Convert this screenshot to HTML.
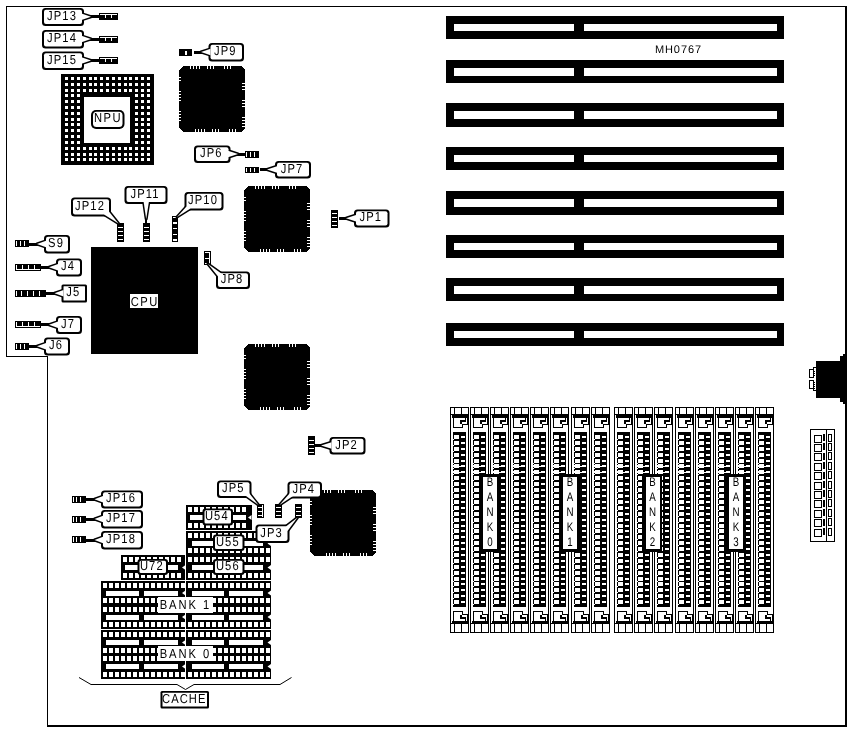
<!DOCTYPE html>
<html><head><meta charset="utf-8"><title>MH0767</title>
<style>
html,body{margin:0;padding:0;background:#fff;}
svg{display:block;font-family:"Liberation Sans",sans-serif;will-change:transform;}
text{fill:#000;}
</style></head>
<body>
<svg width="851" height="732" viewBox="0 0 851 732" shape-rendering="crispEdges" text-rendering="geometricPrecision">
<rect x="6" y="6" width="840" height="1" fill="#000"/>
<rect x="6" y="6" width="1" height="351" fill="#000"/>
<rect x="6" y="356" width="42" height="1" fill="#000"/>
<rect x="47" y="356" width="1" height="370" fill="#000"/>
<rect x="47" y="725" width="800" height="2" fill="#000"/>
<rect x="845" y="6" width="2" height="721" fill="#000"/>
<rect x="446" y="16" width="338" height="22.5" fill="#000"/>
<rect x="454" y="24" width="120" height="7" fill="#fff"/>
<rect x="583.5" y="24" width="193.5" height="7" fill="#fff"/>
<rect x="446" y="60" width="338" height="22.5" fill="#000"/>
<rect x="454" y="68" width="120" height="7.5" fill="#fff"/>
<rect x="583.5" y="68" width="193.5" height="7.5" fill="#fff"/>
<rect x="446" y="103" width="338" height="23.5" fill="#000"/>
<rect x="454" y="111" width="120" height="8" fill="#fff"/>
<rect x="583.5" y="111" width="193.5" height="8" fill="#fff"/>
<rect x="446" y="147" width="338" height="22.5" fill="#000"/>
<rect x="454" y="155" width="120" height="7" fill="#fff"/>
<rect x="583.5" y="155" width="193.5" height="7" fill="#fff"/>
<rect x="446" y="191" width="338" height="23.5" fill="#000"/>
<rect x="454" y="199" width="120" height="8" fill="#fff"/>
<rect x="583.5" y="199" width="193.5" height="8" fill="#fff"/>
<rect x="446" y="235" width="338" height="22.5" fill="#000"/>
<rect x="454" y="243" width="120" height="7" fill="#fff"/>
<rect x="583.5" y="243" width="193.5" height="7" fill="#fff"/>
<rect x="446" y="278" width="338" height="22.5" fill="#000"/>
<rect x="454" y="286" width="120" height="7.5" fill="#fff"/>
<rect x="583.5" y="286" width="193.5" height="7.5" fill="#fff"/>
<rect x="446" y="323" width="338" height="22.5" fill="#000"/>
<rect x="454" y="330.5" width="120" height="7.5" fill="#fff"/>
<rect x="583.5" y="330.5" width="193.5" height="7.5" fill="#fff"/>
<text transform="translate(678.45 53) scale(1 1)" font-size="11" text-anchor="middle" letter-spacing="0.9">MH0767</text>
<path d="M816 361H840V356H843V354H845V404H843V402H840V398H816Z" fill="#000" stroke="none" stroke-width="1"/>
<rect x="809.5" y="369.5" width="4" height="8" fill="#fff" stroke="#000" stroke-width="1"/>
<rect x="809.5" y="380.5" width="4" height="8" fill="#fff" stroke="#000" stroke-width="1"/>
<rect x="813.5" y="367.5" width="3" height="23" fill="#fff" stroke="#000" stroke-width="1"/>
<rect x="813" y="378" width="3" height="2" fill="#fff"/>
<rect x="814" y="371" width="1" height="1" fill="#000"/>
<rect x="814" y="373" width="1" height="1" fill="#000"/>
<rect x="814" y="375" width="1" height="1" fill="#000"/>
<rect x="814" y="382" width="1" height="1" fill="#000"/>
<rect x="814" y="384" width="1" height="1" fill="#000"/>
<rect x="814" y="386" width="1" height="1" fill="#000"/>
<rect x="814" y="388" width="1" height="1" fill="#000"/>
<rect x="810.5" y="429.5" width="24" height="112" fill="#fff" stroke="#000" stroke-width="1"/>
<rect x="814" y="435" width="7" height="7" fill="#fff" stroke="#000" stroke-width="1"/>
<rect x="823" y="434" width="1.5" height="7" fill="#000"/>
<rect x="828" y="434" width="3" height="7" fill="#fff" stroke="#000" stroke-width="1"/>
<rect x="814" y="444.4" width="7" height="7" fill="#fff" stroke="#000" stroke-width="1"/>
<rect x="823" y="443.4" width="1.5" height="7" fill="#000"/>
<rect x="828" y="443.4" width="3" height="7" fill="#fff" stroke="#000" stroke-width="1"/>
<rect x="814" y="453.8" width="7" height="7" fill="#fff" stroke="#000" stroke-width="1"/>
<rect x="823" y="452.8" width="1.5" height="7" fill="#000"/>
<rect x="828" y="452.8" width="3" height="7" fill="#fff" stroke="#000" stroke-width="1"/>
<rect x="814" y="463.2" width="7" height="7" fill="#fff" stroke="#000" stroke-width="1"/>
<rect x="823" y="462.2" width="1.5" height="7" fill="#000"/>
<rect x="828" y="462.2" width="3" height="7" fill="#fff" stroke="#000" stroke-width="1"/>
<rect x="814" y="472.6" width="7" height="7" fill="#fff" stroke="#000" stroke-width="1"/>
<rect x="823" y="471.6" width="1.5" height="7" fill="#000"/>
<rect x="828" y="471.6" width="3" height="7" fill="#fff" stroke="#000" stroke-width="1"/>
<rect x="814" y="482" width="7" height="7" fill="#fff" stroke="#000" stroke-width="1"/>
<rect x="823" y="481" width="1.5" height="7" fill="#000"/>
<rect x="828" y="481" width="3" height="7" fill="#fff" stroke="#000" stroke-width="1"/>
<rect x="814" y="491.4" width="7" height="7" fill="#fff" stroke="#000" stroke-width="1"/>
<rect x="823" y="490.4" width="1.5" height="7" fill="#000"/>
<rect x="828" y="490.4" width="3" height="7" fill="#fff" stroke="#000" stroke-width="1"/>
<rect x="814" y="500.8" width="7" height="7" fill="#fff" stroke="#000" stroke-width="1"/>
<rect x="823" y="499.8" width="1.5" height="7" fill="#000"/>
<rect x="828" y="499.8" width="3" height="7" fill="#fff" stroke="#000" stroke-width="1"/>
<rect x="814" y="510.2" width="7" height="7" fill="#fff" stroke="#000" stroke-width="1"/>
<rect x="823" y="509.2" width="1.5" height="7" fill="#000"/>
<rect x="828" y="509.2" width="3" height="7" fill="#fff" stroke="#000" stroke-width="1"/>
<rect x="814" y="519.6" width="7" height="7" fill="#fff" stroke="#000" stroke-width="1"/>
<rect x="823" y="518.6" width="1.5" height="7" fill="#000"/>
<rect x="828" y="518.6" width="3" height="7" fill="#fff" stroke="#000" stroke-width="1"/>
<rect x="814" y="529" width="7" height="7" fill="#fff" stroke="#000" stroke-width="1"/>
<rect x="823" y="528" width="1.5" height="7" fill="#000"/>
<rect x="828" y="528" width="3" height="7" fill="#fff" stroke="#000" stroke-width="1"/>
<rect x="825.5" y="430" width="1" height="111" fill="#000"/>
<path d="M183 66H241L245 70V128L241 132H183L179 128V70Z" fill="#000" stroke="none" stroke-width="1"/>
<rect x="190" y="66" width="1" height="3" fill="#fff"/>
<rect x="193" y="66" width="1" height="3" fill="#fff"/>
<rect x="196" y="66" width="1" height="3" fill="#fff"/>
<rect x="199" y="66" width="1" height="3" fill="#fff"/>
<rect x="207" y="66" width="1" height="3" fill="#fff"/>
<rect x="210" y="66" width="1" height="3" fill="#fff"/>
<rect x="213" y="66" width="1" height="3" fill="#fff"/>
<rect x="224" y="66" width="1" height="3" fill="#fff"/>
<rect x="227" y="66" width="1" height="3" fill="#fff"/>
<rect x="230" y="66" width="1" height="3" fill="#fff"/>
<rect x="195" y="129" width="1" height="3" fill="#fff"/>
<rect x="198" y="129" width="1" height="3" fill="#fff"/>
<rect x="201" y="129" width="1" height="3" fill="#fff"/>
<rect x="204" y="129" width="1" height="3" fill="#fff"/>
<rect x="212" y="129" width="1" height="3" fill="#fff"/>
<rect x="215" y="129" width="1" height="3" fill="#fff"/>
<rect x="218" y="129" width="1" height="3" fill="#fff"/>
<rect x="229" y="129" width="1" height="3" fill="#fff"/>
<rect x="232" y="129" width="1" height="3" fill="#fff"/>
<rect x="235" y="129" width="1" height="3" fill="#fff"/>
<rect x="179" y="77" width="2" height="1" fill="#fff"/>
<rect x="179" y="80" width="2" height="1" fill="#fff"/>
<rect x="179" y="91" width="2" height="1" fill="#fff"/>
<rect x="179" y="94" width="2" height="1" fill="#fff"/>
<rect x="179" y="97" width="2" height="1" fill="#fff"/>
<rect x="179" y="100" width="2" height="1" fill="#fff"/>
<rect x="179" y="111" width="2" height="1" fill="#fff"/>
<rect x="179" y="114" width="2" height="1" fill="#fff"/>
<rect x="179" y="117" width="2" height="1" fill="#fff"/>
<rect x="179" y="120" width="2" height="1" fill="#fff"/>
<rect x="242" y="83" width="3" height="1" fill="#fff"/>
<rect x="242" y="86" width="3" height="1" fill="#fff"/>
<rect x="242" y="89" width="3" height="1" fill="#fff"/>
<rect x="242" y="100" width="3" height="1" fill="#fff"/>
<rect x="242" y="103" width="3" height="1" fill="#fff"/>
<rect x="242" y="106" width="3" height="1" fill="#fff"/>
<rect x="242" y="117" width="3" height="1" fill="#fff"/>
<rect x="242" y="120" width="3" height="1" fill="#fff"/>
<rect x="242" y="123" width="3" height="1" fill="#fff"/>
<rect x="242" y="126" width="3" height="1" fill="#fff"/>
<path d="M248 186H306L310 190V248L306 252H248L244 248V190Z" fill="#000" stroke="none" stroke-width="1"/>
<rect x="255" y="186" width="1" height="3" fill="#fff"/>
<rect x="258" y="186" width="1" height="3" fill="#fff"/>
<rect x="261" y="186" width="1" height="3" fill="#fff"/>
<rect x="264" y="186" width="1" height="3" fill="#fff"/>
<rect x="272" y="186" width="1" height="3" fill="#fff"/>
<rect x="275" y="186" width="1" height="3" fill="#fff"/>
<rect x="278" y="186" width="1" height="3" fill="#fff"/>
<rect x="289" y="186" width="1" height="3" fill="#fff"/>
<rect x="292" y="186" width="1" height="3" fill="#fff"/>
<rect x="295" y="186" width="1" height="3" fill="#fff"/>
<rect x="260" y="249" width="1" height="3" fill="#fff"/>
<rect x="263" y="249" width="1" height="3" fill="#fff"/>
<rect x="266" y="249" width="1" height="3" fill="#fff"/>
<rect x="269" y="249" width="1" height="3" fill="#fff"/>
<rect x="277" y="249" width="1" height="3" fill="#fff"/>
<rect x="280" y="249" width="1" height="3" fill="#fff"/>
<rect x="283" y="249" width="1" height="3" fill="#fff"/>
<rect x="294" y="249" width="1" height="3" fill="#fff"/>
<rect x="297" y="249" width="1" height="3" fill="#fff"/>
<rect x="300" y="249" width="1" height="3" fill="#fff"/>
<rect x="244" y="197" width="2" height="1" fill="#fff"/>
<rect x="244" y="200" width="2" height="1" fill="#fff"/>
<rect x="244" y="211" width="2" height="1" fill="#fff"/>
<rect x="244" y="214" width="2" height="1" fill="#fff"/>
<rect x="244" y="217" width="2" height="1" fill="#fff"/>
<rect x="244" y="220" width="2" height="1" fill="#fff"/>
<rect x="244" y="231" width="2" height="1" fill="#fff"/>
<rect x="244" y="234" width="2" height="1" fill="#fff"/>
<rect x="244" y="237" width="2" height="1" fill="#fff"/>
<rect x="244" y="240" width="2" height="1" fill="#fff"/>
<rect x="307" y="203" width="3" height="1" fill="#fff"/>
<rect x="307" y="206" width="3" height="1" fill="#fff"/>
<rect x="307" y="209" width="3" height="1" fill="#fff"/>
<rect x="307" y="220" width="3" height="1" fill="#fff"/>
<rect x="307" y="223" width="3" height="1" fill="#fff"/>
<rect x="307" y="226" width="3" height="1" fill="#fff"/>
<rect x="307" y="237" width="3" height="1" fill="#fff"/>
<rect x="307" y="240" width="3" height="1" fill="#fff"/>
<rect x="307" y="243" width="3" height="1" fill="#fff"/>
<rect x="307" y="246" width="3" height="1" fill="#fff"/>
<path d="M248 344H306L310 348V406L306 410H248L244 406V348Z" fill="#000" stroke="none" stroke-width="1"/>
<rect x="255" y="344" width="1" height="3" fill="#fff"/>
<rect x="258" y="344" width="1" height="3" fill="#fff"/>
<rect x="261" y="344" width="1" height="3" fill="#fff"/>
<rect x="264" y="344" width="1" height="3" fill="#fff"/>
<rect x="272" y="344" width="1" height="3" fill="#fff"/>
<rect x="275" y="344" width="1" height="3" fill="#fff"/>
<rect x="278" y="344" width="1" height="3" fill="#fff"/>
<rect x="289" y="344" width="1" height="3" fill="#fff"/>
<rect x="292" y="344" width="1" height="3" fill="#fff"/>
<rect x="295" y="344" width="1" height="3" fill="#fff"/>
<rect x="260" y="407" width="1" height="3" fill="#fff"/>
<rect x="263" y="407" width="1" height="3" fill="#fff"/>
<rect x="266" y="407" width="1" height="3" fill="#fff"/>
<rect x="269" y="407" width="1" height="3" fill="#fff"/>
<rect x="277" y="407" width="1" height="3" fill="#fff"/>
<rect x="280" y="407" width="1" height="3" fill="#fff"/>
<rect x="283" y="407" width="1" height="3" fill="#fff"/>
<rect x="294" y="407" width="1" height="3" fill="#fff"/>
<rect x="297" y="407" width="1" height="3" fill="#fff"/>
<rect x="300" y="407" width="1" height="3" fill="#fff"/>
<rect x="244" y="355" width="2" height="1" fill="#fff"/>
<rect x="244" y="358" width="2" height="1" fill="#fff"/>
<rect x="244" y="369" width="2" height="1" fill="#fff"/>
<rect x="244" y="372" width="2" height="1" fill="#fff"/>
<rect x="244" y="375" width="2" height="1" fill="#fff"/>
<rect x="244" y="378" width="2" height="1" fill="#fff"/>
<rect x="244" y="389" width="2" height="1" fill="#fff"/>
<rect x="244" y="392" width="2" height="1" fill="#fff"/>
<rect x="244" y="395" width="2" height="1" fill="#fff"/>
<rect x="244" y="398" width="2" height="1" fill="#fff"/>
<rect x="307" y="361" width="3" height="1" fill="#fff"/>
<rect x="307" y="364" width="3" height="1" fill="#fff"/>
<rect x="307" y="367" width="3" height="1" fill="#fff"/>
<rect x="307" y="378" width="3" height="1" fill="#fff"/>
<rect x="307" y="381" width="3" height="1" fill="#fff"/>
<rect x="307" y="384" width="3" height="1" fill="#fff"/>
<rect x="307" y="395" width="3" height="1" fill="#fff"/>
<rect x="307" y="398" width="3" height="1" fill="#fff"/>
<rect x="307" y="401" width="3" height="1" fill="#fff"/>
<rect x="307" y="404" width="3" height="1" fill="#fff"/>
<path d="M314 490H372L376 494V552L372 556H314L310 552V494Z" fill="#000" stroke="none" stroke-width="1"/>
<rect x="321" y="490" width="1" height="3" fill="#fff"/>
<rect x="324" y="490" width="1" height="3" fill="#fff"/>
<rect x="327" y="490" width="1" height="3" fill="#fff"/>
<rect x="330" y="490" width="1" height="3" fill="#fff"/>
<rect x="338" y="490" width="1" height="3" fill="#fff"/>
<rect x="341" y="490" width="1" height="3" fill="#fff"/>
<rect x="344" y="490" width="1" height="3" fill="#fff"/>
<rect x="355" y="490" width="1" height="3" fill="#fff"/>
<rect x="358" y="490" width="1" height="3" fill="#fff"/>
<rect x="361" y="490" width="1" height="3" fill="#fff"/>
<rect x="326" y="553" width="1" height="3" fill="#fff"/>
<rect x="329" y="553" width="1" height="3" fill="#fff"/>
<rect x="332" y="553" width="1" height="3" fill="#fff"/>
<rect x="335" y="553" width="1" height="3" fill="#fff"/>
<rect x="343" y="553" width="1" height="3" fill="#fff"/>
<rect x="346" y="553" width="1" height="3" fill="#fff"/>
<rect x="349" y="553" width="1" height="3" fill="#fff"/>
<rect x="360" y="553" width="1" height="3" fill="#fff"/>
<rect x="363" y="553" width="1" height="3" fill="#fff"/>
<rect x="366" y="553" width="1" height="3" fill="#fff"/>
<rect x="310" y="501" width="2" height="1" fill="#fff"/>
<rect x="310" y="504" width="2" height="1" fill="#fff"/>
<rect x="310" y="515" width="2" height="1" fill="#fff"/>
<rect x="310" y="518" width="2" height="1" fill="#fff"/>
<rect x="310" y="521" width="2" height="1" fill="#fff"/>
<rect x="310" y="524" width="2" height="1" fill="#fff"/>
<rect x="310" y="535" width="2" height="1" fill="#fff"/>
<rect x="310" y="538" width="2" height="1" fill="#fff"/>
<rect x="310" y="541" width="2" height="1" fill="#fff"/>
<rect x="310" y="544" width="2" height="1" fill="#fff"/>
<rect x="373" y="507" width="3" height="1" fill="#fff"/>
<rect x="373" y="510" width="3" height="1" fill="#fff"/>
<rect x="373" y="513" width="3" height="1" fill="#fff"/>
<rect x="373" y="524" width="3" height="1" fill="#fff"/>
<rect x="373" y="527" width="3" height="1" fill="#fff"/>
<rect x="373" y="530" width="3" height="1" fill="#fff"/>
<rect x="373" y="541" width="3" height="1" fill="#fff"/>
<rect x="373" y="544" width="3" height="1" fill="#fff"/>
<rect x="373" y="547" width="3" height="1" fill="#fff"/>
<rect x="373" y="550" width="3" height="1" fill="#fff"/>
<rect x="61" y="74" width="93" height="91" fill="#000"/>
<rect x="65" y="77" width="3" height="3" fill="#fff"/>
<rect x="65" y="83" width="3" height="3" fill="#fff"/>
<rect x="65" y="89" width="3" height="3" fill="#fff"/>
<rect x="65" y="94" width="3" height="3" fill="#fff"/>
<rect x="65" y="100" width="3" height="3" fill="#fff"/>
<rect x="65" y="106" width="3" height="3" fill="#fff"/>
<rect x="65" y="112" width="3" height="3" fill="#fff"/>
<rect x="65" y="118" width="3" height="3" fill="#fff"/>
<rect x="65" y="123" width="3" height="3" fill="#fff"/>
<rect x="65" y="129" width="3" height="3" fill="#fff"/>
<rect x="65" y="135" width="3" height="3" fill="#fff"/>
<rect x="65" y="141" width="3" height="3" fill="#fff"/>
<rect x="65" y="147" width="3" height="3" fill="#fff"/>
<rect x="65" y="153" width="3" height="3" fill="#fff"/>
<rect x="65" y="158" width="3" height="3" fill="#fff"/>
<rect x="71" y="77" width="3" height="3" fill="#fff"/>
<rect x="71" y="83" width="3" height="3" fill="#fff"/>
<rect x="71" y="89" width="3" height="3" fill="#fff"/>
<rect x="71" y="94" width="3" height="3" fill="#fff"/>
<rect x="71" y="100" width="3" height="3" fill="#fff"/>
<rect x="71" y="106" width="3" height="3" fill="#fff"/>
<rect x="71" y="112" width="3" height="3" fill="#fff"/>
<rect x="71" y="118" width="3" height="3" fill="#fff"/>
<rect x="71" y="123" width="3" height="3" fill="#fff"/>
<rect x="71" y="129" width="3" height="3" fill="#fff"/>
<rect x="71" y="135" width="3" height="3" fill="#fff"/>
<rect x="71" y="141" width="3" height="3" fill="#fff"/>
<rect x="71" y="147" width="3" height="3" fill="#fff"/>
<rect x="71" y="153" width="3" height="3" fill="#fff"/>
<rect x="71" y="158" width="3" height="3" fill="#fff"/>
<rect x="77" y="77" width="3" height="3" fill="#fff"/>
<rect x="77" y="83" width="3" height="3" fill="#fff"/>
<rect x="77" y="89" width="3" height="3" fill="#fff"/>
<rect x="77" y="94" width="3" height="3" fill="#fff"/>
<rect x="77" y="100" width="3" height="3" fill="#fff"/>
<rect x="77" y="106" width="3" height="3" fill="#fff"/>
<rect x="77" y="112" width="3" height="3" fill="#fff"/>
<rect x="77" y="118" width="3" height="3" fill="#fff"/>
<rect x="77" y="123" width="3" height="3" fill="#fff"/>
<rect x="77" y="129" width="3" height="3" fill="#fff"/>
<rect x="77" y="135" width="3" height="3" fill="#fff"/>
<rect x="77" y="141" width="3" height="3" fill="#fff"/>
<rect x="77" y="147" width="3" height="3" fill="#fff"/>
<rect x="77" y="153" width="3" height="3" fill="#fff"/>
<rect x="77" y="158" width="3" height="3" fill="#fff"/>
<rect x="83" y="77" width="3" height="3" fill="#fff"/>
<rect x="83" y="83" width="3" height="3" fill="#fff"/>
<rect x="83" y="89" width="3" height="3" fill="#fff"/>
<rect x="83" y="147" width="3" height="3" fill="#fff"/>
<rect x="83" y="153" width="3" height="3" fill="#fff"/>
<rect x="83" y="158" width="3" height="3" fill="#fff"/>
<rect x="89" y="77" width="3" height="3" fill="#fff"/>
<rect x="89" y="83" width="3" height="3" fill="#fff"/>
<rect x="89" y="89" width="3" height="3" fill="#fff"/>
<rect x="89" y="147" width="3" height="3" fill="#fff"/>
<rect x="89" y="153" width="3" height="3" fill="#fff"/>
<rect x="89" y="158" width="3" height="3" fill="#fff"/>
<rect x="94" y="77" width="3" height="3" fill="#fff"/>
<rect x="94" y="83" width="3" height="3" fill="#fff"/>
<rect x="94" y="89" width="3" height="3" fill="#fff"/>
<rect x="94" y="147" width="3" height="3" fill="#fff"/>
<rect x="94" y="153" width="3" height="3" fill="#fff"/>
<rect x="94" y="158" width="3" height="3" fill="#fff"/>
<rect x="100" y="77" width="3" height="3" fill="#fff"/>
<rect x="100" y="83" width="3" height="3" fill="#fff"/>
<rect x="100" y="89" width="3" height="3" fill="#fff"/>
<rect x="100" y="147" width="3" height="3" fill="#fff"/>
<rect x="100" y="153" width="3" height="3" fill="#fff"/>
<rect x="100" y="158" width="3" height="3" fill="#fff"/>
<rect x="106" y="77" width="3" height="3" fill="#fff"/>
<rect x="106" y="83" width="3" height="3" fill="#fff"/>
<rect x="106" y="89" width="3" height="3" fill="#fff"/>
<rect x="106" y="147" width="3" height="3" fill="#fff"/>
<rect x="106" y="153" width="3" height="3" fill="#fff"/>
<rect x="106" y="158" width="3" height="3" fill="#fff"/>
<rect x="112" y="77" width="3" height="3" fill="#fff"/>
<rect x="112" y="83" width="3" height="3" fill="#fff"/>
<rect x="112" y="89" width="3" height="3" fill="#fff"/>
<rect x="112" y="147" width="3" height="3" fill="#fff"/>
<rect x="112" y="153" width="3" height="3" fill="#fff"/>
<rect x="112" y="158" width="3" height="3" fill="#fff"/>
<rect x="118" y="77" width="3" height="3" fill="#fff"/>
<rect x="118" y="83" width="3" height="3" fill="#fff"/>
<rect x="118" y="89" width="3" height="3" fill="#fff"/>
<rect x="118" y="147" width="3" height="3" fill="#fff"/>
<rect x="118" y="153" width="3" height="3" fill="#fff"/>
<rect x="118" y="158" width="3" height="3" fill="#fff"/>
<rect x="124" y="77" width="3" height="3" fill="#fff"/>
<rect x="124" y="83" width="3" height="3" fill="#fff"/>
<rect x="124" y="89" width="3" height="3" fill="#fff"/>
<rect x="124" y="147" width="3" height="3" fill="#fff"/>
<rect x="124" y="153" width="3" height="3" fill="#fff"/>
<rect x="124" y="158" width="3" height="3" fill="#fff"/>
<rect x="129" y="77" width="3" height="3" fill="#fff"/>
<rect x="129" y="83" width="3" height="3" fill="#fff"/>
<rect x="129" y="89" width="3" height="3" fill="#fff"/>
<rect x="129" y="147" width="3" height="3" fill="#fff"/>
<rect x="129" y="153" width="3" height="3" fill="#fff"/>
<rect x="129" y="158" width="3" height="3" fill="#fff"/>
<rect x="135" y="77" width="3" height="3" fill="#fff"/>
<rect x="135" y="83" width="3" height="3" fill="#fff"/>
<rect x="135" y="89" width="3" height="3" fill="#fff"/>
<rect x="135" y="94" width="3" height="3" fill="#fff"/>
<rect x="135" y="100" width="3" height="3" fill="#fff"/>
<rect x="135" y="106" width="3" height="3" fill="#fff"/>
<rect x="135" y="112" width="3" height="3" fill="#fff"/>
<rect x="135" y="118" width="3" height="3" fill="#fff"/>
<rect x="135" y="123" width="3" height="3" fill="#fff"/>
<rect x="135" y="129" width="3" height="3" fill="#fff"/>
<rect x="135" y="135" width="3" height="3" fill="#fff"/>
<rect x="135" y="141" width="3" height="3" fill="#fff"/>
<rect x="135" y="147" width="3" height="3" fill="#fff"/>
<rect x="135" y="153" width="3" height="3" fill="#fff"/>
<rect x="135" y="158" width="3" height="3" fill="#fff"/>
<rect x="141" y="77" width="3" height="3" fill="#fff"/>
<rect x="141" y="83" width="3" height="3" fill="#fff"/>
<rect x="141" y="89" width="3" height="3" fill="#fff"/>
<rect x="141" y="94" width="3" height="3" fill="#fff"/>
<rect x="141" y="100" width="3" height="3" fill="#fff"/>
<rect x="141" y="106" width="3" height="3" fill="#fff"/>
<rect x="141" y="112" width="3" height="3" fill="#fff"/>
<rect x="141" y="118" width="3" height="3" fill="#fff"/>
<rect x="141" y="123" width="3" height="3" fill="#fff"/>
<rect x="141" y="129" width="3" height="3" fill="#fff"/>
<rect x="141" y="135" width="3" height="3" fill="#fff"/>
<rect x="141" y="141" width="3" height="3" fill="#fff"/>
<rect x="141" y="147" width="3" height="3" fill="#fff"/>
<rect x="141" y="153" width="3" height="3" fill="#fff"/>
<rect x="141" y="158" width="3" height="3" fill="#fff"/>
<rect x="147" y="77" width="3" height="3" fill="#fff"/>
<rect x="147" y="83" width="3" height="3" fill="#fff"/>
<rect x="147" y="89" width="3" height="3" fill="#fff"/>
<rect x="147" y="94" width="3" height="3" fill="#fff"/>
<rect x="147" y="100" width="3" height="3" fill="#fff"/>
<rect x="147" y="106" width="3" height="3" fill="#fff"/>
<rect x="147" y="112" width="3" height="3" fill="#fff"/>
<rect x="147" y="118" width="3" height="3" fill="#fff"/>
<rect x="147" y="123" width="3" height="3" fill="#fff"/>
<rect x="147" y="129" width="3" height="3" fill="#fff"/>
<rect x="147" y="135" width="3" height="3" fill="#fff"/>
<rect x="147" y="141" width="3" height="3" fill="#fff"/>
<rect x="147" y="147" width="3" height="3" fill="#fff"/>
<rect x="147" y="153" width="3" height="3" fill="#fff"/>
<rect x="147" y="158" width="3" height="3" fill="#fff"/>
<rect x="84" y="97" width="46" height="46" fill="#fff"/>
<rect x="91" y="247" width="107" height="107" fill="#000"/>
<rect x="130" y="294" width="28" height="14" fill="#fff"/>
<text transform="translate(144.774 305.5) scale(0.86 1)" font-size="13" text-anchor="middle" letter-spacing="1.8">CPU</text>
<rect x="99" y="13" width="19" height="7" fill="#000"/>
<rect x="100" y="14" width="17" height="1" fill="#fff"/>
<rect x="105" y="15" width="1" height="3" fill="#fff"/>
<rect x="111" y="15" width="1" height="3" fill="#fff"/>
<rect x="89.5" y="15.25" width="9.5" height="3" fill="#000"/>
<rect x="42" y="8" width="42" height="18" rx="3.5" ry="3.5" fill="#000" shape-rendering="geometricPrecision"/>
<path d="M81.5 13.55L91 16.75L81.5 19.95Z" fill="#000" stroke="#000" stroke-width="3" stroke-linejoin="round" shape-rendering="geometricPrecision"/>
<rect x="44" y="9.75" width="38" height="14.25" rx="2.0" ry="2.0" fill="#fff" shape-rendering="geometricPrecision"/>
<path d="M81.5 13.55L91 16.75L81.5 19.95Z" fill="#fff" shape-rendering="geometricPrecision"/>
<text transform="translate(62.059 19.8) scale(0.86 1)" font-size="13" text-anchor="middle" letter-spacing="1.3">JP13</text>
<rect x="99" y="36" width="19" height="7" fill="#000"/>
<rect x="100" y="37" width="17" height="1" fill="#fff"/>
<rect x="105" y="38" width="1" height="3" fill="#fff"/>
<rect x="111" y="38" width="1" height="3" fill="#fff"/>
<rect x="89.5" y="37.5" width="9.5" height="3" fill="#000"/>
<rect x="42" y="30" width="42" height="18.5" rx="3.5" ry="3.5" fill="#000" shape-rendering="geometricPrecision"/>
<path d="M81.5 35.8L91 39.0L81.5 42.2Z" fill="#000" stroke="#000" stroke-width="3" stroke-linejoin="round" shape-rendering="geometricPrecision"/>
<rect x="44" y="31.75" width="38" height="14.75" rx="2.0" ry="2.0" fill="#fff" shape-rendering="geometricPrecision"/>
<path d="M81.5 35.8L91 39.0L81.5 42.2Z" fill="#fff" shape-rendering="geometricPrecision"/>
<text transform="translate(62.059 42.05) scale(0.86 1)" font-size="13" text-anchor="middle" letter-spacing="1.3">JP14</text>
<rect x="99" y="57" width="19" height="7" fill="#000"/>
<rect x="100" y="58" width="17" height="1" fill="#fff"/>
<rect x="105" y="59" width="1" height="3" fill="#fff"/>
<rect x="111" y="59" width="1" height="3" fill="#fff"/>
<rect x="89.5" y="59" width="9.5" height="3" fill="#000"/>
<rect x="42" y="51.5" width="42" height="18.5" rx="3.5" ry="3.5" fill="#000" shape-rendering="geometricPrecision"/>
<path d="M81.5 57.3L91 60.5L81.5 63.7Z" fill="#000" stroke="#000" stroke-width="3" stroke-linejoin="round" shape-rendering="geometricPrecision"/>
<rect x="44" y="53.25" width="38" height="14.75" rx="2.0" ry="2.0" fill="#fff" shape-rendering="geometricPrecision"/>
<path d="M81.5 57.3L91 60.5L81.5 63.7Z" fill="#fff" shape-rendering="geometricPrecision"/>
<text transform="translate(62.059 63.55) scale(0.86 1)" font-size="13" text-anchor="middle" letter-spacing="1.3">JP15</text>
<rect x="245" y="151" width="14" height="6.5" fill="#000"/>
<rect x="250" y="152" width="1" height="4.5" fill="#fff"/>
<rect x="254" y="152" width="1" height="4.5" fill="#fff"/>
<rect x="246" y="152" width="1" height="4.5" fill="#fff"/>
<rect x="236.5" y="152.5" width="8.5" height="3" fill="#000"/>
<rect x="194" y="145.5" width="36.5" height="17.5" rx="3.5" ry="3.5" fill="#000" shape-rendering="geometricPrecision"/>
<path d="M228.0 150.8L238 154.0L228.0 157.2Z" fill="#000" stroke="#000" stroke-width="3" stroke-linejoin="round" shape-rendering="geometricPrecision"/>
<rect x="196" y="147.25" width="32.5" height="13.75" rx="2.0" ry="2.0" fill="#fff" shape-rendering="geometricPrecision"/>
<path d="M228.0 150.8L238 154.0L228.0 157.2Z" fill="#fff" shape-rendering="geometricPrecision"/>
<text transform="translate(211.309 157.05) scale(0.86 1)" font-size="13" text-anchor="middle" letter-spacing="1.3">JP6</text>
<rect x="179" y="49" width="13" height="7" fill="#000"/>
<rect x="185" y="50.5" width="2" height="4" fill="#fff"/>
<rect x="194" y="50.5" width="8.5" height="3" fill="#000"/>
<rect x="208.5" y="43" width="35.5" height="18.5" rx="3.5" ry="3.5" fill="#000" shape-rendering="geometricPrecision"/>
<path d="M210.5 48.8L201 52.0L210.5 55.2Z" fill="#000" stroke="#000" stroke-width="3" stroke-linejoin="round" shape-rendering="geometricPrecision"/>
<rect x="210.5" y="44.75" width="31.5" height="14.75" rx="2.0" ry="2.0" fill="#fff" shape-rendering="geometricPrecision"/>
<path d="M210.5 48.8L201 52.0L210.5 55.2Z" fill="#fff" shape-rendering="geometricPrecision"/>
<text transform="translate(225.309 55.05) scale(0.86 1)" font-size="13" text-anchor="middle" letter-spacing="1.3">JP9</text>
<rect x="245" y="166.5" width="14" height="6.5" fill="#000"/>
<rect x="250" y="167.5" width="1" height="4.5" fill="#fff"/>
<rect x="254" y="167.5" width="1" height="4.5" fill="#fff"/>
<rect x="246" y="167.5" width="1" height="4.5" fill="#fff"/>
<rect x="260" y="168" width="8.5" height="3" fill="#000"/>
<rect x="275" y="161" width="36" height="17.5" rx="3.5" ry="3.5" fill="#000" shape-rendering="geometricPrecision"/>
<path d="M277 166.3L267 169.5L277 172.7Z" fill="#000" stroke="#000" stroke-width="3" stroke-linejoin="round" shape-rendering="geometricPrecision"/>
<rect x="277" y="162.75" width="32" height="13.75" rx="2.0" ry="2.0" fill="#fff" shape-rendering="geometricPrecision"/>
<path d="M277 166.3L267 169.5L277 172.7Z" fill="#fff" shape-rendering="geometricPrecision"/>
<text transform="translate(292.059 172.55) scale(0.86 1)" font-size="13" text-anchor="middle" letter-spacing="1.3">JP7</text>
<rect x="331" y="209.5" width="7" height="18" fill="#000"/>
<rect x="332" y="213" width="5" height="1" fill="#fff"/>
<rect x="332" y="217" width="5" height="1" fill="#fff"/>
<rect x="332" y="221" width="5" height="1" fill="#fff"/>
<rect x="332" y="225" width="5" height="1" fill="#fff"/>
<rect x="339" y="216.75" width="8.5" height="3" fill="#000"/>
<rect x="354" y="209.5" width="35.5" height="18" rx="3.5" ry="3.5" fill="#000" shape-rendering="geometricPrecision"/>
<path d="M356 215.05L346 218.25L356 221.45Z" fill="#000" stroke="#000" stroke-width="3" stroke-linejoin="round" shape-rendering="geometricPrecision"/>
<rect x="356" y="211.25" width="31.5" height="14.25" rx="2.0" ry="2.0" fill="#fff" shape-rendering="geometricPrecision"/>
<path d="M356 215.05L346 218.25L356 221.45Z" fill="#fff" shape-rendering="geometricPrecision"/>
<text transform="translate(370.809 221.3) scale(0.86 1)" font-size="13" text-anchor="middle" letter-spacing="1.3">JP1</text>
<rect x="308" y="436" width="6.5" height="18.5" fill="#000"/>
<rect x="309" y="440" width="4.5" height="1" fill="#fff"/>
<rect x="309" y="444" width="4.5" height="1" fill="#fff"/>
<rect x="309" y="448" width="4.5" height="1" fill="#fff"/>
<rect x="309" y="452" width="4.5" height="1" fill="#fff"/>
<rect x="315" y="444" width="7.5" height="3" fill="#000"/>
<rect x="329.5" y="437" width="36" height="17.5" rx="3.5" ry="3.5" fill="#000" shape-rendering="geometricPrecision"/>
<path d="M331.5 442.3L321 445.5L331.5 448.7Z" fill="#000" stroke="#000" stroke-width="3" stroke-linejoin="round" shape-rendering="geometricPrecision"/>
<rect x="331.5" y="438.75" width="32" height="13.75" rx="2.0" ry="2.0" fill="#fff" shape-rendering="geometricPrecision"/>
<path d="M331.5 442.3L321 445.5L331.5 448.7Z" fill="#fff" shape-rendering="geometricPrecision"/>
<text transform="translate(346.559 448.55) scale(0.86 1)" font-size="13" text-anchor="middle" letter-spacing="1.3">JP2</text>
<rect x="15" y="240" width="14" height="7" fill="#000"/>
<rect x="20" y="241" width="1" height="5" fill="#fff"/>
<rect x="24" y="241" width="1" height="5" fill="#fff"/>
<rect x="16" y="241" width="1" height="5" fill="#fff"/>
<rect x="29" y="242.5" width="9.5" height="3" fill="#000"/>
<rect x="44" y="235" width="26" height="18.5" rx="3.5" ry="3.5" fill="#000" shape-rendering="geometricPrecision"/>
<path d="M46 240.8L37 244.0L46 247.2Z" fill="#000" stroke="#000" stroke-width="3" stroke-linejoin="round" shape-rendering="geometricPrecision"/>
<rect x="46" y="236.75" width="22" height="14.75" rx="2.0" ry="2.0" fill="#fff" shape-rendering="geometricPrecision"/>
<path d="M46 240.8L37 244.0L46 247.2Z" fill="#fff" shape-rendering="geometricPrecision"/>
<text transform="translate(56.059 247.05) scale(0.86 1)" font-size="13" text-anchor="middle" letter-spacing="1.3">S9</text>
<rect x="15" y="264" width="26" height="7" fill="#000"/>
<rect x="16" y="269" width="24" height="1" fill="#fff"/>
<rect x="22" y="265" width="1" height="4" fill="#fff"/>
<rect x="28" y="265" width="1" height="4" fill="#fff"/>
<rect x="34" y="265" width="1" height="4" fill="#fff"/>
<rect x="16" y="265" width="1" height="4" fill="#fff"/>
<rect x="41" y="265.75" width="9.5" height="3" fill="#000"/>
<rect x="56" y="258.5" width="26" height="18" rx="3.5" ry="3.5" fill="#000" shape-rendering="geometricPrecision"/>
<path d="M58 264.05L49 267.25L58 270.45Z" fill="#000" stroke="#000" stroke-width="3" stroke-linejoin="round" shape-rendering="geometricPrecision"/>
<rect x="58" y="260.25" width="22" height="14.25" rx="2.0" ry="2.0" fill="#fff" shape-rendering="geometricPrecision"/>
<path d="M58 264.05L49 267.25L58 270.45Z" fill="#fff" shape-rendering="geometricPrecision"/>
<text transform="translate(68.059 270.3) scale(0.86 1)" font-size="13" text-anchor="middle" letter-spacing="1.3">J4</text>
<rect x="15" y="290" width="31" height="7" fill="#000"/>
<rect x="21" y="291" width="1" height="5" fill="#fff"/>
<rect x="27" y="291" width="1" height="5" fill="#fff"/>
<rect x="33" y="291" width="1" height="5" fill="#fff"/>
<rect x="39" y="291" width="1" height="5" fill="#fff"/>
<rect x="16" y="291" width="1" height="5" fill="#fff"/>
<rect x="46" y="291.75" width="10" height="3" fill="#000"/>
<rect x="61.5" y="284.5" width="25.5" height="18" rx="1.5" ry="1.5" fill="#000" shape-rendering="geometricPrecision"/>
<path d="M63.5 290.05L54.5 293.25L63.5 296.45Z" fill="#000" stroke="#000" stroke-width="3" stroke-linejoin="round" shape-rendering="geometricPrecision"/>
<rect x="63.5" y="286.25" width="21.5" height="14.25" rx="0.5" ry="0.5" fill="#fff" shape-rendering="geometricPrecision"/>
<path d="M63.5 290.05L54.5 293.25L63.5 296.45Z" fill="#fff" shape-rendering="geometricPrecision"/>
<text transform="translate(73.309 296.3) scale(0.86 1)" font-size="13" text-anchor="middle" letter-spacing="1.3">J5</text>
<rect x="15" y="321" width="26" height="7" fill="#000"/>
<rect x="16" y="326" width="24" height="1" fill="#fff"/>
<rect x="22" y="322" width="1" height="4" fill="#fff"/>
<rect x="28" y="322" width="1" height="4" fill="#fff"/>
<rect x="34" y="322" width="1" height="4" fill="#fff"/>
<rect x="16" y="322" width="1" height="4" fill="#fff"/>
<rect x="41" y="323.25" width="9.5" height="3" fill="#000"/>
<rect x="56" y="316" width="26" height="18" rx="3.5" ry="3.5" fill="#000" shape-rendering="geometricPrecision"/>
<path d="M58 321.55L49 324.75L58 327.95Z" fill="#000" stroke="#000" stroke-width="3" stroke-linejoin="round" shape-rendering="geometricPrecision"/>
<rect x="58" y="317.75" width="22" height="14.25" rx="2.0" ry="2.0" fill="#fff" shape-rendering="geometricPrecision"/>
<path d="M58 321.55L49 324.75L58 327.95Z" fill="#fff" shape-rendering="geometricPrecision"/>
<text transform="translate(68.059 327.8) scale(0.86 1)" font-size="13" text-anchor="middle" letter-spacing="1.3">J7</text>
<rect x="15" y="343" width="14" height="7" fill="#000"/>
<rect x="20" y="344" width="1" height="5" fill="#fff"/>
<rect x="24" y="344" width="1" height="5" fill="#fff"/>
<rect x="16" y="344" width="1" height="5" fill="#fff"/>
<rect x="29" y="344.75" width="9.5" height="3" fill="#000"/>
<rect x="44" y="337.5" width="26" height="18" rx="3.5" ry="3.5" fill="#000" shape-rendering="geometricPrecision"/>
<path d="M46 343.05L37 346.25L46 349.45Z" fill="#000" stroke="#000" stroke-width="3" stroke-linejoin="round" shape-rendering="geometricPrecision"/>
<rect x="46" y="339.25" width="22" height="14.25" rx="2.0" ry="2.0" fill="#fff" shape-rendering="geometricPrecision"/>
<path d="M46 343.05L37 346.25L46 349.45Z" fill="#fff" shape-rendering="geometricPrecision"/>
<text transform="translate(56.059 349.3) scale(0.86 1)" font-size="13" text-anchor="middle" letter-spacing="1.3">J6</text>
<rect x="72" y="496" width="14" height="7" fill="#000"/>
<rect x="76" y="497" width="1" height="5" fill="#fff"/>
<rect x="80" y="497" width="1" height="5" fill="#fff"/>
<rect x="73" y="497" width="1" height="5" fill="#fff"/>
<rect x="86" y="497.75" width="10" height="3" fill="#000"/>
<rect x="101" y="490.5" width="42" height="18" rx="3.5" ry="3.5" fill="#000" shape-rendering="geometricPrecision"/>
<path d="M103 496.05L94.5 499.25L103 502.45Z" fill="#000" stroke="#000" stroke-width="3" stroke-linejoin="round" shape-rendering="geometricPrecision"/>
<rect x="103" y="492.25" width="38" height="14.25" rx="2.0" ry="2.0" fill="#fff" shape-rendering="geometricPrecision"/>
<path d="M103 496.05L94.5 499.25L103 502.45Z" fill="#fff" shape-rendering="geometricPrecision"/>
<text transform="translate(121.059 502.3) scale(0.86 1)" font-size="13" text-anchor="middle" letter-spacing="1.3">JP16</text>
<rect x="72" y="516" width="14" height="7" fill="#000"/>
<rect x="76" y="517" width="1" height="5" fill="#fff"/>
<rect x="80" y="517" width="1" height="5" fill="#fff"/>
<rect x="73" y="517" width="1" height="5" fill="#fff"/>
<rect x="86" y="517.5" width="10" height="3" fill="#000"/>
<rect x="101" y="510" width="42" height="18.5" rx="3.5" ry="3.5" fill="#000" shape-rendering="geometricPrecision"/>
<path d="M103 515.8L94.5 519.0L103 522.2Z" fill="#000" stroke="#000" stroke-width="3" stroke-linejoin="round" shape-rendering="geometricPrecision"/>
<rect x="103" y="511.75" width="38" height="14.75" rx="2.0" ry="2.0" fill="#fff" shape-rendering="geometricPrecision"/>
<path d="M103 515.8L94.5 519.0L103 522.2Z" fill="#fff" shape-rendering="geometricPrecision"/>
<text transform="translate(121.059 522.05) scale(0.86 1)" font-size="13" text-anchor="middle" letter-spacing="1.3">JP17</text>
<rect x="72" y="536" width="14" height="7" fill="#000"/>
<rect x="76" y="537" width="1" height="5" fill="#fff"/>
<rect x="80" y="537" width="1" height="5" fill="#fff"/>
<rect x="73" y="537" width="1" height="5" fill="#fff"/>
<rect x="86" y="538.5" width="10" height="3" fill="#000"/>
<rect x="101" y="531" width="42" height="18.5" rx="3.5" ry="3.5" fill="#000" shape-rendering="geometricPrecision"/>
<path d="M103 536.8L94.5 540.0L103 543.2Z" fill="#000" stroke="#000" stroke-width="3" stroke-linejoin="round" shape-rendering="geometricPrecision"/>
<rect x="103" y="532.75" width="38" height="14.75" rx="2.0" ry="2.0" fill="#fff" shape-rendering="geometricPrecision"/>
<path d="M103 536.8L94.5 540.0L103 543.2Z" fill="#fff" shape-rendering="geometricPrecision"/>
<text transform="translate(121.059 543.05) scale(0.86 1)" font-size="13" text-anchor="middle" letter-spacing="1.3">JP18</text>
<rect x="117" y="223" width="7" height="18.5" fill="#000"/>
<rect x="118" y="227" width="5" height="1" fill="#fff"/>
<rect x="118" y="231" width="5" height="1" fill="#fff"/>
<rect x="118" y="235" width="5" height="1" fill="#fff"/>
<rect x="118" y="239" width="5" height="1" fill="#fff"/>
<rect x="142.5" y="223" width="7.5" height="18.5" fill="#000"/>
<rect x="143.5" y="227" width="5.5" height="1" fill="#fff"/>
<rect x="143.5" y="231" width="5.5" height="1" fill="#fff"/>
<rect x="143.5" y="235" width="5.5" height="1" fill="#fff"/>
<rect x="143.5" y="239" width="5.5" height="1" fill="#fff"/>
<rect x="172" y="216" width="6" height="26" fill="#000"/>
<rect x="173" y="217" width="4" height="1" fill="#fff"/>
<rect x="173" y="222" width="4" height="2" fill="#fff"/>
<rect x="173" y="228" width="4" height="1" fill="#fff"/>
<rect x="173" y="234" width="4" height="1" fill="#fff"/>
<rect x="173" y="239" width="4" height="2" fill="#fff"/>
<rect x="71" y="197.5" width="40" height="19" rx="3.5" ry="3.5" fill="#000" shape-rendering="geometricPrecision"/>
<path d="M108.5 211L118.5 223.5L104 214.5Z" fill="#000" stroke="#000" stroke-width="3" stroke-linejoin="round" shape-rendering="geometricPrecision"/>
<rect x="73" y="199.25" width="36" height="15.25" rx="2.0" ry="2.0" fill="#fff" shape-rendering="geometricPrecision"/>
<path d="M108.5 211L118.5 223.5L104 214.5Z" fill="#fff" shape-rendering="geometricPrecision"/>
<text transform="translate(90.059 209.8) scale(0.86 1)" font-size="13" text-anchor="middle" letter-spacing="1.3">JP12</text>
<rect x="144.8" y="217" width="2.6" height="6" fill="#000"/>
<rect x="124.5" y="186" width="43" height="18" rx="3.5" ry="3.5" fill="#000" shape-rendering="geometricPrecision"/>
<path d="M143.5 201L146.2 219L149 201Z" fill="#000" stroke="#000" stroke-width="3" stroke-linejoin="round" shape-rendering="geometricPrecision"/>
<rect x="126.5" y="187.75" width="39" height="14.25" rx="2.0" ry="2.0" fill="#fff" shape-rendering="geometricPrecision"/>
<path d="M143.5 201L146.2 219L149 201Z" fill="#fff" shape-rendering="geometricPrecision"/>
<text transform="translate(145.059 197.8) scale(0.86 1)" font-size="13" text-anchor="middle" letter-spacing="1.3">JP11</text>
<rect x="184.5" y="192" width="39" height="18.5" rx="3.5" ry="3.5" fill="#000" shape-rendering="geometricPrecision"/>
<path d="M186.5 206.5L177 217L190.5 208.5Z" fill="#000" stroke="#000" stroke-width="3" stroke-linejoin="round" shape-rendering="geometricPrecision"/>
<rect x="186.5" y="193.75" width="35" height="14.75" rx="2.0" ry="2.0" fill="#fff" shape-rendering="geometricPrecision"/>
<path d="M186.5 206.5L177 217L190.5 208.5Z" fill="#fff" shape-rendering="geometricPrecision"/>
<text transform="translate(203.059 204.05) scale(0.86 1)" font-size="13" text-anchor="middle" letter-spacing="1.3">JP10</text>
<rect x="204" y="251" width="7" height="14" fill="#000"/>
<rect x="205" y="252" width="5" height="12" fill="#fff"/>
<rect x="205" y="253" width="3.5" height="4.5" fill="#000"/>
<rect x="205" y="259" width="3.5" height="4" fill="#000"/>
<rect x="216" y="271.5" width="34" height="17.5" rx="3.5" ry="3.5" fill="#000" shape-rendering="geometricPrecision"/>
<path d="M218.5 277L208 264L222 274Z" fill="#000" stroke="#000" stroke-width="3" stroke-linejoin="round" shape-rendering="geometricPrecision"/>
<rect x="218" y="273.25" width="30" height="13.75" rx="2.0" ry="2.0" fill="#fff" shape-rendering="geometricPrecision"/>
<path d="M218.5 277L208 264L222 274Z" fill="#fff" shape-rendering="geometricPrecision"/>
<text transform="translate(232.059 283.05) scale(0.86 1)" font-size="13" text-anchor="middle" letter-spacing="1.3">JP8</text>
<rect x="186" y="505" width="65.5" height="25" fill="#000"/>
<rect x="188" y="507" width="4" height="5" fill="#fff"/>
<rect x="188" y="523" width="4" height="5" fill="#fff"/>
<rect x="194" y="507" width="4" height="5" fill="#fff"/>
<rect x="194" y="523" width="4" height="5" fill="#fff"/>
<rect x="200" y="507" width="4" height="5" fill="#fff"/>
<rect x="200" y="523" width="4" height="5" fill="#fff"/>
<rect x="206" y="507" width="4" height="5" fill="#fff"/>
<rect x="206" y="523" width="4" height="5" fill="#fff"/>
<rect x="212" y="507" width="4" height="5" fill="#fff"/>
<rect x="212" y="523" width="4" height="5" fill="#fff"/>
<rect x="218" y="507" width="4" height="5" fill="#fff"/>
<rect x="218" y="523" width="4" height="5" fill="#fff"/>
<rect x="224" y="507" width="4" height="5" fill="#fff"/>
<rect x="224" y="523" width="4" height="5" fill="#fff"/>
<rect x="230" y="507" width="4" height="5" fill="#fff"/>
<rect x="230" y="523" width="4" height="5" fill="#fff"/>
<rect x="236" y="507" width="4" height="5" fill="#fff"/>
<rect x="236" y="523" width="4" height="5" fill="#fff"/>
<rect x="242" y="507" width="4" height="5" fill="#fff"/>
<rect x="242" y="523" width="4" height="5" fill="#fff"/>
<rect x="190" y="515" width="56" height="5" fill="#fff"/>
<path d="M251.5 515L248.0 517.5L251.5 520Z" fill="#fff" stroke="none" stroke-width="1" shape-rendering="geometricPrecision"/>
<rect x="186" y="531" width="85" height="24" fill="#000"/>
<rect x="188" y="533" width="4" height="5" fill="#fff"/>
<rect x="188" y="548" width="4" height="5" fill="#fff"/>
<rect x="194" y="533" width="4" height="5" fill="#fff"/>
<rect x="194" y="548" width="4" height="5" fill="#fff"/>
<rect x="200" y="533" width="4" height="5" fill="#fff"/>
<rect x="200" y="548" width="4" height="5" fill="#fff"/>
<rect x="206" y="533" width="4" height="5" fill="#fff"/>
<rect x="206" y="548" width="4" height="5" fill="#fff"/>
<rect x="212" y="533" width="4" height="5" fill="#fff"/>
<rect x="212" y="548" width="4" height="5" fill="#fff"/>
<rect x="218" y="533" width="4" height="5" fill="#fff"/>
<rect x="218" y="548" width="4" height="5" fill="#fff"/>
<rect x="224" y="533" width="4" height="5" fill="#fff"/>
<rect x="224" y="548" width="4" height="5" fill="#fff"/>
<rect x="230" y="533" width="4" height="5" fill="#fff"/>
<rect x="230" y="548" width="4" height="5" fill="#fff"/>
<rect x="236" y="533" width="4" height="5" fill="#fff"/>
<rect x="236" y="548" width="4" height="5" fill="#fff"/>
<rect x="242" y="533" width="4" height="5" fill="#fff"/>
<rect x="242" y="548" width="4" height="5" fill="#fff"/>
<rect x="248" y="533" width="4" height="5" fill="#fff"/>
<rect x="248" y="548" width="4" height="5" fill="#fff"/>
<rect x="254" y="533" width="4" height="5" fill="#fff"/>
<rect x="254" y="548" width="4" height="5" fill="#fff"/>
<rect x="260" y="533" width="4" height="5" fill="#fff"/>
<rect x="260" y="548" width="4" height="5" fill="#fff"/>
<rect x="266" y="533" width="4" height="5" fill="#fff"/>
<rect x="266" y="548" width="4" height="5" fill="#fff"/>
<rect x="191.5" y="541" width="71.5" height="5" fill="#fff"/>
<path d="M271 541L267.5 543.5L271 546Z" fill="#fff" stroke="none" stroke-width="1" shape-rendering="geometricPrecision"/>
<rect x="186" y="555" width="85" height="24.5" fill="#000"/>
<rect x="188" y="557" width="4" height="5" fill="#fff"/>
<rect x="188" y="572.5" width="4" height="5" fill="#fff"/>
<rect x="194" y="557" width="4" height="5" fill="#fff"/>
<rect x="194" y="572.5" width="4" height="5" fill="#fff"/>
<rect x="200" y="557" width="4" height="5" fill="#fff"/>
<rect x="200" y="572.5" width="4" height="5" fill="#fff"/>
<rect x="206" y="557" width="4" height="5" fill="#fff"/>
<rect x="206" y="572.5" width="4" height="5" fill="#fff"/>
<rect x="212" y="557" width="4" height="5" fill="#fff"/>
<rect x="212" y="572.5" width="4" height="5" fill="#fff"/>
<rect x="218" y="557" width="4" height="5" fill="#fff"/>
<rect x="218" y="572.5" width="4" height="5" fill="#fff"/>
<rect x="224" y="557" width="4" height="5" fill="#fff"/>
<rect x="224" y="572.5" width="4" height="5" fill="#fff"/>
<rect x="230" y="557" width="4" height="5" fill="#fff"/>
<rect x="230" y="572.5" width="4" height="5" fill="#fff"/>
<rect x="236" y="557" width="4" height="5" fill="#fff"/>
<rect x="236" y="572.5" width="4" height="5" fill="#fff"/>
<rect x="242" y="557" width="4" height="5" fill="#fff"/>
<rect x="242" y="572.5" width="4" height="5" fill="#fff"/>
<rect x="248" y="557" width="4" height="5" fill="#fff"/>
<rect x="248" y="572.5" width="4" height="5" fill="#fff"/>
<rect x="254" y="557" width="4" height="5" fill="#fff"/>
<rect x="254" y="572.5" width="4" height="5" fill="#fff"/>
<rect x="260" y="557" width="4" height="5" fill="#fff"/>
<rect x="260" y="572.5" width="4" height="5" fill="#fff"/>
<rect x="266" y="557" width="4" height="5" fill="#fff"/>
<rect x="266" y="572.5" width="4" height="5" fill="#fff"/>
<rect x="191.5" y="565" width="71.5" height="5" fill="#fff"/>
<path d="M271 565L267.5 567.5L271 570Z" fill="#fff" stroke="none" stroke-width="1" shape-rendering="geometricPrecision"/>
<rect x="120.5" y="555" width="65" height="24.5" fill="#000"/>
<rect x="122.5" y="557" width="4" height="5" fill="#fff"/>
<rect x="122.5" y="572.5" width="4" height="5" fill="#fff"/>
<rect x="128.5" y="557" width="4" height="5" fill="#fff"/>
<rect x="128.5" y="572.5" width="4" height="5" fill="#fff"/>
<rect x="134.5" y="557" width="4" height="5" fill="#fff"/>
<rect x="134.5" y="572.5" width="4" height="5" fill="#fff"/>
<rect x="140.5" y="557" width="4" height="5" fill="#fff"/>
<rect x="140.5" y="572.5" width="4" height="5" fill="#fff"/>
<rect x="146.5" y="557" width="4" height="5" fill="#fff"/>
<rect x="146.5" y="572.5" width="4" height="5" fill="#fff"/>
<rect x="152.5" y="557" width="4" height="5" fill="#fff"/>
<rect x="152.5" y="572.5" width="4" height="5" fill="#fff"/>
<rect x="158.5" y="557" width="4" height="5" fill="#fff"/>
<rect x="158.5" y="572.5" width="4" height="5" fill="#fff"/>
<rect x="164.5" y="557" width="4" height="5" fill="#fff"/>
<rect x="164.5" y="572.5" width="4" height="5" fill="#fff"/>
<rect x="170.5" y="557" width="4" height="5" fill="#fff"/>
<rect x="170.5" y="572.5" width="4" height="5" fill="#fff"/>
<rect x="176.5" y="557" width="4" height="5" fill="#fff"/>
<rect x="176.5" y="572.5" width="4" height="5" fill="#fff"/>
<rect x="125" y="565" width="53" height="5" fill="#fff"/>
<path d="M185.5 565L182.0 567.5L185.5 570Z" fill="#fff" stroke="none" stroke-width="1" shape-rendering="geometricPrecision"/>
<rect x="101" y="580.5" width="170" height="98.5" fill="#000"/>
<rect x="101" y="580.5" width="84.5" height="24.5" fill="#000"/>
<rect x="103" y="582.5" width="4" height="5" fill="#fff"/>
<rect x="103" y="598" width="4" height="5" fill="#fff"/>
<rect x="109" y="582.5" width="4" height="5" fill="#fff"/>
<rect x="109" y="598" width="4" height="5" fill="#fff"/>
<rect x="115" y="582.5" width="4" height="5" fill="#fff"/>
<rect x="115" y="598" width="4" height="5" fill="#fff"/>
<rect x="121" y="582.5" width="4" height="5" fill="#fff"/>
<rect x="121" y="598" width="4" height="5" fill="#fff"/>
<rect x="127" y="582.5" width="4" height="5" fill="#fff"/>
<rect x="127" y="598" width="4" height="5" fill="#fff"/>
<rect x="133" y="582.5" width="4" height="5" fill="#fff"/>
<rect x="133" y="598" width="4" height="5" fill="#fff"/>
<rect x="139" y="582.5" width="4" height="5" fill="#fff"/>
<rect x="139" y="598" width="4" height="5" fill="#fff"/>
<rect x="145" y="582.5" width="4" height="5" fill="#fff"/>
<rect x="145" y="598" width="4" height="5" fill="#fff"/>
<rect x="151" y="582.5" width="4" height="5" fill="#fff"/>
<rect x="151" y="598" width="4" height="5" fill="#fff"/>
<rect x="157" y="582.5" width="4" height="5" fill="#fff"/>
<rect x="157" y="598" width="4" height="5" fill="#fff"/>
<rect x="163" y="582.5" width="4" height="5" fill="#fff"/>
<rect x="163" y="598" width="4" height="5" fill="#fff"/>
<rect x="169" y="582.5" width="4" height="5" fill="#fff"/>
<rect x="169" y="598" width="4" height="5" fill="#fff"/>
<rect x="175" y="582.5" width="4" height="5" fill="#fff"/>
<rect x="175" y="598" width="4" height="5" fill="#fff"/>
<rect x="181" y="582.5" width="4" height="5" fill="#fff"/>
<rect x="181" y="598" width="4" height="5" fill="#fff"/>
<rect x="106" y="590.5" width="33" height="5" fill="#fff"/>
<rect x="144" y="590.5" width="34" height="5" fill="#fff"/>
<path d="M185.5 590.5L182.0 593.0L185.5 595.5Z" fill="#fff" stroke="none" stroke-width="1" shape-rendering="geometricPrecision"/>
<rect x="186" y="580.5" width="85" height="24.5" fill="#000"/>
<rect x="188" y="582.5" width="4" height="5" fill="#fff"/>
<rect x="188" y="598" width="4" height="5" fill="#fff"/>
<rect x="194" y="582.5" width="4" height="5" fill="#fff"/>
<rect x="194" y="598" width="4" height="5" fill="#fff"/>
<rect x="200" y="582.5" width="4" height="5" fill="#fff"/>
<rect x="200" y="598" width="4" height="5" fill="#fff"/>
<rect x="206" y="582.5" width="4" height="5" fill="#fff"/>
<rect x="206" y="598" width="4" height="5" fill="#fff"/>
<rect x="212" y="582.5" width="4" height="5" fill="#fff"/>
<rect x="212" y="598" width="4" height="5" fill="#fff"/>
<rect x="218" y="582.5" width="4" height="5" fill="#fff"/>
<rect x="218" y="598" width="4" height="5" fill="#fff"/>
<rect x="224" y="582.5" width="4" height="5" fill="#fff"/>
<rect x="224" y="598" width="4" height="5" fill="#fff"/>
<rect x="230" y="582.5" width="4" height="5" fill="#fff"/>
<rect x="230" y="598" width="4" height="5" fill="#fff"/>
<rect x="236" y="582.5" width="4" height="5" fill="#fff"/>
<rect x="236" y="598" width="4" height="5" fill="#fff"/>
<rect x="242" y="582.5" width="4" height="5" fill="#fff"/>
<rect x="242" y="598" width="4" height="5" fill="#fff"/>
<rect x="248" y="582.5" width="4" height="5" fill="#fff"/>
<rect x="248" y="598" width="4" height="5" fill="#fff"/>
<rect x="254" y="582.5" width="4" height="5" fill="#fff"/>
<rect x="254" y="598" width="4" height="5" fill="#fff"/>
<rect x="260" y="582.5" width="4" height="5" fill="#fff"/>
<rect x="260" y="598" width="4" height="5" fill="#fff"/>
<rect x="266" y="582.5" width="4" height="5" fill="#fff"/>
<rect x="266" y="598" width="4" height="5" fill="#fff"/>
<rect x="191.5" y="590.5" width="32.5" height="5" fill="#fff"/>
<rect x="229" y="590.5" width="34" height="5" fill="#fff"/>
<path d="M271 590.5L267.5 593.0L271 595.5Z" fill="#fff" stroke="none" stroke-width="1" shape-rendering="geometricPrecision"/>
<rect x="101" y="604.5" width="84.5" height="24.5" fill="#000"/>
<rect x="103" y="606.5" width="4" height="5" fill="#fff"/>
<rect x="103" y="622" width="4" height="5" fill="#fff"/>
<rect x="109" y="606.5" width="4" height="5" fill="#fff"/>
<rect x="109" y="622" width="4" height="5" fill="#fff"/>
<rect x="115" y="606.5" width="4" height="5" fill="#fff"/>
<rect x="115" y="622" width="4" height="5" fill="#fff"/>
<rect x="121" y="606.5" width="4" height="5" fill="#fff"/>
<rect x="121" y="622" width="4" height="5" fill="#fff"/>
<rect x="127" y="606.5" width="4" height="5" fill="#fff"/>
<rect x="127" y="622" width="4" height="5" fill="#fff"/>
<rect x="133" y="606.5" width="4" height="5" fill="#fff"/>
<rect x="133" y="622" width="4" height="5" fill="#fff"/>
<rect x="139" y="606.5" width="4" height="5" fill="#fff"/>
<rect x="139" y="622" width="4" height="5" fill="#fff"/>
<rect x="145" y="606.5" width="4" height="5" fill="#fff"/>
<rect x="145" y="622" width="4" height="5" fill="#fff"/>
<rect x="151" y="606.5" width="4" height="5" fill="#fff"/>
<rect x="151" y="622" width="4" height="5" fill="#fff"/>
<rect x="157" y="606.5" width="4" height="5" fill="#fff"/>
<rect x="157" y="622" width="4" height="5" fill="#fff"/>
<rect x="163" y="606.5" width="4" height="5" fill="#fff"/>
<rect x="163" y="622" width="4" height="5" fill="#fff"/>
<rect x="169" y="606.5" width="4" height="5" fill="#fff"/>
<rect x="169" y="622" width="4" height="5" fill="#fff"/>
<rect x="175" y="606.5" width="4" height="5" fill="#fff"/>
<rect x="175" y="622" width="4" height="5" fill="#fff"/>
<rect x="181" y="606.5" width="4" height="5" fill="#fff"/>
<rect x="181" y="622" width="4" height="5" fill="#fff"/>
<rect x="106" y="614.5" width="33" height="5" fill="#fff"/>
<rect x="144" y="614.5" width="34" height="5" fill="#fff"/>
<path d="M185.5 614.5L182.0 617.0L185.5 619.5Z" fill="#fff" stroke="none" stroke-width="1" shape-rendering="geometricPrecision"/>
<rect x="186" y="604.5" width="85" height="24.5" fill="#000"/>
<rect x="188" y="606.5" width="4" height="5" fill="#fff"/>
<rect x="188" y="622" width="4" height="5" fill="#fff"/>
<rect x="194" y="606.5" width="4" height="5" fill="#fff"/>
<rect x="194" y="622" width="4" height="5" fill="#fff"/>
<rect x="200" y="606.5" width="4" height="5" fill="#fff"/>
<rect x="200" y="622" width="4" height="5" fill="#fff"/>
<rect x="206" y="606.5" width="4" height="5" fill="#fff"/>
<rect x="206" y="622" width="4" height="5" fill="#fff"/>
<rect x="212" y="606.5" width="4" height="5" fill="#fff"/>
<rect x="212" y="622" width="4" height="5" fill="#fff"/>
<rect x="218" y="606.5" width="4" height="5" fill="#fff"/>
<rect x="218" y="622" width="4" height="5" fill="#fff"/>
<rect x="224" y="606.5" width="4" height="5" fill="#fff"/>
<rect x="224" y="622" width="4" height="5" fill="#fff"/>
<rect x="230" y="606.5" width="4" height="5" fill="#fff"/>
<rect x="230" y="622" width="4" height="5" fill="#fff"/>
<rect x="236" y="606.5" width="4" height="5" fill="#fff"/>
<rect x="236" y="622" width="4" height="5" fill="#fff"/>
<rect x="242" y="606.5" width="4" height="5" fill="#fff"/>
<rect x="242" y="622" width="4" height="5" fill="#fff"/>
<rect x="248" y="606.5" width="4" height="5" fill="#fff"/>
<rect x="248" y="622" width="4" height="5" fill="#fff"/>
<rect x="254" y="606.5" width="4" height="5" fill="#fff"/>
<rect x="254" y="622" width="4" height="5" fill="#fff"/>
<rect x="260" y="606.5" width="4" height="5" fill="#fff"/>
<rect x="260" y="622" width="4" height="5" fill="#fff"/>
<rect x="266" y="606.5" width="4" height="5" fill="#fff"/>
<rect x="266" y="622" width="4" height="5" fill="#fff"/>
<rect x="191.5" y="614.5" width="32.5" height="5" fill="#fff"/>
<rect x="229" y="614.5" width="34" height="5" fill="#fff"/>
<path d="M271 614.5L267.5 617.0L271 619.5Z" fill="#fff" stroke="none" stroke-width="1" shape-rendering="geometricPrecision"/>
<rect x="101" y="630" width="84.5" height="24.5" fill="#000"/>
<rect x="103" y="632" width="4" height="5" fill="#fff"/>
<rect x="103" y="647.5" width="4" height="5" fill="#fff"/>
<rect x="109" y="632" width="4" height="5" fill="#fff"/>
<rect x="109" y="647.5" width="4" height="5" fill="#fff"/>
<rect x="115" y="632" width="4" height="5" fill="#fff"/>
<rect x="115" y="647.5" width="4" height="5" fill="#fff"/>
<rect x="121" y="632" width="4" height="5" fill="#fff"/>
<rect x="121" y="647.5" width="4" height="5" fill="#fff"/>
<rect x="127" y="632" width="4" height="5" fill="#fff"/>
<rect x="127" y="647.5" width="4" height="5" fill="#fff"/>
<rect x="133" y="632" width="4" height="5" fill="#fff"/>
<rect x="133" y="647.5" width="4" height="5" fill="#fff"/>
<rect x="139" y="632" width="4" height="5" fill="#fff"/>
<rect x="139" y="647.5" width="4" height="5" fill="#fff"/>
<rect x="145" y="632" width="4" height="5" fill="#fff"/>
<rect x="145" y="647.5" width="4" height="5" fill="#fff"/>
<rect x="151" y="632" width="4" height="5" fill="#fff"/>
<rect x="151" y="647.5" width="4" height="5" fill="#fff"/>
<rect x="157" y="632" width="4" height="5" fill="#fff"/>
<rect x="157" y="647.5" width="4" height="5" fill="#fff"/>
<rect x="163" y="632" width="4" height="5" fill="#fff"/>
<rect x="163" y="647.5" width="4" height="5" fill="#fff"/>
<rect x="169" y="632" width="4" height="5" fill="#fff"/>
<rect x="169" y="647.5" width="4" height="5" fill="#fff"/>
<rect x="175" y="632" width="4" height="5" fill="#fff"/>
<rect x="175" y="647.5" width="4" height="5" fill="#fff"/>
<rect x="181" y="632" width="4" height="5" fill="#fff"/>
<rect x="181" y="647.5" width="4" height="5" fill="#fff"/>
<rect x="106" y="640" width="33" height="5" fill="#fff"/>
<rect x="144" y="640" width="34" height="5" fill="#fff"/>
<path d="M185.5 640L182.0 642.5L185.5 645Z" fill="#fff" stroke="none" stroke-width="1" shape-rendering="geometricPrecision"/>
<rect x="186" y="630" width="85" height="24.5" fill="#000"/>
<rect x="188" y="632" width="4" height="5" fill="#fff"/>
<rect x="188" y="647.5" width="4" height="5" fill="#fff"/>
<rect x="194" y="632" width="4" height="5" fill="#fff"/>
<rect x="194" y="647.5" width="4" height="5" fill="#fff"/>
<rect x="200" y="632" width="4" height="5" fill="#fff"/>
<rect x="200" y="647.5" width="4" height="5" fill="#fff"/>
<rect x="206" y="632" width="4" height="5" fill="#fff"/>
<rect x="206" y="647.5" width="4" height="5" fill="#fff"/>
<rect x="212" y="632" width="4" height="5" fill="#fff"/>
<rect x="212" y="647.5" width="4" height="5" fill="#fff"/>
<rect x="218" y="632" width="4" height="5" fill="#fff"/>
<rect x="218" y="647.5" width="4" height="5" fill="#fff"/>
<rect x="224" y="632" width="4" height="5" fill="#fff"/>
<rect x="224" y="647.5" width="4" height="5" fill="#fff"/>
<rect x="230" y="632" width="4" height="5" fill="#fff"/>
<rect x="230" y="647.5" width="4" height="5" fill="#fff"/>
<rect x="236" y="632" width="4" height="5" fill="#fff"/>
<rect x="236" y="647.5" width="4" height="5" fill="#fff"/>
<rect x="242" y="632" width="4" height="5" fill="#fff"/>
<rect x="242" y="647.5" width="4" height="5" fill="#fff"/>
<rect x="248" y="632" width="4" height="5" fill="#fff"/>
<rect x="248" y="647.5" width="4" height="5" fill="#fff"/>
<rect x="254" y="632" width="4" height="5" fill="#fff"/>
<rect x="254" y="647.5" width="4" height="5" fill="#fff"/>
<rect x="260" y="632" width="4" height="5" fill="#fff"/>
<rect x="260" y="647.5" width="4" height="5" fill="#fff"/>
<rect x="266" y="632" width="4" height="5" fill="#fff"/>
<rect x="266" y="647.5" width="4" height="5" fill="#fff"/>
<rect x="191.5" y="640" width="32.5" height="5" fill="#fff"/>
<rect x="229" y="640" width="34" height="5" fill="#fff"/>
<path d="M271 640L267.5 642.5L271 645Z" fill="#fff" stroke="none" stroke-width="1" shape-rendering="geometricPrecision"/>
<rect x="101" y="654" width="84.5" height="24.5" fill="#000"/>
<rect x="103" y="656" width="4" height="5" fill="#fff"/>
<rect x="103" y="671.5" width="4" height="5" fill="#fff"/>
<rect x="109" y="656" width="4" height="5" fill="#fff"/>
<rect x="109" y="671.5" width="4" height="5" fill="#fff"/>
<rect x="115" y="656" width="4" height="5" fill="#fff"/>
<rect x="115" y="671.5" width="4" height="5" fill="#fff"/>
<rect x="121" y="656" width="4" height="5" fill="#fff"/>
<rect x="121" y="671.5" width="4" height="5" fill="#fff"/>
<rect x="127" y="656" width="4" height="5" fill="#fff"/>
<rect x="127" y="671.5" width="4" height="5" fill="#fff"/>
<rect x="133" y="656" width="4" height="5" fill="#fff"/>
<rect x="133" y="671.5" width="4" height="5" fill="#fff"/>
<rect x="139" y="656" width="4" height="5" fill="#fff"/>
<rect x="139" y="671.5" width="4" height="5" fill="#fff"/>
<rect x="145" y="656" width="4" height="5" fill="#fff"/>
<rect x="145" y="671.5" width="4" height="5" fill="#fff"/>
<rect x="151" y="656" width="4" height="5" fill="#fff"/>
<rect x="151" y="671.5" width="4" height="5" fill="#fff"/>
<rect x="157" y="656" width="4" height="5" fill="#fff"/>
<rect x="157" y="671.5" width="4" height="5" fill="#fff"/>
<rect x="163" y="656" width="4" height="5" fill="#fff"/>
<rect x="163" y="671.5" width="4" height="5" fill="#fff"/>
<rect x="169" y="656" width="4" height="5" fill="#fff"/>
<rect x="169" y="671.5" width="4" height="5" fill="#fff"/>
<rect x="175" y="656" width="4" height="5" fill="#fff"/>
<rect x="175" y="671.5" width="4" height="5" fill="#fff"/>
<rect x="181" y="656" width="4" height="5" fill="#fff"/>
<rect x="181" y="671.5" width="4" height="5" fill="#fff"/>
<rect x="106" y="664" width="33" height="5" fill="#fff"/>
<rect x="144" y="664" width="34" height="5" fill="#fff"/>
<path d="M185.5 664L182.0 666.5L185.5 669Z" fill="#fff" stroke="none" stroke-width="1" shape-rendering="geometricPrecision"/>
<rect x="186" y="654" width="85" height="24.5" fill="#000"/>
<rect x="188" y="656" width="4" height="5" fill="#fff"/>
<rect x="188" y="671.5" width="4" height="5" fill="#fff"/>
<rect x="194" y="656" width="4" height="5" fill="#fff"/>
<rect x="194" y="671.5" width="4" height="5" fill="#fff"/>
<rect x="200" y="656" width="4" height="5" fill="#fff"/>
<rect x="200" y="671.5" width="4" height="5" fill="#fff"/>
<rect x="206" y="656" width="4" height="5" fill="#fff"/>
<rect x="206" y="671.5" width="4" height="5" fill="#fff"/>
<rect x="212" y="656" width="4" height="5" fill="#fff"/>
<rect x="212" y="671.5" width="4" height="5" fill="#fff"/>
<rect x="218" y="656" width="4" height="5" fill="#fff"/>
<rect x="218" y="671.5" width="4" height="5" fill="#fff"/>
<rect x="224" y="656" width="4" height="5" fill="#fff"/>
<rect x="224" y="671.5" width="4" height="5" fill="#fff"/>
<rect x="230" y="656" width="4" height="5" fill="#fff"/>
<rect x="230" y="671.5" width="4" height="5" fill="#fff"/>
<rect x="236" y="656" width="4" height="5" fill="#fff"/>
<rect x="236" y="671.5" width="4" height="5" fill="#fff"/>
<rect x="242" y="656" width="4" height="5" fill="#fff"/>
<rect x="242" y="671.5" width="4" height="5" fill="#fff"/>
<rect x="248" y="656" width="4" height="5" fill="#fff"/>
<rect x="248" y="671.5" width="4" height="5" fill="#fff"/>
<rect x="254" y="656" width="4" height="5" fill="#fff"/>
<rect x="254" y="671.5" width="4" height="5" fill="#fff"/>
<rect x="260" y="656" width="4" height="5" fill="#fff"/>
<rect x="260" y="671.5" width="4" height="5" fill="#fff"/>
<rect x="266" y="656" width="4" height="5" fill="#fff"/>
<rect x="266" y="671.5" width="4" height="5" fill="#fff"/>
<rect x="191.5" y="664" width="32.5" height="5" fill="#fff"/>
<rect x="229" y="664" width="34" height="5" fill="#fff"/>
<path d="M271 664L267.5 666.5L271 669Z" fill="#fff" stroke="none" stroke-width="1" shape-rendering="geometricPrecision"/>
<rect x="185" y="555" width="1" height="124" fill="#fff"/>
<rect x="101" y="629" width="170" height="1" fill="#fff"/>
<rect x="202.5" y="508.5" width="30.5" height="17" rx="3" ry="3" fill="#000" shape-rendering="geometricPrecision"/>
<rect x="204.5" y="510.25" width="26.5" height="13.25" rx="1.5" ry="1.5" fill="#fff" shape-rendering="geometricPrecision"/>
<text transform="translate(216.809 519.8) scale(0.86 1)" font-size="13" text-anchor="middle" letter-spacing="1.3">U54</text>
<rect x="213" y="534.5" width="31.5" height="16.5" rx="3" ry="3" fill="#000" shape-rendering="geometricPrecision"/>
<rect x="215" y="536.25" width="27.5" height="12.75" rx="1.5" ry="1.5" fill="#fff" shape-rendering="geometricPrecision"/>
<text transform="translate(227.809 545.55) scale(0.86 1)" font-size="13" text-anchor="middle" letter-spacing="1.3">U55</text>
<rect x="213" y="559" width="31.5" height="16" rx="3" ry="3" fill="#000" shape-rendering="geometricPrecision"/>
<rect x="215" y="560.75" width="27.5" height="12.25" rx="1.5" ry="1.5" fill="#fff" shape-rendering="geometricPrecision"/>
<text transform="translate(227.809 569.8) scale(0.86 1)" font-size="13" text-anchor="middle" letter-spacing="1.3">U56</text>
<rect x="137.5" y="559" width="30.5" height="16" rx="3" ry="3" fill="#000" shape-rendering="geometricPrecision"/>
<rect x="139.5" y="560.75" width="26.5" height="12.25" rx="1.5" ry="1.5" fill="#fff" shape-rendering="geometricPrecision"/>
<text transform="translate(151.809 569.8) scale(0.86 1)" font-size="13" text-anchor="middle" letter-spacing="1.3">U72</text>
<rect x="158" y="597" width="55" height="15.5" fill="#fff"/>
<text transform="translate(185.489 609.3) scale(0.86 1)" font-size="13" text-anchor="middle" letter-spacing="2.3">BANK 1</text>
<rect x="158" y="646" width="55" height="15" fill="#fff"/>
<text transform="translate(185.489 658.3) scale(0.86 1)" font-size="13" text-anchor="middle" letter-spacing="2.3">BANK 0</text>
<rect x="257" y="504" width="7" height="13.5" fill="#000"/>
<rect x="258" y="507" width="5" height="1" fill="#fff"/>
<rect x="258" y="511" width="5" height="1" fill="#fff"/>
<rect x="258" y="515" width="5" height="1" fill="#fff"/>
<rect x="262" y="505" width="1" height="11.5" fill="#fff"/>
<rect x="275" y="504" width="6.5" height="13.5" fill="#000"/>
<rect x="276" y="507" width="4.5" height="1" fill="#fff"/>
<rect x="276" y="511" width="4.5" height="1" fill="#fff"/>
<rect x="276" y="515" width="4.5" height="1" fill="#fff"/>
<rect x="294.5" y="504" width="7" height="13.5" fill="#000"/>
<rect x="295.5" y="507" width="5" height="1" fill="#fff"/>
<rect x="295.5" y="511" width="5" height="1" fill="#fff"/>
<rect x="295.5" y="515" width="5" height="1" fill="#fff"/>
<rect x="217" y="480.5" width="34.5" height="17.5" rx="3.5" ry="3.5" fill="#000" shape-rendering="geometricPrecision"/>
<path d="M249 493L258.5 505L246 496Z" fill="#000" stroke="#000" stroke-width="3" stroke-linejoin="round" shape-rendering="geometricPrecision"/>
<rect x="219" y="482.25" width="30.5" height="13.75" rx="2.0" ry="2.0" fill="#fff" shape-rendering="geometricPrecision"/>
<path d="M249 493L258.5 505L246 496Z" fill="#fff" shape-rendering="geometricPrecision"/>
<text transform="translate(233.309 492.05) scale(0.86 1)" font-size="13" text-anchor="middle" letter-spacing="1.3">JP5</text>
<rect x="287.5" y="481.5" width="34.5" height="17" rx="3.5" ry="3.5" fill="#000" shape-rendering="geometricPrecision"/>
<path d="M290 493L279.5 505L293 496Z" fill="#000" stroke="#000" stroke-width="3" stroke-linejoin="round" shape-rendering="geometricPrecision"/>
<rect x="289.5" y="483.25" width="30.5" height="13.25" rx="2.0" ry="2.0" fill="#fff" shape-rendering="geometricPrecision"/>
<path d="M290 493L279.5 505L293 496Z" fill="#fff" shape-rendering="geometricPrecision"/>
<text transform="translate(303.809 492.8) scale(0.86 1)" font-size="13" text-anchor="middle" letter-spacing="1.3">JP4</text>
<rect x="255.5" y="524.5" width="34" height="18.5" rx="3.5" ry="3.5" fill="#000" shape-rendering="geometricPrecision"/>
<path d="M284 528L297.5 517.5L287.5 531Z" fill="#000" stroke="#000" stroke-width="3" stroke-linejoin="round" shape-rendering="geometricPrecision"/>
<rect x="257.5" y="526.25" width="30" height="14.75" rx="2.0" ry="2.0" fill="#fff" shape-rendering="geometricPrecision"/>
<path d="M284 528L297.5 517.5L287.5 531Z" fill="#fff" shape-rendering="geometricPrecision"/>
<text transform="translate(271.559 536.55) scale(0.86 1)" font-size="13" text-anchor="middle" letter-spacing="1.3">JP3</text>
<path d="M79 677.5L91 684.5H177L185.5 689.5L194 684.5H280L291.5 677.5" fill="none" stroke="#000" stroke-width="1" shape-rendering="geometricPrecision"/>
<rect x="160.5" y="691" width="48.5" height="17.5" rx="1.5" ry="1.5" fill="#000" shape-rendering="geometricPrecision"/>
<rect x="162.5" y="692.75" width="44.5" height="13.75" rx="0.5" ry="0.5" fill="#fff" shape-rendering="geometricPrecision"/>
<text transform="translate(184.266 702.55) scale(0.86 1)" font-size="13" text-anchor="middle" letter-spacing="1.2">CACHE</text>
<rect x="450" y="407" width="19" height="226" fill="#fff"/>
<rect x="450" y="407" width="1" height="226" fill="#000"/>
<rect x="468" y="407" width="1" height="226" fill="#000"/>
<rect x="450" y="407" width="19" height="1" fill="#000"/>
<rect x="450" y="632" width="19" height="1" fill="#000"/>
<rect x="454" y="407" width="1" height="7" fill="#000"/>
<rect x="461" y="407" width="1" height="7" fill="#000"/>
<rect x="451" y="414" width="17" height="1" fill="#000"/>
<rect x="452" y="415" width="16" height="2.5" fill="#000"/>
<rect x="453" y="417" width="1" height="11" fill="#000"/>
<rect x="453" y="427" width="10" height="1" fill="#000"/>
<rect x="462" y="424" width="1" height="4" fill="#000"/>
<rect x="462" y="424" width="6" height="1" fill="#000"/>
<rect x="467" y="417" width="1" height="8" fill="#000"/>
<rect x="460" y="420" width="1.5" height="4" fill="#000"/>
<rect x="460" y="420" width="6" height="1.5" fill="#000"/>
<rect x="464.5" y="418" width="1.5" height="3.5" fill="#000"/>
<rect x="452.5" y="432" width="13.5" height="174.5" fill="#000"/>
<rect x="454" y="435" width="5" height="3.8" fill="#fff"/>
<rect x="460.5" y="436" width="4" height="1.8" fill="#fff"/>
<rect x="452.5" y="439" width="1" height="1" fill="#fff"/>
<rect x="454" y="441" width="5" height="3.8" fill="#fff"/>
<rect x="460.5" y="442" width="4" height="1.8" fill="#fff"/>
<rect x="452.5" y="445" width="1" height="1" fill="#fff"/>
<rect x="454" y="447" width="5" height="3.8" fill="#fff"/>
<rect x="460.5" y="448" width="4" height="1.8" fill="#fff"/>
<rect x="452.5" y="451" width="1" height="1" fill="#fff"/>
<rect x="454" y="453" width="5" height="3.8" fill="#fff"/>
<rect x="460.5" y="454" width="4" height="1.8" fill="#fff"/>
<rect x="452.5" y="457" width="1" height="1" fill="#fff"/>
<rect x="454" y="459" width="5" height="3.8" fill="#fff"/>
<rect x="460.5" y="460" width="4" height="1.8" fill="#fff"/>
<rect x="452.5" y="463" width="1" height="1" fill="#fff"/>
<rect x="454" y="464" width="5" height="3.8" fill="#fff"/>
<rect x="460.5" y="465" width="4" height="1.8" fill="#fff"/>
<rect x="452.5" y="468" width="1" height="1" fill="#fff"/>
<rect x="453" y="464.5" width="2" height="2.5" fill="#fff"/>
<rect x="459" y="465.5" width="2" height="1" fill="#fff"/>
<rect x="454" y="470" width="5" height="3.8" fill="#fff"/>
<rect x="460.5" y="471" width="4" height="1.8" fill="#fff"/>
<rect x="452.5" y="474" width="1" height="1" fill="#fff"/>
<rect x="453" y="470.5" width="2" height="2.5" fill="#fff"/>
<rect x="459" y="471.5" width="2" height="1" fill="#fff"/>
<rect x="454" y="476" width="5" height="3.8" fill="#fff"/>
<rect x="460.5" y="477" width="4" height="1.8" fill="#fff"/>
<rect x="452.5" y="480" width="1" height="1" fill="#fff"/>
<rect x="454" y="482" width="5" height="3.8" fill="#fff"/>
<rect x="460.5" y="483" width="4" height="1.8" fill="#fff"/>
<rect x="452.5" y="486" width="1" height="1" fill="#fff"/>
<rect x="454" y="488" width="5" height="3.8" fill="#fff"/>
<rect x="460.5" y="489" width="4" height="1.8" fill="#fff"/>
<rect x="452.5" y="492" width="1" height="1" fill="#fff"/>
<rect x="454" y="494" width="5" height="3.8" fill="#fff"/>
<rect x="460.5" y="495" width="4" height="1.8" fill="#fff"/>
<rect x="452.5" y="498" width="1" height="1" fill="#fff"/>
<rect x="454" y="500" width="5" height="3.8" fill="#fff"/>
<rect x="460.5" y="501" width="4" height="1.8" fill="#fff"/>
<rect x="452.5" y="504" width="1" height="1" fill="#fff"/>
<rect x="454" y="506" width="5" height="3.8" fill="#fff"/>
<rect x="460.5" y="507" width="4" height="1.8" fill="#fff"/>
<rect x="452.5" y="510" width="1" height="1" fill="#fff"/>
<rect x="454" y="512" width="5" height="3.8" fill="#fff"/>
<rect x="460.5" y="513" width="4" height="1.8" fill="#fff"/>
<rect x="452.5" y="516" width="1" height="1" fill="#fff"/>
<rect x="454" y="518" width="5" height="3.8" fill="#fff"/>
<rect x="460.5" y="519" width="4" height="1.8" fill="#fff"/>
<rect x="452.5" y="522" width="1" height="1" fill="#fff"/>
<rect x="454" y="524" width="5" height="3.8" fill="#fff"/>
<rect x="460.5" y="525" width="4" height="1.8" fill="#fff"/>
<rect x="452.5" y="528" width="1" height="1" fill="#fff"/>
<rect x="454" y="529" width="5" height="3.8" fill="#fff"/>
<rect x="460.5" y="530" width="4" height="1.8" fill="#fff"/>
<rect x="452.5" y="533" width="1" height="1" fill="#fff"/>
<rect x="454" y="535" width="5" height="3.8" fill="#fff"/>
<rect x="460.5" y="536" width="4" height="1.8" fill="#fff"/>
<rect x="452.5" y="539" width="1" height="1" fill="#fff"/>
<rect x="454" y="541" width="5" height="3.8" fill="#fff"/>
<rect x="460.5" y="542" width="4" height="1.8" fill="#fff"/>
<rect x="452.5" y="545" width="1" height="1" fill="#fff"/>
<rect x="454" y="547" width="5" height="3.8" fill="#fff"/>
<rect x="460.5" y="548" width="4" height="1.8" fill="#fff"/>
<rect x="452.5" y="551" width="1" height="1" fill="#fff"/>
<rect x="454" y="553" width="5" height="3.8" fill="#fff"/>
<rect x="460.5" y="554" width="4" height="1.8" fill="#fff"/>
<rect x="452.5" y="557" width="1" height="1" fill="#fff"/>
<rect x="454" y="559" width="5" height="3.8" fill="#fff"/>
<rect x="460.5" y="560" width="4" height="1.8" fill="#fff"/>
<rect x="452.5" y="563" width="1" height="1" fill="#fff"/>
<rect x="454" y="565" width="5" height="3.8" fill="#fff"/>
<rect x="460.5" y="566" width="4" height="1.8" fill="#fff"/>
<rect x="452.5" y="569" width="1" height="1" fill="#fff"/>
<rect x="454" y="571" width="5" height="3.8" fill="#fff"/>
<rect x="460.5" y="572" width="4" height="1.8" fill="#fff"/>
<rect x="452.5" y="575" width="1" height="1" fill="#fff"/>
<rect x="454" y="577" width="5" height="3.8" fill="#fff"/>
<rect x="460.5" y="578" width="4" height="1.8" fill="#fff"/>
<rect x="452.5" y="581" width="1" height="1" fill="#fff"/>
<rect x="454" y="582" width="5" height="3.8" fill="#fff"/>
<rect x="460.5" y="583" width="4" height="1.8" fill="#fff"/>
<rect x="452.5" y="586" width="1" height="1" fill="#fff"/>
<rect x="454" y="588" width="5" height="3.8" fill="#fff"/>
<rect x="460.5" y="589" width="4" height="1.8" fill="#fff"/>
<rect x="452.5" y="592" width="1" height="1" fill="#fff"/>
<rect x="454" y="594" width="5" height="3.8" fill="#fff"/>
<rect x="460.5" y="595" width="4" height="1.8" fill="#fff"/>
<rect x="452.5" y="598" width="1" height="1" fill="#fff"/>
<rect x="454" y="600" width="5" height="3.8" fill="#fff"/>
<rect x="460.5" y="601" width="4" height="1.8" fill="#fff"/>
<rect x="452.5" y="604" width="1" height="1" fill="#fff"/>
<rect x="453" y="611" width="1" height="10" fill="#000"/>
<rect x="453" y="611" width="10" height="1" fill="#000"/>
<rect x="462" y="611" width="1" height="4" fill="#000"/>
<rect x="462" y="614" width="6" height="1" fill="#000"/>
<rect x="467" y="614" width="1" height="8" fill="#000"/>
<rect x="460" y="614.5" width="1.5" height="4" fill="#000"/>
<rect x="460" y="617" width="6" height="1.5" fill="#000"/>
<rect x="464.5" y="617" width="1.5" height="4" fill="#000"/>
<rect x="452" y="621" width="16" height="2" fill="#000"/>
<rect x="451" y="623" width="17" height="1" fill="#000"/>
<rect x="454" y="624" width="1" height="8" fill="#000"/>
<rect x="461" y="624" width="1" height="8" fill="#000"/>
<rect x="470" y="407" width="19" height="226" fill="#fff"/>
<rect x="470" y="407" width="1" height="226" fill="#000"/>
<rect x="488" y="407" width="1" height="226" fill="#000"/>
<rect x="470" y="407" width="19" height="1" fill="#000"/>
<rect x="470" y="632" width="19" height="1" fill="#000"/>
<rect x="474" y="407" width="1" height="7" fill="#000"/>
<rect x="481" y="407" width="1" height="7" fill="#000"/>
<rect x="471" y="414" width="17" height="1" fill="#000"/>
<rect x="472" y="415" width="16" height="2.5" fill="#000"/>
<rect x="473" y="417" width="1" height="11" fill="#000"/>
<rect x="473" y="427" width="10" height="1" fill="#000"/>
<rect x="482" y="424" width="1" height="4" fill="#000"/>
<rect x="482" y="424" width="6" height="1" fill="#000"/>
<rect x="487" y="417" width="1" height="8" fill="#000"/>
<rect x="480" y="420" width="1.5" height="4" fill="#000"/>
<rect x="480" y="420" width="6" height="1.5" fill="#000"/>
<rect x="484.5" y="418" width="1.5" height="3.5" fill="#000"/>
<rect x="472.5" y="432" width="13.5" height="174.5" fill="#000"/>
<rect x="474" y="435" width="5" height="3.8" fill="#fff"/>
<rect x="480.5" y="436" width="4" height="1.8" fill="#fff"/>
<rect x="472.5" y="439" width="1" height="1" fill="#fff"/>
<rect x="474" y="441" width="5" height="3.8" fill="#fff"/>
<rect x="480.5" y="442" width="4" height="1.8" fill="#fff"/>
<rect x="472.5" y="445" width="1" height="1" fill="#fff"/>
<rect x="474" y="447" width="5" height="3.8" fill="#fff"/>
<rect x="480.5" y="448" width="4" height="1.8" fill="#fff"/>
<rect x="472.5" y="451" width="1" height="1" fill="#fff"/>
<rect x="474" y="453" width="5" height="3.8" fill="#fff"/>
<rect x="480.5" y="454" width="4" height="1.8" fill="#fff"/>
<rect x="472.5" y="457" width="1" height="1" fill="#fff"/>
<rect x="474" y="459" width="5" height="3.8" fill="#fff"/>
<rect x="480.5" y="460" width="4" height="1.8" fill="#fff"/>
<rect x="472.5" y="463" width="1" height="1" fill="#fff"/>
<rect x="474" y="464" width="5" height="3.8" fill="#fff"/>
<rect x="480.5" y="465" width="4" height="1.8" fill="#fff"/>
<rect x="472.5" y="468" width="1" height="1" fill="#fff"/>
<rect x="473" y="464.5" width="2" height="2.5" fill="#fff"/>
<rect x="479" y="465.5" width="2" height="1" fill="#fff"/>
<rect x="474" y="470" width="5" height="3.8" fill="#fff"/>
<rect x="480.5" y="471" width="4" height="1.8" fill="#fff"/>
<rect x="472.5" y="474" width="1" height="1" fill="#fff"/>
<rect x="473" y="470.5" width="2" height="2.5" fill="#fff"/>
<rect x="479" y="471.5" width="2" height="1" fill="#fff"/>
<rect x="474" y="476" width="5" height="3.8" fill="#fff"/>
<rect x="480.5" y="477" width="4" height="1.8" fill="#fff"/>
<rect x="472.5" y="480" width="1" height="1" fill="#fff"/>
<rect x="474" y="482" width="5" height="3.8" fill="#fff"/>
<rect x="480.5" y="483" width="4" height="1.8" fill="#fff"/>
<rect x="472.5" y="486" width="1" height="1" fill="#fff"/>
<rect x="474" y="488" width="5" height="3.8" fill="#fff"/>
<rect x="480.5" y="489" width="4" height="1.8" fill="#fff"/>
<rect x="472.5" y="492" width="1" height="1" fill="#fff"/>
<rect x="474" y="494" width="5" height="3.8" fill="#fff"/>
<rect x="480.5" y="495" width="4" height="1.8" fill="#fff"/>
<rect x="472.5" y="498" width="1" height="1" fill="#fff"/>
<rect x="474" y="500" width="5" height="3.8" fill="#fff"/>
<rect x="480.5" y="501" width="4" height="1.8" fill="#fff"/>
<rect x="472.5" y="504" width="1" height="1" fill="#fff"/>
<rect x="474" y="506" width="5" height="3.8" fill="#fff"/>
<rect x="480.5" y="507" width="4" height="1.8" fill="#fff"/>
<rect x="472.5" y="510" width="1" height="1" fill="#fff"/>
<rect x="474" y="512" width="5" height="3.8" fill="#fff"/>
<rect x="480.5" y="513" width="4" height="1.8" fill="#fff"/>
<rect x="472.5" y="516" width="1" height="1" fill="#fff"/>
<rect x="474" y="518" width="5" height="3.8" fill="#fff"/>
<rect x="480.5" y="519" width="4" height="1.8" fill="#fff"/>
<rect x="472.5" y="522" width="1" height="1" fill="#fff"/>
<rect x="474" y="524" width="5" height="3.8" fill="#fff"/>
<rect x="480.5" y="525" width="4" height="1.8" fill="#fff"/>
<rect x="472.5" y="528" width="1" height="1" fill="#fff"/>
<rect x="474" y="529" width="5" height="3.8" fill="#fff"/>
<rect x="480.5" y="530" width="4" height="1.8" fill="#fff"/>
<rect x="472.5" y="533" width="1" height="1" fill="#fff"/>
<rect x="474" y="535" width="5" height="3.8" fill="#fff"/>
<rect x="480.5" y="536" width="4" height="1.8" fill="#fff"/>
<rect x="472.5" y="539" width="1" height="1" fill="#fff"/>
<rect x="474" y="541" width="5" height="3.8" fill="#fff"/>
<rect x="480.5" y="542" width="4" height="1.8" fill="#fff"/>
<rect x="472.5" y="545" width="1" height="1" fill="#fff"/>
<rect x="474" y="547" width="5" height="3.8" fill="#fff"/>
<rect x="480.5" y="548" width="4" height="1.8" fill="#fff"/>
<rect x="472.5" y="551" width="1" height="1" fill="#fff"/>
<rect x="474" y="553" width="5" height="3.8" fill="#fff"/>
<rect x="480.5" y="554" width="4" height="1.8" fill="#fff"/>
<rect x="472.5" y="557" width="1" height="1" fill="#fff"/>
<rect x="474" y="559" width="5" height="3.8" fill="#fff"/>
<rect x="480.5" y="560" width="4" height="1.8" fill="#fff"/>
<rect x="472.5" y="563" width="1" height="1" fill="#fff"/>
<rect x="474" y="565" width="5" height="3.8" fill="#fff"/>
<rect x="480.5" y="566" width="4" height="1.8" fill="#fff"/>
<rect x="472.5" y="569" width="1" height="1" fill="#fff"/>
<rect x="474" y="571" width="5" height="3.8" fill="#fff"/>
<rect x="480.5" y="572" width="4" height="1.8" fill="#fff"/>
<rect x="472.5" y="575" width="1" height="1" fill="#fff"/>
<rect x="474" y="577" width="5" height="3.8" fill="#fff"/>
<rect x="480.5" y="578" width="4" height="1.8" fill="#fff"/>
<rect x="472.5" y="581" width="1" height="1" fill="#fff"/>
<rect x="474" y="582" width="5" height="3.8" fill="#fff"/>
<rect x="480.5" y="583" width="4" height="1.8" fill="#fff"/>
<rect x="472.5" y="586" width="1" height="1" fill="#fff"/>
<rect x="474" y="588" width="5" height="3.8" fill="#fff"/>
<rect x="480.5" y="589" width="4" height="1.8" fill="#fff"/>
<rect x="472.5" y="592" width="1" height="1" fill="#fff"/>
<rect x="474" y="594" width="5" height="3.8" fill="#fff"/>
<rect x="480.5" y="595" width="4" height="1.8" fill="#fff"/>
<rect x="472.5" y="598" width="1" height="1" fill="#fff"/>
<rect x="474" y="600" width="5" height="3.8" fill="#fff"/>
<rect x="480.5" y="601" width="4" height="1.8" fill="#fff"/>
<rect x="472.5" y="604" width="1" height="1" fill="#fff"/>
<rect x="473" y="611" width="1" height="10" fill="#000"/>
<rect x="473" y="611" width="10" height="1" fill="#000"/>
<rect x="482" y="611" width="1" height="4" fill="#000"/>
<rect x="482" y="614" width="6" height="1" fill="#000"/>
<rect x="487" y="614" width="1" height="8" fill="#000"/>
<rect x="480" y="614.5" width="1.5" height="4" fill="#000"/>
<rect x="480" y="617" width="6" height="1.5" fill="#000"/>
<rect x="484.5" y="617" width="1.5" height="4" fill="#000"/>
<rect x="472" y="621" width="16" height="2" fill="#000"/>
<rect x="471" y="623" width="17" height="1" fill="#000"/>
<rect x="474" y="624" width="1" height="8" fill="#000"/>
<rect x="481" y="624" width="1" height="8" fill="#000"/>
<rect x="490" y="407" width="19" height="226" fill="#fff"/>
<rect x="490" y="407" width="1" height="226" fill="#000"/>
<rect x="508" y="407" width="1" height="226" fill="#000"/>
<rect x="490" y="407" width="19" height="1" fill="#000"/>
<rect x="490" y="632" width="19" height="1" fill="#000"/>
<rect x="494" y="407" width="1" height="7" fill="#000"/>
<rect x="501" y="407" width="1" height="7" fill="#000"/>
<rect x="491" y="414" width="17" height="1" fill="#000"/>
<rect x="492" y="415" width="16" height="2.5" fill="#000"/>
<rect x="493" y="417" width="1" height="11" fill="#000"/>
<rect x="493" y="427" width="10" height="1" fill="#000"/>
<rect x="502" y="424" width="1" height="4" fill="#000"/>
<rect x="502" y="424" width="6" height="1" fill="#000"/>
<rect x="507" y="417" width="1" height="8" fill="#000"/>
<rect x="500" y="420" width="1.5" height="4" fill="#000"/>
<rect x="500" y="420" width="6" height="1.5" fill="#000"/>
<rect x="504.5" y="418" width="1.5" height="3.5" fill="#000"/>
<rect x="492.5" y="432" width="13.5" height="174.5" fill="#000"/>
<rect x="494" y="435" width="5" height="3.8" fill="#fff"/>
<rect x="500.5" y="436" width="4" height="1.8" fill="#fff"/>
<rect x="492.5" y="439" width="1" height="1" fill="#fff"/>
<rect x="494" y="441" width="5" height="3.8" fill="#fff"/>
<rect x="500.5" y="442" width="4" height="1.8" fill="#fff"/>
<rect x="492.5" y="445" width="1" height="1" fill="#fff"/>
<rect x="494" y="447" width="5" height="3.8" fill="#fff"/>
<rect x="500.5" y="448" width="4" height="1.8" fill="#fff"/>
<rect x="492.5" y="451" width="1" height="1" fill="#fff"/>
<rect x="494" y="453" width="5" height="3.8" fill="#fff"/>
<rect x="500.5" y="454" width="4" height="1.8" fill="#fff"/>
<rect x="492.5" y="457" width="1" height="1" fill="#fff"/>
<rect x="494" y="459" width="5" height="3.8" fill="#fff"/>
<rect x="500.5" y="460" width="4" height="1.8" fill="#fff"/>
<rect x="492.5" y="463" width="1" height="1" fill="#fff"/>
<rect x="494" y="464" width="5" height="3.8" fill="#fff"/>
<rect x="500.5" y="465" width="4" height="1.8" fill="#fff"/>
<rect x="492.5" y="468" width="1" height="1" fill="#fff"/>
<rect x="493" y="464.5" width="2" height="2.5" fill="#fff"/>
<rect x="499" y="465.5" width="2" height="1" fill="#fff"/>
<rect x="494" y="470" width="5" height="3.8" fill="#fff"/>
<rect x="500.5" y="471" width="4" height="1.8" fill="#fff"/>
<rect x="492.5" y="474" width="1" height="1" fill="#fff"/>
<rect x="493" y="470.5" width="2" height="2.5" fill="#fff"/>
<rect x="499" y="471.5" width="2" height="1" fill="#fff"/>
<rect x="494" y="476" width="5" height="3.8" fill="#fff"/>
<rect x="500.5" y="477" width="4" height="1.8" fill="#fff"/>
<rect x="492.5" y="480" width="1" height="1" fill="#fff"/>
<rect x="494" y="482" width="5" height="3.8" fill="#fff"/>
<rect x="500.5" y="483" width="4" height="1.8" fill="#fff"/>
<rect x="492.5" y="486" width="1" height="1" fill="#fff"/>
<rect x="494" y="488" width="5" height="3.8" fill="#fff"/>
<rect x="500.5" y="489" width="4" height="1.8" fill="#fff"/>
<rect x="492.5" y="492" width="1" height="1" fill="#fff"/>
<rect x="494" y="494" width="5" height="3.8" fill="#fff"/>
<rect x="500.5" y="495" width="4" height="1.8" fill="#fff"/>
<rect x="492.5" y="498" width="1" height="1" fill="#fff"/>
<rect x="494" y="500" width="5" height="3.8" fill="#fff"/>
<rect x="500.5" y="501" width="4" height="1.8" fill="#fff"/>
<rect x="492.5" y="504" width="1" height="1" fill="#fff"/>
<rect x="494" y="506" width="5" height="3.8" fill="#fff"/>
<rect x="500.5" y="507" width="4" height="1.8" fill="#fff"/>
<rect x="492.5" y="510" width="1" height="1" fill="#fff"/>
<rect x="494" y="512" width="5" height="3.8" fill="#fff"/>
<rect x="500.5" y="513" width="4" height="1.8" fill="#fff"/>
<rect x="492.5" y="516" width="1" height="1" fill="#fff"/>
<rect x="494" y="518" width="5" height="3.8" fill="#fff"/>
<rect x="500.5" y="519" width="4" height="1.8" fill="#fff"/>
<rect x="492.5" y="522" width="1" height="1" fill="#fff"/>
<rect x="494" y="524" width="5" height="3.8" fill="#fff"/>
<rect x="500.5" y="525" width="4" height="1.8" fill="#fff"/>
<rect x="492.5" y="528" width="1" height="1" fill="#fff"/>
<rect x="494" y="529" width="5" height="3.8" fill="#fff"/>
<rect x="500.5" y="530" width="4" height="1.8" fill="#fff"/>
<rect x="492.5" y="533" width="1" height="1" fill="#fff"/>
<rect x="494" y="535" width="5" height="3.8" fill="#fff"/>
<rect x="500.5" y="536" width="4" height="1.8" fill="#fff"/>
<rect x="492.5" y="539" width="1" height="1" fill="#fff"/>
<rect x="494" y="541" width="5" height="3.8" fill="#fff"/>
<rect x="500.5" y="542" width="4" height="1.8" fill="#fff"/>
<rect x="492.5" y="545" width="1" height="1" fill="#fff"/>
<rect x="494" y="547" width="5" height="3.8" fill="#fff"/>
<rect x="500.5" y="548" width="4" height="1.8" fill="#fff"/>
<rect x="492.5" y="551" width="1" height="1" fill="#fff"/>
<rect x="494" y="553" width="5" height="3.8" fill="#fff"/>
<rect x="500.5" y="554" width="4" height="1.8" fill="#fff"/>
<rect x="492.5" y="557" width="1" height="1" fill="#fff"/>
<rect x="494" y="559" width="5" height="3.8" fill="#fff"/>
<rect x="500.5" y="560" width="4" height="1.8" fill="#fff"/>
<rect x="492.5" y="563" width="1" height="1" fill="#fff"/>
<rect x="494" y="565" width="5" height="3.8" fill="#fff"/>
<rect x="500.5" y="566" width="4" height="1.8" fill="#fff"/>
<rect x="492.5" y="569" width="1" height="1" fill="#fff"/>
<rect x="494" y="571" width="5" height="3.8" fill="#fff"/>
<rect x="500.5" y="572" width="4" height="1.8" fill="#fff"/>
<rect x="492.5" y="575" width="1" height="1" fill="#fff"/>
<rect x="494" y="577" width="5" height="3.8" fill="#fff"/>
<rect x="500.5" y="578" width="4" height="1.8" fill="#fff"/>
<rect x="492.5" y="581" width="1" height="1" fill="#fff"/>
<rect x="494" y="582" width="5" height="3.8" fill="#fff"/>
<rect x="500.5" y="583" width="4" height="1.8" fill="#fff"/>
<rect x="492.5" y="586" width="1" height="1" fill="#fff"/>
<rect x="494" y="588" width="5" height="3.8" fill="#fff"/>
<rect x="500.5" y="589" width="4" height="1.8" fill="#fff"/>
<rect x="492.5" y="592" width="1" height="1" fill="#fff"/>
<rect x="494" y="594" width="5" height="3.8" fill="#fff"/>
<rect x="500.5" y="595" width="4" height="1.8" fill="#fff"/>
<rect x="492.5" y="598" width="1" height="1" fill="#fff"/>
<rect x="494" y="600" width="5" height="3.8" fill="#fff"/>
<rect x="500.5" y="601" width="4" height="1.8" fill="#fff"/>
<rect x="492.5" y="604" width="1" height="1" fill="#fff"/>
<rect x="493" y="611" width="1" height="10" fill="#000"/>
<rect x="493" y="611" width="10" height="1" fill="#000"/>
<rect x="502" y="611" width="1" height="4" fill="#000"/>
<rect x="502" y="614" width="6" height="1" fill="#000"/>
<rect x="507" y="614" width="1" height="8" fill="#000"/>
<rect x="500" y="614.5" width="1.5" height="4" fill="#000"/>
<rect x="500" y="617" width="6" height="1.5" fill="#000"/>
<rect x="504.5" y="617" width="1.5" height="4" fill="#000"/>
<rect x="492" y="621" width="16" height="2" fill="#000"/>
<rect x="491" y="623" width="17" height="1" fill="#000"/>
<rect x="494" y="624" width="1" height="8" fill="#000"/>
<rect x="501" y="624" width="1" height="8" fill="#000"/>
<rect x="510" y="407" width="19" height="226" fill="#fff"/>
<rect x="510" y="407" width="1" height="226" fill="#000"/>
<rect x="528" y="407" width="1" height="226" fill="#000"/>
<rect x="510" y="407" width="19" height="1" fill="#000"/>
<rect x="510" y="632" width="19" height="1" fill="#000"/>
<rect x="514" y="407" width="1" height="7" fill="#000"/>
<rect x="521" y="407" width="1" height="7" fill="#000"/>
<rect x="511" y="414" width="17" height="1" fill="#000"/>
<rect x="512" y="415" width="16" height="2.5" fill="#000"/>
<rect x="513" y="417" width="1" height="11" fill="#000"/>
<rect x="513" y="427" width="10" height="1" fill="#000"/>
<rect x="522" y="424" width="1" height="4" fill="#000"/>
<rect x="522" y="424" width="6" height="1" fill="#000"/>
<rect x="527" y="417" width="1" height="8" fill="#000"/>
<rect x="520" y="420" width="1.5" height="4" fill="#000"/>
<rect x="520" y="420" width="6" height="1.5" fill="#000"/>
<rect x="524.5" y="418" width="1.5" height="3.5" fill="#000"/>
<rect x="512.5" y="432" width="13.5" height="174.5" fill="#000"/>
<rect x="514" y="435" width="5" height="3.8" fill="#fff"/>
<rect x="520.5" y="436" width="4" height="1.8" fill="#fff"/>
<rect x="512.5" y="439" width="1" height="1" fill="#fff"/>
<rect x="514" y="441" width="5" height="3.8" fill="#fff"/>
<rect x="520.5" y="442" width="4" height="1.8" fill="#fff"/>
<rect x="512.5" y="445" width="1" height="1" fill="#fff"/>
<rect x="514" y="447" width="5" height="3.8" fill="#fff"/>
<rect x="520.5" y="448" width="4" height="1.8" fill="#fff"/>
<rect x="512.5" y="451" width="1" height="1" fill="#fff"/>
<rect x="514" y="453" width="5" height="3.8" fill="#fff"/>
<rect x="520.5" y="454" width="4" height="1.8" fill="#fff"/>
<rect x="512.5" y="457" width="1" height="1" fill="#fff"/>
<rect x="514" y="459" width="5" height="3.8" fill="#fff"/>
<rect x="520.5" y="460" width="4" height="1.8" fill="#fff"/>
<rect x="512.5" y="463" width="1" height="1" fill="#fff"/>
<rect x="514" y="464" width="5" height="3.8" fill="#fff"/>
<rect x="520.5" y="465" width="4" height="1.8" fill="#fff"/>
<rect x="512.5" y="468" width="1" height="1" fill="#fff"/>
<rect x="513" y="464.5" width="2" height="2.5" fill="#fff"/>
<rect x="519" y="465.5" width="2" height="1" fill="#fff"/>
<rect x="514" y="470" width="5" height="3.8" fill="#fff"/>
<rect x="520.5" y="471" width="4" height="1.8" fill="#fff"/>
<rect x="512.5" y="474" width="1" height="1" fill="#fff"/>
<rect x="513" y="470.5" width="2" height="2.5" fill="#fff"/>
<rect x="519" y="471.5" width="2" height="1" fill="#fff"/>
<rect x="514" y="476" width="5" height="3.8" fill="#fff"/>
<rect x="520.5" y="477" width="4" height="1.8" fill="#fff"/>
<rect x="512.5" y="480" width="1" height="1" fill="#fff"/>
<rect x="514" y="482" width="5" height="3.8" fill="#fff"/>
<rect x="520.5" y="483" width="4" height="1.8" fill="#fff"/>
<rect x="512.5" y="486" width="1" height="1" fill="#fff"/>
<rect x="514" y="488" width="5" height="3.8" fill="#fff"/>
<rect x="520.5" y="489" width="4" height="1.8" fill="#fff"/>
<rect x="512.5" y="492" width="1" height="1" fill="#fff"/>
<rect x="514" y="494" width="5" height="3.8" fill="#fff"/>
<rect x="520.5" y="495" width="4" height="1.8" fill="#fff"/>
<rect x="512.5" y="498" width="1" height="1" fill="#fff"/>
<rect x="514" y="500" width="5" height="3.8" fill="#fff"/>
<rect x="520.5" y="501" width="4" height="1.8" fill="#fff"/>
<rect x="512.5" y="504" width="1" height="1" fill="#fff"/>
<rect x="514" y="506" width="5" height="3.8" fill="#fff"/>
<rect x="520.5" y="507" width="4" height="1.8" fill="#fff"/>
<rect x="512.5" y="510" width="1" height="1" fill="#fff"/>
<rect x="514" y="512" width="5" height="3.8" fill="#fff"/>
<rect x="520.5" y="513" width="4" height="1.8" fill="#fff"/>
<rect x="512.5" y="516" width="1" height="1" fill="#fff"/>
<rect x="514" y="518" width="5" height="3.8" fill="#fff"/>
<rect x="520.5" y="519" width="4" height="1.8" fill="#fff"/>
<rect x="512.5" y="522" width="1" height="1" fill="#fff"/>
<rect x="514" y="524" width="5" height="3.8" fill="#fff"/>
<rect x="520.5" y="525" width="4" height="1.8" fill="#fff"/>
<rect x="512.5" y="528" width="1" height="1" fill="#fff"/>
<rect x="514" y="529" width="5" height="3.8" fill="#fff"/>
<rect x="520.5" y="530" width="4" height="1.8" fill="#fff"/>
<rect x="512.5" y="533" width="1" height="1" fill="#fff"/>
<rect x="514" y="535" width="5" height="3.8" fill="#fff"/>
<rect x="520.5" y="536" width="4" height="1.8" fill="#fff"/>
<rect x="512.5" y="539" width="1" height="1" fill="#fff"/>
<rect x="514" y="541" width="5" height="3.8" fill="#fff"/>
<rect x="520.5" y="542" width="4" height="1.8" fill="#fff"/>
<rect x="512.5" y="545" width="1" height="1" fill="#fff"/>
<rect x="514" y="547" width="5" height="3.8" fill="#fff"/>
<rect x="520.5" y="548" width="4" height="1.8" fill="#fff"/>
<rect x="512.5" y="551" width="1" height="1" fill="#fff"/>
<rect x="514" y="553" width="5" height="3.8" fill="#fff"/>
<rect x="520.5" y="554" width="4" height="1.8" fill="#fff"/>
<rect x="512.5" y="557" width="1" height="1" fill="#fff"/>
<rect x="514" y="559" width="5" height="3.8" fill="#fff"/>
<rect x="520.5" y="560" width="4" height="1.8" fill="#fff"/>
<rect x="512.5" y="563" width="1" height="1" fill="#fff"/>
<rect x="514" y="565" width="5" height="3.8" fill="#fff"/>
<rect x="520.5" y="566" width="4" height="1.8" fill="#fff"/>
<rect x="512.5" y="569" width="1" height="1" fill="#fff"/>
<rect x="514" y="571" width="5" height="3.8" fill="#fff"/>
<rect x="520.5" y="572" width="4" height="1.8" fill="#fff"/>
<rect x="512.5" y="575" width="1" height="1" fill="#fff"/>
<rect x="514" y="577" width="5" height="3.8" fill="#fff"/>
<rect x="520.5" y="578" width="4" height="1.8" fill="#fff"/>
<rect x="512.5" y="581" width="1" height="1" fill="#fff"/>
<rect x="514" y="582" width="5" height="3.8" fill="#fff"/>
<rect x="520.5" y="583" width="4" height="1.8" fill="#fff"/>
<rect x="512.5" y="586" width="1" height="1" fill="#fff"/>
<rect x="514" y="588" width="5" height="3.8" fill="#fff"/>
<rect x="520.5" y="589" width="4" height="1.8" fill="#fff"/>
<rect x="512.5" y="592" width="1" height="1" fill="#fff"/>
<rect x="514" y="594" width="5" height="3.8" fill="#fff"/>
<rect x="520.5" y="595" width="4" height="1.8" fill="#fff"/>
<rect x="512.5" y="598" width="1" height="1" fill="#fff"/>
<rect x="514" y="600" width="5" height="3.8" fill="#fff"/>
<rect x="520.5" y="601" width="4" height="1.8" fill="#fff"/>
<rect x="512.5" y="604" width="1" height="1" fill="#fff"/>
<rect x="513" y="611" width="1" height="10" fill="#000"/>
<rect x="513" y="611" width="10" height="1" fill="#000"/>
<rect x="522" y="611" width="1" height="4" fill="#000"/>
<rect x="522" y="614" width="6" height="1" fill="#000"/>
<rect x="527" y="614" width="1" height="8" fill="#000"/>
<rect x="520" y="614.5" width="1.5" height="4" fill="#000"/>
<rect x="520" y="617" width="6" height="1.5" fill="#000"/>
<rect x="524.5" y="617" width="1.5" height="4" fill="#000"/>
<rect x="512" y="621" width="16" height="2" fill="#000"/>
<rect x="511" y="623" width="17" height="1" fill="#000"/>
<rect x="514" y="624" width="1" height="8" fill="#000"/>
<rect x="521" y="624" width="1" height="8" fill="#000"/>
<rect x="530" y="407" width="19" height="226" fill="#fff"/>
<rect x="530" y="407" width="1" height="226" fill="#000"/>
<rect x="548" y="407" width="1" height="226" fill="#000"/>
<rect x="530" y="407" width="19" height="1" fill="#000"/>
<rect x="530" y="632" width="19" height="1" fill="#000"/>
<rect x="534" y="407" width="1" height="7" fill="#000"/>
<rect x="541" y="407" width="1" height="7" fill="#000"/>
<rect x="531" y="414" width="17" height="1" fill="#000"/>
<rect x="532" y="415" width="16" height="2.5" fill="#000"/>
<rect x="533" y="417" width="1" height="11" fill="#000"/>
<rect x="533" y="427" width="10" height="1" fill="#000"/>
<rect x="542" y="424" width="1" height="4" fill="#000"/>
<rect x="542" y="424" width="6" height="1" fill="#000"/>
<rect x="547" y="417" width="1" height="8" fill="#000"/>
<rect x="540" y="420" width="1.5" height="4" fill="#000"/>
<rect x="540" y="420" width="6" height="1.5" fill="#000"/>
<rect x="544.5" y="418" width="1.5" height="3.5" fill="#000"/>
<rect x="532.5" y="432" width="13.5" height="174.5" fill="#000"/>
<rect x="534" y="435" width="5" height="3.8" fill="#fff"/>
<rect x="540.5" y="436" width="4" height="1.8" fill="#fff"/>
<rect x="532.5" y="439" width="1" height="1" fill="#fff"/>
<rect x="534" y="441" width="5" height="3.8" fill="#fff"/>
<rect x="540.5" y="442" width="4" height="1.8" fill="#fff"/>
<rect x="532.5" y="445" width="1" height="1" fill="#fff"/>
<rect x="534" y="447" width="5" height="3.8" fill="#fff"/>
<rect x="540.5" y="448" width="4" height="1.8" fill="#fff"/>
<rect x="532.5" y="451" width="1" height="1" fill="#fff"/>
<rect x="534" y="453" width="5" height="3.8" fill="#fff"/>
<rect x="540.5" y="454" width="4" height="1.8" fill="#fff"/>
<rect x="532.5" y="457" width="1" height="1" fill="#fff"/>
<rect x="534" y="459" width="5" height="3.8" fill="#fff"/>
<rect x="540.5" y="460" width="4" height="1.8" fill="#fff"/>
<rect x="532.5" y="463" width="1" height="1" fill="#fff"/>
<rect x="534" y="464" width="5" height="3.8" fill="#fff"/>
<rect x="540.5" y="465" width="4" height="1.8" fill="#fff"/>
<rect x="532.5" y="468" width="1" height="1" fill="#fff"/>
<rect x="533" y="464.5" width="2" height="2.5" fill="#fff"/>
<rect x="539" y="465.5" width="2" height="1" fill="#fff"/>
<rect x="534" y="470" width="5" height="3.8" fill="#fff"/>
<rect x="540.5" y="471" width="4" height="1.8" fill="#fff"/>
<rect x="532.5" y="474" width="1" height="1" fill="#fff"/>
<rect x="533" y="470.5" width="2" height="2.5" fill="#fff"/>
<rect x="539" y="471.5" width="2" height="1" fill="#fff"/>
<rect x="534" y="476" width="5" height="3.8" fill="#fff"/>
<rect x="540.5" y="477" width="4" height="1.8" fill="#fff"/>
<rect x="532.5" y="480" width="1" height="1" fill="#fff"/>
<rect x="534" y="482" width="5" height="3.8" fill="#fff"/>
<rect x="540.5" y="483" width="4" height="1.8" fill="#fff"/>
<rect x="532.5" y="486" width="1" height="1" fill="#fff"/>
<rect x="534" y="488" width="5" height="3.8" fill="#fff"/>
<rect x="540.5" y="489" width="4" height="1.8" fill="#fff"/>
<rect x="532.5" y="492" width="1" height="1" fill="#fff"/>
<rect x="534" y="494" width="5" height="3.8" fill="#fff"/>
<rect x="540.5" y="495" width="4" height="1.8" fill="#fff"/>
<rect x="532.5" y="498" width="1" height="1" fill="#fff"/>
<rect x="534" y="500" width="5" height="3.8" fill="#fff"/>
<rect x="540.5" y="501" width="4" height="1.8" fill="#fff"/>
<rect x="532.5" y="504" width="1" height="1" fill="#fff"/>
<rect x="534" y="506" width="5" height="3.8" fill="#fff"/>
<rect x="540.5" y="507" width="4" height="1.8" fill="#fff"/>
<rect x="532.5" y="510" width="1" height="1" fill="#fff"/>
<rect x="534" y="512" width="5" height="3.8" fill="#fff"/>
<rect x="540.5" y="513" width="4" height="1.8" fill="#fff"/>
<rect x="532.5" y="516" width="1" height="1" fill="#fff"/>
<rect x="534" y="518" width="5" height="3.8" fill="#fff"/>
<rect x="540.5" y="519" width="4" height="1.8" fill="#fff"/>
<rect x="532.5" y="522" width="1" height="1" fill="#fff"/>
<rect x="534" y="524" width="5" height="3.8" fill="#fff"/>
<rect x="540.5" y="525" width="4" height="1.8" fill="#fff"/>
<rect x="532.5" y="528" width="1" height="1" fill="#fff"/>
<rect x="534" y="529" width="5" height="3.8" fill="#fff"/>
<rect x="540.5" y="530" width="4" height="1.8" fill="#fff"/>
<rect x="532.5" y="533" width="1" height="1" fill="#fff"/>
<rect x="534" y="535" width="5" height="3.8" fill="#fff"/>
<rect x="540.5" y="536" width="4" height="1.8" fill="#fff"/>
<rect x="532.5" y="539" width="1" height="1" fill="#fff"/>
<rect x="534" y="541" width="5" height="3.8" fill="#fff"/>
<rect x="540.5" y="542" width="4" height="1.8" fill="#fff"/>
<rect x="532.5" y="545" width="1" height="1" fill="#fff"/>
<rect x="534" y="547" width="5" height="3.8" fill="#fff"/>
<rect x="540.5" y="548" width="4" height="1.8" fill="#fff"/>
<rect x="532.5" y="551" width="1" height="1" fill="#fff"/>
<rect x="534" y="553" width="5" height="3.8" fill="#fff"/>
<rect x="540.5" y="554" width="4" height="1.8" fill="#fff"/>
<rect x="532.5" y="557" width="1" height="1" fill="#fff"/>
<rect x="534" y="559" width="5" height="3.8" fill="#fff"/>
<rect x="540.5" y="560" width="4" height="1.8" fill="#fff"/>
<rect x="532.5" y="563" width="1" height="1" fill="#fff"/>
<rect x="534" y="565" width="5" height="3.8" fill="#fff"/>
<rect x="540.5" y="566" width="4" height="1.8" fill="#fff"/>
<rect x="532.5" y="569" width="1" height="1" fill="#fff"/>
<rect x="534" y="571" width="5" height="3.8" fill="#fff"/>
<rect x="540.5" y="572" width="4" height="1.8" fill="#fff"/>
<rect x="532.5" y="575" width="1" height="1" fill="#fff"/>
<rect x="534" y="577" width="5" height="3.8" fill="#fff"/>
<rect x="540.5" y="578" width="4" height="1.8" fill="#fff"/>
<rect x="532.5" y="581" width="1" height="1" fill="#fff"/>
<rect x="534" y="582" width="5" height="3.8" fill="#fff"/>
<rect x="540.5" y="583" width="4" height="1.8" fill="#fff"/>
<rect x="532.5" y="586" width="1" height="1" fill="#fff"/>
<rect x="534" y="588" width="5" height="3.8" fill="#fff"/>
<rect x="540.5" y="589" width="4" height="1.8" fill="#fff"/>
<rect x="532.5" y="592" width="1" height="1" fill="#fff"/>
<rect x="534" y="594" width="5" height="3.8" fill="#fff"/>
<rect x="540.5" y="595" width="4" height="1.8" fill="#fff"/>
<rect x="532.5" y="598" width="1" height="1" fill="#fff"/>
<rect x="534" y="600" width="5" height="3.8" fill="#fff"/>
<rect x="540.5" y="601" width="4" height="1.8" fill="#fff"/>
<rect x="532.5" y="604" width="1" height="1" fill="#fff"/>
<rect x="533" y="611" width="1" height="10" fill="#000"/>
<rect x="533" y="611" width="10" height="1" fill="#000"/>
<rect x="542" y="611" width="1" height="4" fill="#000"/>
<rect x="542" y="614" width="6" height="1" fill="#000"/>
<rect x="547" y="614" width="1" height="8" fill="#000"/>
<rect x="540" y="614.5" width="1.5" height="4" fill="#000"/>
<rect x="540" y="617" width="6" height="1.5" fill="#000"/>
<rect x="544.5" y="617" width="1.5" height="4" fill="#000"/>
<rect x="532" y="621" width="16" height="2" fill="#000"/>
<rect x="531" y="623" width="17" height="1" fill="#000"/>
<rect x="534" y="624" width="1" height="8" fill="#000"/>
<rect x="541" y="624" width="1" height="8" fill="#000"/>
<rect x="550" y="407" width="19" height="226" fill="#fff"/>
<rect x="550" y="407" width="1" height="226" fill="#000"/>
<rect x="568" y="407" width="1" height="226" fill="#000"/>
<rect x="550" y="407" width="19" height="1" fill="#000"/>
<rect x="550" y="632" width="19" height="1" fill="#000"/>
<rect x="554" y="407" width="1" height="7" fill="#000"/>
<rect x="561" y="407" width="1" height="7" fill="#000"/>
<rect x="551" y="414" width="17" height="1" fill="#000"/>
<rect x="552" y="415" width="16" height="2.5" fill="#000"/>
<rect x="553" y="417" width="1" height="11" fill="#000"/>
<rect x="553" y="427" width="10" height="1" fill="#000"/>
<rect x="562" y="424" width="1" height="4" fill="#000"/>
<rect x="562" y="424" width="6" height="1" fill="#000"/>
<rect x="567" y="417" width="1" height="8" fill="#000"/>
<rect x="560" y="420" width="1.5" height="4" fill="#000"/>
<rect x="560" y="420" width="6" height="1.5" fill="#000"/>
<rect x="564.5" y="418" width="1.5" height="3.5" fill="#000"/>
<rect x="552.5" y="432" width="13.5" height="174.5" fill="#000"/>
<rect x="554" y="435" width="5" height="3.8" fill="#fff"/>
<rect x="560.5" y="436" width="4" height="1.8" fill="#fff"/>
<rect x="552.5" y="439" width="1" height="1" fill="#fff"/>
<rect x="554" y="441" width="5" height="3.8" fill="#fff"/>
<rect x="560.5" y="442" width="4" height="1.8" fill="#fff"/>
<rect x="552.5" y="445" width="1" height="1" fill="#fff"/>
<rect x="554" y="447" width="5" height="3.8" fill="#fff"/>
<rect x="560.5" y="448" width="4" height="1.8" fill="#fff"/>
<rect x="552.5" y="451" width="1" height="1" fill="#fff"/>
<rect x="554" y="453" width="5" height="3.8" fill="#fff"/>
<rect x="560.5" y="454" width="4" height="1.8" fill="#fff"/>
<rect x="552.5" y="457" width="1" height="1" fill="#fff"/>
<rect x="554" y="459" width="5" height="3.8" fill="#fff"/>
<rect x="560.5" y="460" width="4" height="1.8" fill="#fff"/>
<rect x="552.5" y="463" width="1" height="1" fill="#fff"/>
<rect x="554" y="464" width="5" height="3.8" fill="#fff"/>
<rect x="560.5" y="465" width="4" height="1.8" fill="#fff"/>
<rect x="552.5" y="468" width="1" height="1" fill="#fff"/>
<rect x="553" y="464.5" width="2" height="2.5" fill="#fff"/>
<rect x="559" y="465.5" width="2" height="1" fill="#fff"/>
<rect x="554" y="470" width="5" height="3.8" fill="#fff"/>
<rect x="560.5" y="471" width="4" height="1.8" fill="#fff"/>
<rect x="552.5" y="474" width="1" height="1" fill="#fff"/>
<rect x="553" y="470.5" width="2" height="2.5" fill="#fff"/>
<rect x="559" y="471.5" width="2" height="1" fill="#fff"/>
<rect x="554" y="476" width="5" height="3.8" fill="#fff"/>
<rect x="560.5" y="477" width="4" height="1.8" fill="#fff"/>
<rect x="552.5" y="480" width="1" height="1" fill="#fff"/>
<rect x="554" y="482" width="5" height="3.8" fill="#fff"/>
<rect x="560.5" y="483" width="4" height="1.8" fill="#fff"/>
<rect x="552.5" y="486" width="1" height="1" fill="#fff"/>
<rect x="554" y="488" width="5" height="3.8" fill="#fff"/>
<rect x="560.5" y="489" width="4" height="1.8" fill="#fff"/>
<rect x="552.5" y="492" width="1" height="1" fill="#fff"/>
<rect x="554" y="494" width="5" height="3.8" fill="#fff"/>
<rect x="560.5" y="495" width="4" height="1.8" fill="#fff"/>
<rect x="552.5" y="498" width="1" height="1" fill="#fff"/>
<rect x="554" y="500" width="5" height="3.8" fill="#fff"/>
<rect x="560.5" y="501" width="4" height="1.8" fill="#fff"/>
<rect x="552.5" y="504" width="1" height="1" fill="#fff"/>
<rect x="554" y="506" width="5" height="3.8" fill="#fff"/>
<rect x="560.5" y="507" width="4" height="1.8" fill="#fff"/>
<rect x="552.5" y="510" width="1" height="1" fill="#fff"/>
<rect x="554" y="512" width="5" height="3.8" fill="#fff"/>
<rect x="560.5" y="513" width="4" height="1.8" fill="#fff"/>
<rect x="552.5" y="516" width="1" height="1" fill="#fff"/>
<rect x="554" y="518" width="5" height="3.8" fill="#fff"/>
<rect x="560.5" y="519" width="4" height="1.8" fill="#fff"/>
<rect x="552.5" y="522" width="1" height="1" fill="#fff"/>
<rect x="554" y="524" width="5" height="3.8" fill="#fff"/>
<rect x="560.5" y="525" width="4" height="1.8" fill="#fff"/>
<rect x="552.5" y="528" width="1" height="1" fill="#fff"/>
<rect x="554" y="529" width="5" height="3.8" fill="#fff"/>
<rect x="560.5" y="530" width="4" height="1.8" fill="#fff"/>
<rect x="552.5" y="533" width="1" height="1" fill="#fff"/>
<rect x="554" y="535" width="5" height="3.8" fill="#fff"/>
<rect x="560.5" y="536" width="4" height="1.8" fill="#fff"/>
<rect x="552.5" y="539" width="1" height="1" fill="#fff"/>
<rect x="554" y="541" width="5" height="3.8" fill="#fff"/>
<rect x="560.5" y="542" width="4" height="1.8" fill="#fff"/>
<rect x="552.5" y="545" width="1" height="1" fill="#fff"/>
<rect x="554" y="547" width="5" height="3.8" fill="#fff"/>
<rect x="560.5" y="548" width="4" height="1.8" fill="#fff"/>
<rect x="552.5" y="551" width="1" height="1" fill="#fff"/>
<rect x="554" y="553" width="5" height="3.8" fill="#fff"/>
<rect x="560.5" y="554" width="4" height="1.8" fill="#fff"/>
<rect x="552.5" y="557" width="1" height="1" fill="#fff"/>
<rect x="554" y="559" width="5" height="3.8" fill="#fff"/>
<rect x="560.5" y="560" width="4" height="1.8" fill="#fff"/>
<rect x="552.5" y="563" width="1" height="1" fill="#fff"/>
<rect x="554" y="565" width="5" height="3.8" fill="#fff"/>
<rect x="560.5" y="566" width="4" height="1.8" fill="#fff"/>
<rect x="552.5" y="569" width="1" height="1" fill="#fff"/>
<rect x="554" y="571" width="5" height="3.8" fill="#fff"/>
<rect x="560.5" y="572" width="4" height="1.8" fill="#fff"/>
<rect x="552.5" y="575" width="1" height="1" fill="#fff"/>
<rect x="554" y="577" width="5" height="3.8" fill="#fff"/>
<rect x="560.5" y="578" width="4" height="1.8" fill="#fff"/>
<rect x="552.5" y="581" width="1" height="1" fill="#fff"/>
<rect x="554" y="582" width="5" height="3.8" fill="#fff"/>
<rect x="560.5" y="583" width="4" height="1.8" fill="#fff"/>
<rect x="552.5" y="586" width="1" height="1" fill="#fff"/>
<rect x="554" y="588" width="5" height="3.8" fill="#fff"/>
<rect x="560.5" y="589" width="4" height="1.8" fill="#fff"/>
<rect x="552.5" y="592" width="1" height="1" fill="#fff"/>
<rect x="554" y="594" width="5" height="3.8" fill="#fff"/>
<rect x="560.5" y="595" width="4" height="1.8" fill="#fff"/>
<rect x="552.5" y="598" width="1" height="1" fill="#fff"/>
<rect x="554" y="600" width="5" height="3.8" fill="#fff"/>
<rect x="560.5" y="601" width="4" height="1.8" fill="#fff"/>
<rect x="552.5" y="604" width="1" height="1" fill="#fff"/>
<rect x="553" y="611" width="1" height="10" fill="#000"/>
<rect x="553" y="611" width="10" height="1" fill="#000"/>
<rect x="562" y="611" width="1" height="4" fill="#000"/>
<rect x="562" y="614" width="6" height="1" fill="#000"/>
<rect x="567" y="614" width="1" height="8" fill="#000"/>
<rect x="560" y="614.5" width="1.5" height="4" fill="#000"/>
<rect x="560" y="617" width="6" height="1.5" fill="#000"/>
<rect x="564.5" y="617" width="1.5" height="4" fill="#000"/>
<rect x="552" y="621" width="16" height="2" fill="#000"/>
<rect x="551" y="623" width="17" height="1" fill="#000"/>
<rect x="554" y="624" width="1" height="8" fill="#000"/>
<rect x="561" y="624" width="1" height="8" fill="#000"/>
<rect x="571" y="407" width="19" height="226" fill="#fff"/>
<rect x="571" y="407" width="1" height="226" fill="#000"/>
<rect x="589" y="407" width="1" height="226" fill="#000"/>
<rect x="571" y="407" width="19" height="1" fill="#000"/>
<rect x="571" y="632" width="19" height="1" fill="#000"/>
<rect x="575" y="407" width="1" height="7" fill="#000"/>
<rect x="582" y="407" width="1" height="7" fill="#000"/>
<rect x="572" y="414" width="17" height="1" fill="#000"/>
<rect x="573" y="415" width="16" height="2.5" fill="#000"/>
<rect x="574" y="417" width="1" height="11" fill="#000"/>
<rect x="574" y="427" width="10" height="1" fill="#000"/>
<rect x="583" y="424" width="1" height="4" fill="#000"/>
<rect x="583" y="424" width="6" height="1" fill="#000"/>
<rect x="588" y="417" width="1" height="8" fill="#000"/>
<rect x="581" y="420" width="1.5" height="4" fill="#000"/>
<rect x="581" y="420" width="6" height="1.5" fill="#000"/>
<rect x="585.5" y="418" width="1.5" height="3.5" fill="#000"/>
<rect x="573.5" y="432" width="13.5" height="174.5" fill="#000"/>
<rect x="575" y="435" width="5" height="3.8" fill="#fff"/>
<rect x="581.5" y="436" width="4" height="1.8" fill="#fff"/>
<rect x="573.5" y="439" width="1" height="1" fill="#fff"/>
<rect x="575" y="441" width="5" height="3.8" fill="#fff"/>
<rect x="581.5" y="442" width="4" height="1.8" fill="#fff"/>
<rect x="573.5" y="445" width="1" height="1" fill="#fff"/>
<rect x="575" y="447" width="5" height="3.8" fill="#fff"/>
<rect x="581.5" y="448" width="4" height="1.8" fill="#fff"/>
<rect x="573.5" y="451" width="1" height="1" fill="#fff"/>
<rect x="575" y="453" width="5" height="3.8" fill="#fff"/>
<rect x="581.5" y="454" width="4" height="1.8" fill="#fff"/>
<rect x="573.5" y="457" width="1" height="1" fill="#fff"/>
<rect x="575" y="459" width="5" height="3.8" fill="#fff"/>
<rect x="581.5" y="460" width="4" height="1.8" fill="#fff"/>
<rect x="573.5" y="463" width="1" height="1" fill="#fff"/>
<rect x="575" y="464" width="5" height="3.8" fill="#fff"/>
<rect x="581.5" y="465" width="4" height="1.8" fill="#fff"/>
<rect x="573.5" y="468" width="1" height="1" fill="#fff"/>
<rect x="574" y="464.5" width="2" height="2.5" fill="#fff"/>
<rect x="580" y="465.5" width="2" height="1" fill="#fff"/>
<rect x="575" y="470" width="5" height="3.8" fill="#fff"/>
<rect x="581.5" y="471" width="4" height="1.8" fill="#fff"/>
<rect x="573.5" y="474" width="1" height="1" fill="#fff"/>
<rect x="574" y="470.5" width="2" height="2.5" fill="#fff"/>
<rect x="580" y="471.5" width="2" height="1" fill="#fff"/>
<rect x="575" y="476" width="5" height="3.8" fill="#fff"/>
<rect x="581.5" y="477" width="4" height="1.8" fill="#fff"/>
<rect x="573.5" y="480" width="1" height="1" fill="#fff"/>
<rect x="575" y="482" width="5" height="3.8" fill="#fff"/>
<rect x="581.5" y="483" width="4" height="1.8" fill="#fff"/>
<rect x="573.5" y="486" width="1" height="1" fill="#fff"/>
<rect x="575" y="488" width="5" height="3.8" fill="#fff"/>
<rect x="581.5" y="489" width="4" height="1.8" fill="#fff"/>
<rect x="573.5" y="492" width="1" height="1" fill="#fff"/>
<rect x="575" y="494" width="5" height="3.8" fill="#fff"/>
<rect x="581.5" y="495" width="4" height="1.8" fill="#fff"/>
<rect x="573.5" y="498" width="1" height="1" fill="#fff"/>
<rect x="575" y="500" width="5" height="3.8" fill="#fff"/>
<rect x="581.5" y="501" width="4" height="1.8" fill="#fff"/>
<rect x="573.5" y="504" width="1" height="1" fill="#fff"/>
<rect x="575" y="506" width="5" height="3.8" fill="#fff"/>
<rect x="581.5" y="507" width="4" height="1.8" fill="#fff"/>
<rect x="573.5" y="510" width="1" height="1" fill="#fff"/>
<rect x="575" y="512" width="5" height="3.8" fill="#fff"/>
<rect x="581.5" y="513" width="4" height="1.8" fill="#fff"/>
<rect x="573.5" y="516" width="1" height="1" fill="#fff"/>
<rect x="575" y="518" width="5" height="3.8" fill="#fff"/>
<rect x="581.5" y="519" width="4" height="1.8" fill="#fff"/>
<rect x="573.5" y="522" width="1" height="1" fill="#fff"/>
<rect x="575" y="524" width="5" height="3.8" fill="#fff"/>
<rect x="581.5" y="525" width="4" height="1.8" fill="#fff"/>
<rect x="573.5" y="528" width="1" height="1" fill="#fff"/>
<rect x="575" y="529" width="5" height="3.8" fill="#fff"/>
<rect x="581.5" y="530" width="4" height="1.8" fill="#fff"/>
<rect x="573.5" y="533" width="1" height="1" fill="#fff"/>
<rect x="575" y="535" width="5" height="3.8" fill="#fff"/>
<rect x="581.5" y="536" width="4" height="1.8" fill="#fff"/>
<rect x="573.5" y="539" width="1" height="1" fill="#fff"/>
<rect x="575" y="541" width="5" height="3.8" fill="#fff"/>
<rect x="581.5" y="542" width="4" height="1.8" fill="#fff"/>
<rect x="573.5" y="545" width="1" height="1" fill="#fff"/>
<rect x="575" y="547" width="5" height="3.8" fill="#fff"/>
<rect x="581.5" y="548" width="4" height="1.8" fill="#fff"/>
<rect x="573.5" y="551" width="1" height="1" fill="#fff"/>
<rect x="575" y="553" width="5" height="3.8" fill="#fff"/>
<rect x="581.5" y="554" width="4" height="1.8" fill="#fff"/>
<rect x="573.5" y="557" width="1" height="1" fill="#fff"/>
<rect x="575" y="559" width="5" height="3.8" fill="#fff"/>
<rect x="581.5" y="560" width="4" height="1.8" fill="#fff"/>
<rect x="573.5" y="563" width="1" height="1" fill="#fff"/>
<rect x="575" y="565" width="5" height="3.8" fill="#fff"/>
<rect x="581.5" y="566" width="4" height="1.8" fill="#fff"/>
<rect x="573.5" y="569" width="1" height="1" fill="#fff"/>
<rect x="575" y="571" width="5" height="3.8" fill="#fff"/>
<rect x="581.5" y="572" width="4" height="1.8" fill="#fff"/>
<rect x="573.5" y="575" width="1" height="1" fill="#fff"/>
<rect x="575" y="577" width="5" height="3.8" fill="#fff"/>
<rect x="581.5" y="578" width="4" height="1.8" fill="#fff"/>
<rect x="573.5" y="581" width="1" height="1" fill="#fff"/>
<rect x="575" y="582" width="5" height="3.8" fill="#fff"/>
<rect x="581.5" y="583" width="4" height="1.8" fill="#fff"/>
<rect x="573.5" y="586" width="1" height="1" fill="#fff"/>
<rect x="575" y="588" width="5" height="3.8" fill="#fff"/>
<rect x="581.5" y="589" width="4" height="1.8" fill="#fff"/>
<rect x="573.5" y="592" width="1" height="1" fill="#fff"/>
<rect x="575" y="594" width="5" height="3.8" fill="#fff"/>
<rect x="581.5" y="595" width="4" height="1.8" fill="#fff"/>
<rect x="573.5" y="598" width="1" height="1" fill="#fff"/>
<rect x="575" y="600" width="5" height="3.8" fill="#fff"/>
<rect x="581.5" y="601" width="4" height="1.8" fill="#fff"/>
<rect x="573.5" y="604" width="1" height="1" fill="#fff"/>
<rect x="574" y="611" width="1" height="10" fill="#000"/>
<rect x="574" y="611" width="10" height="1" fill="#000"/>
<rect x="583" y="611" width="1" height="4" fill="#000"/>
<rect x="583" y="614" width="6" height="1" fill="#000"/>
<rect x="588" y="614" width="1" height="8" fill="#000"/>
<rect x="581" y="614.5" width="1.5" height="4" fill="#000"/>
<rect x="581" y="617" width="6" height="1.5" fill="#000"/>
<rect x="585.5" y="617" width="1.5" height="4" fill="#000"/>
<rect x="573" y="621" width="16" height="2" fill="#000"/>
<rect x="572" y="623" width="17" height="1" fill="#000"/>
<rect x="575" y="624" width="1" height="8" fill="#000"/>
<rect x="582" y="624" width="1" height="8" fill="#000"/>
<rect x="591" y="407" width="19" height="226" fill="#fff"/>
<rect x="591" y="407" width="1" height="226" fill="#000"/>
<rect x="609" y="407" width="1" height="226" fill="#000"/>
<rect x="591" y="407" width="19" height="1" fill="#000"/>
<rect x="591" y="632" width="19" height="1" fill="#000"/>
<rect x="595" y="407" width="1" height="7" fill="#000"/>
<rect x="602" y="407" width="1" height="7" fill="#000"/>
<rect x="592" y="414" width="17" height="1" fill="#000"/>
<rect x="593" y="415" width="16" height="2.5" fill="#000"/>
<rect x="594" y="417" width="1" height="11" fill="#000"/>
<rect x="594" y="427" width="10" height="1" fill="#000"/>
<rect x="603" y="424" width="1" height="4" fill="#000"/>
<rect x="603" y="424" width="6" height="1" fill="#000"/>
<rect x="608" y="417" width="1" height="8" fill="#000"/>
<rect x="601" y="420" width="1.5" height="4" fill="#000"/>
<rect x="601" y="420" width="6" height="1.5" fill="#000"/>
<rect x="605.5" y="418" width="1.5" height="3.5" fill="#000"/>
<rect x="593.5" y="432" width="13.5" height="174.5" fill="#000"/>
<rect x="595" y="435" width="5" height="3.8" fill="#fff"/>
<rect x="601.5" y="436" width="4" height="1.8" fill="#fff"/>
<rect x="593.5" y="439" width="1" height="1" fill="#fff"/>
<rect x="595" y="441" width="5" height="3.8" fill="#fff"/>
<rect x="601.5" y="442" width="4" height="1.8" fill="#fff"/>
<rect x="593.5" y="445" width="1" height="1" fill="#fff"/>
<rect x="595" y="447" width="5" height="3.8" fill="#fff"/>
<rect x="601.5" y="448" width="4" height="1.8" fill="#fff"/>
<rect x="593.5" y="451" width="1" height="1" fill="#fff"/>
<rect x="595" y="453" width="5" height="3.8" fill="#fff"/>
<rect x="601.5" y="454" width="4" height="1.8" fill="#fff"/>
<rect x="593.5" y="457" width="1" height="1" fill="#fff"/>
<rect x="595" y="459" width="5" height="3.8" fill="#fff"/>
<rect x="601.5" y="460" width="4" height="1.8" fill="#fff"/>
<rect x="593.5" y="463" width="1" height="1" fill="#fff"/>
<rect x="595" y="464" width="5" height="3.8" fill="#fff"/>
<rect x="601.5" y="465" width="4" height="1.8" fill="#fff"/>
<rect x="593.5" y="468" width="1" height="1" fill="#fff"/>
<rect x="594" y="464.5" width="2" height="2.5" fill="#fff"/>
<rect x="600" y="465.5" width="2" height="1" fill="#fff"/>
<rect x="595" y="470" width="5" height="3.8" fill="#fff"/>
<rect x="601.5" y="471" width="4" height="1.8" fill="#fff"/>
<rect x="593.5" y="474" width="1" height="1" fill="#fff"/>
<rect x="594" y="470.5" width="2" height="2.5" fill="#fff"/>
<rect x="600" y="471.5" width="2" height="1" fill="#fff"/>
<rect x="595" y="476" width="5" height="3.8" fill="#fff"/>
<rect x="601.5" y="477" width="4" height="1.8" fill="#fff"/>
<rect x="593.5" y="480" width="1" height="1" fill="#fff"/>
<rect x="595" y="482" width="5" height="3.8" fill="#fff"/>
<rect x="601.5" y="483" width="4" height="1.8" fill="#fff"/>
<rect x="593.5" y="486" width="1" height="1" fill="#fff"/>
<rect x="595" y="488" width="5" height="3.8" fill="#fff"/>
<rect x="601.5" y="489" width="4" height="1.8" fill="#fff"/>
<rect x="593.5" y="492" width="1" height="1" fill="#fff"/>
<rect x="595" y="494" width="5" height="3.8" fill="#fff"/>
<rect x="601.5" y="495" width="4" height="1.8" fill="#fff"/>
<rect x="593.5" y="498" width="1" height="1" fill="#fff"/>
<rect x="595" y="500" width="5" height="3.8" fill="#fff"/>
<rect x="601.5" y="501" width="4" height="1.8" fill="#fff"/>
<rect x="593.5" y="504" width="1" height="1" fill="#fff"/>
<rect x="595" y="506" width="5" height="3.8" fill="#fff"/>
<rect x="601.5" y="507" width="4" height="1.8" fill="#fff"/>
<rect x="593.5" y="510" width="1" height="1" fill="#fff"/>
<rect x="595" y="512" width="5" height="3.8" fill="#fff"/>
<rect x="601.5" y="513" width="4" height="1.8" fill="#fff"/>
<rect x="593.5" y="516" width="1" height="1" fill="#fff"/>
<rect x="595" y="518" width="5" height="3.8" fill="#fff"/>
<rect x="601.5" y="519" width="4" height="1.8" fill="#fff"/>
<rect x="593.5" y="522" width="1" height="1" fill="#fff"/>
<rect x="595" y="524" width="5" height="3.8" fill="#fff"/>
<rect x="601.5" y="525" width="4" height="1.8" fill="#fff"/>
<rect x="593.5" y="528" width="1" height="1" fill="#fff"/>
<rect x="595" y="529" width="5" height="3.8" fill="#fff"/>
<rect x="601.5" y="530" width="4" height="1.8" fill="#fff"/>
<rect x="593.5" y="533" width="1" height="1" fill="#fff"/>
<rect x="595" y="535" width="5" height="3.8" fill="#fff"/>
<rect x="601.5" y="536" width="4" height="1.8" fill="#fff"/>
<rect x="593.5" y="539" width="1" height="1" fill="#fff"/>
<rect x="595" y="541" width="5" height="3.8" fill="#fff"/>
<rect x="601.5" y="542" width="4" height="1.8" fill="#fff"/>
<rect x="593.5" y="545" width="1" height="1" fill="#fff"/>
<rect x="595" y="547" width="5" height="3.8" fill="#fff"/>
<rect x="601.5" y="548" width="4" height="1.8" fill="#fff"/>
<rect x="593.5" y="551" width="1" height="1" fill="#fff"/>
<rect x="595" y="553" width="5" height="3.8" fill="#fff"/>
<rect x="601.5" y="554" width="4" height="1.8" fill="#fff"/>
<rect x="593.5" y="557" width="1" height="1" fill="#fff"/>
<rect x="595" y="559" width="5" height="3.8" fill="#fff"/>
<rect x="601.5" y="560" width="4" height="1.8" fill="#fff"/>
<rect x="593.5" y="563" width="1" height="1" fill="#fff"/>
<rect x="595" y="565" width="5" height="3.8" fill="#fff"/>
<rect x="601.5" y="566" width="4" height="1.8" fill="#fff"/>
<rect x="593.5" y="569" width="1" height="1" fill="#fff"/>
<rect x="595" y="571" width="5" height="3.8" fill="#fff"/>
<rect x="601.5" y="572" width="4" height="1.8" fill="#fff"/>
<rect x="593.5" y="575" width="1" height="1" fill="#fff"/>
<rect x="595" y="577" width="5" height="3.8" fill="#fff"/>
<rect x="601.5" y="578" width="4" height="1.8" fill="#fff"/>
<rect x="593.5" y="581" width="1" height="1" fill="#fff"/>
<rect x="595" y="582" width="5" height="3.8" fill="#fff"/>
<rect x="601.5" y="583" width="4" height="1.8" fill="#fff"/>
<rect x="593.5" y="586" width="1" height="1" fill="#fff"/>
<rect x="595" y="588" width="5" height="3.8" fill="#fff"/>
<rect x="601.5" y="589" width="4" height="1.8" fill="#fff"/>
<rect x="593.5" y="592" width="1" height="1" fill="#fff"/>
<rect x="595" y="594" width="5" height="3.8" fill="#fff"/>
<rect x="601.5" y="595" width="4" height="1.8" fill="#fff"/>
<rect x="593.5" y="598" width="1" height="1" fill="#fff"/>
<rect x="595" y="600" width="5" height="3.8" fill="#fff"/>
<rect x="601.5" y="601" width="4" height="1.8" fill="#fff"/>
<rect x="593.5" y="604" width="1" height="1" fill="#fff"/>
<rect x="594" y="611" width="1" height="10" fill="#000"/>
<rect x="594" y="611" width="10" height="1" fill="#000"/>
<rect x="603" y="611" width="1" height="4" fill="#000"/>
<rect x="603" y="614" width="6" height="1" fill="#000"/>
<rect x="608" y="614" width="1" height="8" fill="#000"/>
<rect x="601" y="614.5" width="1.5" height="4" fill="#000"/>
<rect x="601" y="617" width="6" height="1.5" fill="#000"/>
<rect x="605.5" y="617" width="1.5" height="4" fill="#000"/>
<rect x="593" y="621" width="16" height="2" fill="#000"/>
<rect x="592" y="623" width="17" height="1" fill="#000"/>
<rect x="595" y="624" width="1" height="8" fill="#000"/>
<rect x="602" y="624" width="1" height="8" fill="#000"/>
<rect x="614" y="407" width="19" height="226" fill="#fff"/>
<rect x="614" y="407" width="1" height="226" fill="#000"/>
<rect x="632" y="407" width="1" height="226" fill="#000"/>
<rect x="614" y="407" width="19" height="1" fill="#000"/>
<rect x="614" y="632" width="19" height="1" fill="#000"/>
<rect x="618" y="407" width="1" height="7" fill="#000"/>
<rect x="625" y="407" width="1" height="7" fill="#000"/>
<rect x="615" y="414" width="17" height="1" fill="#000"/>
<rect x="616" y="415" width="16" height="2.5" fill="#000"/>
<rect x="617" y="417" width="1" height="11" fill="#000"/>
<rect x="617" y="427" width="10" height="1" fill="#000"/>
<rect x="626" y="424" width="1" height="4" fill="#000"/>
<rect x="626" y="424" width="6" height="1" fill="#000"/>
<rect x="631" y="417" width="1" height="8" fill="#000"/>
<rect x="624" y="420" width="1.5" height="4" fill="#000"/>
<rect x="624" y="420" width="6" height="1.5" fill="#000"/>
<rect x="628.5" y="418" width="1.5" height="3.5" fill="#000"/>
<rect x="616.5" y="432" width="13.5" height="174.5" fill="#000"/>
<rect x="618" y="435" width="5" height="3.8" fill="#fff"/>
<rect x="624.5" y="436" width="4" height="1.8" fill="#fff"/>
<rect x="616.5" y="439" width="1" height="1" fill="#fff"/>
<rect x="618" y="441" width="5" height="3.8" fill="#fff"/>
<rect x="624.5" y="442" width="4" height="1.8" fill="#fff"/>
<rect x="616.5" y="445" width="1" height="1" fill="#fff"/>
<rect x="618" y="447" width="5" height="3.8" fill="#fff"/>
<rect x="624.5" y="448" width="4" height="1.8" fill="#fff"/>
<rect x="616.5" y="451" width="1" height="1" fill="#fff"/>
<rect x="618" y="453" width="5" height="3.8" fill="#fff"/>
<rect x="624.5" y="454" width="4" height="1.8" fill="#fff"/>
<rect x="616.5" y="457" width="1" height="1" fill="#fff"/>
<rect x="618" y="459" width="5" height="3.8" fill="#fff"/>
<rect x="624.5" y="460" width="4" height="1.8" fill="#fff"/>
<rect x="616.5" y="463" width="1" height="1" fill="#fff"/>
<rect x="618" y="464" width="5" height="3.8" fill="#fff"/>
<rect x="624.5" y="465" width="4" height="1.8" fill="#fff"/>
<rect x="616.5" y="468" width="1" height="1" fill="#fff"/>
<rect x="617" y="464.5" width="2" height="2.5" fill="#fff"/>
<rect x="623" y="465.5" width="2" height="1" fill="#fff"/>
<rect x="618" y="470" width="5" height="3.8" fill="#fff"/>
<rect x="624.5" y="471" width="4" height="1.8" fill="#fff"/>
<rect x="616.5" y="474" width="1" height="1" fill="#fff"/>
<rect x="617" y="470.5" width="2" height="2.5" fill="#fff"/>
<rect x="623" y="471.5" width="2" height="1" fill="#fff"/>
<rect x="618" y="476" width="5" height="3.8" fill="#fff"/>
<rect x="624.5" y="477" width="4" height="1.8" fill="#fff"/>
<rect x="616.5" y="480" width="1" height="1" fill="#fff"/>
<rect x="618" y="482" width="5" height="3.8" fill="#fff"/>
<rect x="624.5" y="483" width="4" height="1.8" fill="#fff"/>
<rect x="616.5" y="486" width="1" height="1" fill="#fff"/>
<rect x="618" y="488" width="5" height="3.8" fill="#fff"/>
<rect x="624.5" y="489" width="4" height="1.8" fill="#fff"/>
<rect x="616.5" y="492" width="1" height="1" fill="#fff"/>
<rect x="618" y="494" width="5" height="3.8" fill="#fff"/>
<rect x="624.5" y="495" width="4" height="1.8" fill="#fff"/>
<rect x="616.5" y="498" width="1" height="1" fill="#fff"/>
<rect x="618" y="500" width="5" height="3.8" fill="#fff"/>
<rect x="624.5" y="501" width="4" height="1.8" fill="#fff"/>
<rect x="616.5" y="504" width="1" height="1" fill="#fff"/>
<rect x="618" y="506" width="5" height="3.8" fill="#fff"/>
<rect x="624.5" y="507" width="4" height="1.8" fill="#fff"/>
<rect x="616.5" y="510" width="1" height="1" fill="#fff"/>
<rect x="618" y="512" width="5" height="3.8" fill="#fff"/>
<rect x="624.5" y="513" width="4" height="1.8" fill="#fff"/>
<rect x="616.5" y="516" width="1" height="1" fill="#fff"/>
<rect x="618" y="518" width="5" height="3.8" fill="#fff"/>
<rect x="624.5" y="519" width="4" height="1.8" fill="#fff"/>
<rect x="616.5" y="522" width="1" height="1" fill="#fff"/>
<rect x="618" y="524" width="5" height="3.8" fill="#fff"/>
<rect x="624.5" y="525" width="4" height="1.8" fill="#fff"/>
<rect x="616.5" y="528" width="1" height="1" fill="#fff"/>
<rect x="618" y="529" width="5" height="3.8" fill="#fff"/>
<rect x="624.5" y="530" width="4" height="1.8" fill="#fff"/>
<rect x="616.5" y="533" width="1" height="1" fill="#fff"/>
<rect x="618" y="535" width="5" height="3.8" fill="#fff"/>
<rect x="624.5" y="536" width="4" height="1.8" fill="#fff"/>
<rect x="616.5" y="539" width="1" height="1" fill="#fff"/>
<rect x="618" y="541" width="5" height="3.8" fill="#fff"/>
<rect x="624.5" y="542" width="4" height="1.8" fill="#fff"/>
<rect x="616.5" y="545" width="1" height="1" fill="#fff"/>
<rect x="618" y="547" width="5" height="3.8" fill="#fff"/>
<rect x="624.5" y="548" width="4" height="1.8" fill="#fff"/>
<rect x="616.5" y="551" width="1" height="1" fill="#fff"/>
<rect x="618" y="553" width="5" height="3.8" fill="#fff"/>
<rect x="624.5" y="554" width="4" height="1.8" fill="#fff"/>
<rect x="616.5" y="557" width="1" height="1" fill="#fff"/>
<rect x="618" y="559" width="5" height="3.8" fill="#fff"/>
<rect x="624.5" y="560" width="4" height="1.8" fill="#fff"/>
<rect x="616.5" y="563" width="1" height="1" fill="#fff"/>
<rect x="618" y="565" width="5" height="3.8" fill="#fff"/>
<rect x="624.5" y="566" width="4" height="1.8" fill="#fff"/>
<rect x="616.5" y="569" width="1" height="1" fill="#fff"/>
<rect x="618" y="571" width="5" height="3.8" fill="#fff"/>
<rect x="624.5" y="572" width="4" height="1.8" fill="#fff"/>
<rect x="616.5" y="575" width="1" height="1" fill="#fff"/>
<rect x="618" y="577" width="5" height="3.8" fill="#fff"/>
<rect x="624.5" y="578" width="4" height="1.8" fill="#fff"/>
<rect x="616.5" y="581" width="1" height="1" fill="#fff"/>
<rect x="618" y="582" width="5" height="3.8" fill="#fff"/>
<rect x="624.5" y="583" width="4" height="1.8" fill="#fff"/>
<rect x="616.5" y="586" width="1" height="1" fill="#fff"/>
<rect x="618" y="588" width="5" height="3.8" fill="#fff"/>
<rect x="624.5" y="589" width="4" height="1.8" fill="#fff"/>
<rect x="616.5" y="592" width="1" height="1" fill="#fff"/>
<rect x="618" y="594" width="5" height="3.8" fill="#fff"/>
<rect x="624.5" y="595" width="4" height="1.8" fill="#fff"/>
<rect x="616.5" y="598" width="1" height="1" fill="#fff"/>
<rect x="618" y="600" width="5" height="3.8" fill="#fff"/>
<rect x="624.5" y="601" width="4" height="1.8" fill="#fff"/>
<rect x="616.5" y="604" width="1" height="1" fill="#fff"/>
<rect x="617" y="611" width="1" height="10" fill="#000"/>
<rect x="617" y="611" width="10" height="1" fill="#000"/>
<rect x="626" y="611" width="1" height="4" fill="#000"/>
<rect x="626" y="614" width="6" height="1" fill="#000"/>
<rect x="631" y="614" width="1" height="8" fill="#000"/>
<rect x="624" y="614.5" width="1.5" height="4" fill="#000"/>
<rect x="624" y="617" width="6" height="1.5" fill="#000"/>
<rect x="628.5" y="617" width="1.5" height="4" fill="#000"/>
<rect x="616" y="621" width="16" height="2" fill="#000"/>
<rect x="615" y="623" width="17" height="1" fill="#000"/>
<rect x="618" y="624" width="1" height="8" fill="#000"/>
<rect x="625" y="624" width="1" height="8" fill="#000"/>
<rect x="634" y="407" width="19" height="226" fill="#fff"/>
<rect x="634" y="407" width="1" height="226" fill="#000"/>
<rect x="652" y="407" width="1" height="226" fill="#000"/>
<rect x="634" y="407" width="19" height="1" fill="#000"/>
<rect x="634" y="632" width="19" height="1" fill="#000"/>
<rect x="638" y="407" width="1" height="7" fill="#000"/>
<rect x="645" y="407" width="1" height="7" fill="#000"/>
<rect x="635" y="414" width="17" height="1" fill="#000"/>
<rect x="636" y="415" width="16" height="2.5" fill="#000"/>
<rect x="637" y="417" width="1" height="11" fill="#000"/>
<rect x="637" y="427" width="10" height="1" fill="#000"/>
<rect x="646" y="424" width="1" height="4" fill="#000"/>
<rect x="646" y="424" width="6" height="1" fill="#000"/>
<rect x="651" y="417" width="1" height="8" fill="#000"/>
<rect x="644" y="420" width="1.5" height="4" fill="#000"/>
<rect x="644" y="420" width="6" height="1.5" fill="#000"/>
<rect x="648.5" y="418" width="1.5" height="3.5" fill="#000"/>
<rect x="636.5" y="432" width="13.5" height="174.5" fill="#000"/>
<rect x="638" y="435" width="5" height="3.8" fill="#fff"/>
<rect x="644.5" y="436" width="4" height="1.8" fill="#fff"/>
<rect x="636.5" y="439" width="1" height="1" fill="#fff"/>
<rect x="638" y="441" width="5" height="3.8" fill="#fff"/>
<rect x="644.5" y="442" width="4" height="1.8" fill="#fff"/>
<rect x="636.5" y="445" width="1" height="1" fill="#fff"/>
<rect x="638" y="447" width="5" height="3.8" fill="#fff"/>
<rect x="644.5" y="448" width="4" height="1.8" fill="#fff"/>
<rect x="636.5" y="451" width="1" height="1" fill="#fff"/>
<rect x="638" y="453" width="5" height="3.8" fill="#fff"/>
<rect x="644.5" y="454" width="4" height="1.8" fill="#fff"/>
<rect x="636.5" y="457" width="1" height="1" fill="#fff"/>
<rect x="638" y="459" width="5" height="3.8" fill="#fff"/>
<rect x="644.5" y="460" width="4" height="1.8" fill="#fff"/>
<rect x="636.5" y="463" width="1" height="1" fill="#fff"/>
<rect x="638" y="464" width="5" height="3.8" fill="#fff"/>
<rect x="644.5" y="465" width="4" height="1.8" fill="#fff"/>
<rect x="636.5" y="468" width="1" height="1" fill="#fff"/>
<rect x="637" y="464.5" width="2" height="2.5" fill="#fff"/>
<rect x="643" y="465.5" width="2" height="1" fill="#fff"/>
<rect x="638" y="470" width="5" height="3.8" fill="#fff"/>
<rect x="644.5" y="471" width="4" height="1.8" fill="#fff"/>
<rect x="636.5" y="474" width="1" height="1" fill="#fff"/>
<rect x="637" y="470.5" width="2" height="2.5" fill="#fff"/>
<rect x="643" y="471.5" width="2" height="1" fill="#fff"/>
<rect x="638" y="476" width="5" height="3.8" fill="#fff"/>
<rect x="644.5" y="477" width="4" height="1.8" fill="#fff"/>
<rect x="636.5" y="480" width="1" height="1" fill="#fff"/>
<rect x="638" y="482" width="5" height="3.8" fill="#fff"/>
<rect x="644.5" y="483" width="4" height="1.8" fill="#fff"/>
<rect x="636.5" y="486" width="1" height="1" fill="#fff"/>
<rect x="638" y="488" width="5" height="3.8" fill="#fff"/>
<rect x="644.5" y="489" width="4" height="1.8" fill="#fff"/>
<rect x="636.5" y="492" width="1" height="1" fill="#fff"/>
<rect x="638" y="494" width="5" height="3.8" fill="#fff"/>
<rect x="644.5" y="495" width="4" height="1.8" fill="#fff"/>
<rect x="636.5" y="498" width="1" height="1" fill="#fff"/>
<rect x="638" y="500" width="5" height="3.8" fill="#fff"/>
<rect x="644.5" y="501" width="4" height="1.8" fill="#fff"/>
<rect x="636.5" y="504" width="1" height="1" fill="#fff"/>
<rect x="638" y="506" width="5" height="3.8" fill="#fff"/>
<rect x="644.5" y="507" width="4" height="1.8" fill="#fff"/>
<rect x="636.5" y="510" width="1" height="1" fill="#fff"/>
<rect x="638" y="512" width="5" height="3.8" fill="#fff"/>
<rect x="644.5" y="513" width="4" height="1.8" fill="#fff"/>
<rect x="636.5" y="516" width="1" height="1" fill="#fff"/>
<rect x="638" y="518" width="5" height="3.8" fill="#fff"/>
<rect x="644.5" y="519" width="4" height="1.8" fill="#fff"/>
<rect x="636.5" y="522" width="1" height="1" fill="#fff"/>
<rect x="638" y="524" width="5" height="3.8" fill="#fff"/>
<rect x="644.5" y="525" width="4" height="1.8" fill="#fff"/>
<rect x="636.5" y="528" width="1" height="1" fill="#fff"/>
<rect x="638" y="529" width="5" height="3.8" fill="#fff"/>
<rect x="644.5" y="530" width="4" height="1.8" fill="#fff"/>
<rect x="636.5" y="533" width="1" height="1" fill="#fff"/>
<rect x="638" y="535" width="5" height="3.8" fill="#fff"/>
<rect x="644.5" y="536" width="4" height="1.8" fill="#fff"/>
<rect x="636.5" y="539" width="1" height="1" fill="#fff"/>
<rect x="638" y="541" width="5" height="3.8" fill="#fff"/>
<rect x="644.5" y="542" width="4" height="1.8" fill="#fff"/>
<rect x="636.5" y="545" width="1" height="1" fill="#fff"/>
<rect x="638" y="547" width="5" height="3.8" fill="#fff"/>
<rect x="644.5" y="548" width="4" height="1.8" fill="#fff"/>
<rect x="636.5" y="551" width="1" height="1" fill="#fff"/>
<rect x="638" y="553" width="5" height="3.8" fill="#fff"/>
<rect x="644.5" y="554" width="4" height="1.8" fill="#fff"/>
<rect x="636.5" y="557" width="1" height="1" fill="#fff"/>
<rect x="638" y="559" width="5" height="3.8" fill="#fff"/>
<rect x="644.5" y="560" width="4" height="1.8" fill="#fff"/>
<rect x="636.5" y="563" width="1" height="1" fill="#fff"/>
<rect x="638" y="565" width="5" height="3.8" fill="#fff"/>
<rect x="644.5" y="566" width="4" height="1.8" fill="#fff"/>
<rect x="636.5" y="569" width="1" height="1" fill="#fff"/>
<rect x="638" y="571" width="5" height="3.8" fill="#fff"/>
<rect x="644.5" y="572" width="4" height="1.8" fill="#fff"/>
<rect x="636.5" y="575" width="1" height="1" fill="#fff"/>
<rect x="638" y="577" width="5" height="3.8" fill="#fff"/>
<rect x="644.5" y="578" width="4" height="1.8" fill="#fff"/>
<rect x="636.5" y="581" width="1" height="1" fill="#fff"/>
<rect x="638" y="582" width="5" height="3.8" fill="#fff"/>
<rect x="644.5" y="583" width="4" height="1.8" fill="#fff"/>
<rect x="636.5" y="586" width="1" height="1" fill="#fff"/>
<rect x="638" y="588" width="5" height="3.8" fill="#fff"/>
<rect x="644.5" y="589" width="4" height="1.8" fill="#fff"/>
<rect x="636.5" y="592" width="1" height="1" fill="#fff"/>
<rect x="638" y="594" width="5" height="3.8" fill="#fff"/>
<rect x="644.5" y="595" width="4" height="1.8" fill="#fff"/>
<rect x="636.5" y="598" width="1" height="1" fill="#fff"/>
<rect x="638" y="600" width="5" height="3.8" fill="#fff"/>
<rect x="644.5" y="601" width="4" height="1.8" fill="#fff"/>
<rect x="636.5" y="604" width="1" height="1" fill="#fff"/>
<rect x="637" y="611" width="1" height="10" fill="#000"/>
<rect x="637" y="611" width="10" height="1" fill="#000"/>
<rect x="646" y="611" width="1" height="4" fill="#000"/>
<rect x="646" y="614" width="6" height="1" fill="#000"/>
<rect x="651" y="614" width="1" height="8" fill="#000"/>
<rect x="644" y="614.5" width="1.5" height="4" fill="#000"/>
<rect x="644" y="617" width="6" height="1.5" fill="#000"/>
<rect x="648.5" y="617" width="1.5" height="4" fill="#000"/>
<rect x="636" y="621" width="16" height="2" fill="#000"/>
<rect x="635" y="623" width="17" height="1" fill="#000"/>
<rect x="638" y="624" width="1" height="8" fill="#000"/>
<rect x="645" y="624" width="1" height="8" fill="#000"/>
<rect x="654" y="407" width="19" height="226" fill="#fff"/>
<rect x="654" y="407" width="1" height="226" fill="#000"/>
<rect x="672" y="407" width="1" height="226" fill="#000"/>
<rect x="654" y="407" width="19" height="1" fill="#000"/>
<rect x="654" y="632" width="19" height="1" fill="#000"/>
<rect x="658" y="407" width="1" height="7" fill="#000"/>
<rect x="665" y="407" width="1" height="7" fill="#000"/>
<rect x="655" y="414" width="17" height="1" fill="#000"/>
<rect x="656" y="415" width="16" height="2.5" fill="#000"/>
<rect x="657" y="417" width="1" height="11" fill="#000"/>
<rect x="657" y="427" width="10" height="1" fill="#000"/>
<rect x="666" y="424" width="1" height="4" fill="#000"/>
<rect x="666" y="424" width="6" height="1" fill="#000"/>
<rect x="671" y="417" width="1" height="8" fill="#000"/>
<rect x="664" y="420" width="1.5" height="4" fill="#000"/>
<rect x="664" y="420" width="6" height="1.5" fill="#000"/>
<rect x="668.5" y="418" width="1.5" height="3.5" fill="#000"/>
<rect x="656.5" y="432" width="13.5" height="174.5" fill="#000"/>
<rect x="658" y="435" width="5" height="3.8" fill="#fff"/>
<rect x="664.5" y="436" width="4" height="1.8" fill="#fff"/>
<rect x="656.5" y="439" width="1" height="1" fill="#fff"/>
<rect x="658" y="441" width="5" height="3.8" fill="#fff"/>
<rect x="664.5" y="442" width="4" height="1.8" fill="#fff"/>
<rect x="656.5" y="445" width="1" height="1" fill="#fff"/>
<rect x="658" y="447" width="5" height="3.8" fill="#fff"/>
<rect x="664.5" y="448" width="4" height="1.8" fill="#fff"/>
<rect x="656.5" y="451" width="1" height="1" fill="#fff"/>
<rect x="658" y="453" width="5" height="3.8" fill="#fff"/>
<rect x="664.5" y="454" width="4" height="1.8" fill="#fff"/>
<rect x="656.5" y="457" width="1" height="1" fill="#fff"/>
<rect x="658" y="459" width="5" height="3.8" fill="#fff"/>
<rect x="664.5" y="460" width="4" height="1.8" fill="#fff"/>
<rect x="656.5" y="463" width="1" height="1" fill="#fff"/>
<rect x="658" y="464" width="5" height="3.8" fill="#fff"/>
<rect x="664.5" y="465" width="4" height="1.8" fill="#fff"/>
<rect x="656.5" y="468" width="1" height="1" fill="#fff"/>
<rect x="657" y="464.5" width="2" height="2.5" fill="#fff"/>
<rect x="663" y="465.5" width="2" height="1" fill="#fff"/>
<rect x="658" y="470" width="5" height="3.8" fill="#fff"/>
<rect x="664.5" y="471" width="4" height="1.8" fill="#fff"/>
<rect x="656.5" y="474" width="1" height="1" fill="#fff"/>
<rect x="657" y="470.5" width="2" height="2.5" fill="#fff"/>
<rect x="663" y="471.5" width="2" height="1" fill="#fff"/>
<rect x="658" y="476" width="5" height="3.8" fill="#fff"/>
<rect x="664.5" y="477" width="4" height="1.8" fill="#fff"/>
<rect x="656.5" y="480" width="1" height="1" fill="#fff"/>
<rect x="658" y="482" width="5" height="3.8" fill="#fff"/>
<rect x="664.5" y="483" width="4" height="1.8" fill="#fff"/>
<rect x="656.5" y="486" width="1" height="1" fill="#fff"/>
<rect x="658" y="488" width="5" height="3.8" fill="#fff"/>
<rect x="664.5" y="489" width="4" height="1.8" fill="#fff"/>
<rect x="656.5" y="492" width="1" height="1" fill="#fff"/>
<rect x="658" y="494" width="5" height="3.8" fill="#fff"/>
<rect x="664.5" y="495" width="4" height="1.8" fill="#fff"/>
<rect x="656.5" y="498" width="1" height="1" fill="#fff"/>
<rect x="658" y="500" width="5" height="3.8" fill="#fff"/>
<rect x="664.5" y="501" width="4" height="1.8" fill="#fff"/>
<rect x="656.5" y="504" width="1" height="1" fill="#fff"/>
<rect x="658" y="506" width="5" height="3.8" fill="#fff"/>
<rect x="664.5" y="507" width="4" height="1.8" fill="#fff"/>
<rect x="656.5" y="510" width="1" height="1" fill="#fff"/>
<rect x="658" y="512" width="5" height="3.8" fill="#fff"/>
<rect x="664.5" y="513" width="4" height="1.8" fill="#fff"/>
<rect x="656.5" y="516" width="1" height="1" fill="#fff"/>
<rect x="658" y="518" width="5" height="3.8" fill="#fff"/>
<rect x="664.5" y="519" width="4" height="1.8" fill="#fff"/>
<rect x="656.5" y="522" width="1" height="1" fill="#fff"/>
<rect x="658" y="524" width="5" height="3.8" fill="#fff"/>
<rect x="664.5" y="525" width="4" height="1.8" fill="#fff"/>
<rect x="656.5" y="528" width="1" height="1" fill="#fff"/>
<rect x="658" y="529" width="5" height="3.8" fill="#fff"/>
<rect x="664.5" y="530" width="4" height="1.8" fill="#fff"/>
<rect x="656.5" y="533" width="1" height="1" fill="#fff"/>
<rect x="658" y="535" width="5" height="3.8" fill="#fff"/>
<rect x="664.5" y="536" width="4" height="1.8" fill="#fff"/>
<rect x="656.5" y="539" width="1" height="1" fill="#fff"/>
<rect x="658" y="541" width="5" height="3.8" fill="#fff"/>
<rect x="664.5" y="542" width="4" height="1.8" fill="#fff"/>
<rect x="656.5" y="545" width="1" height="1" fill="#fff"/>
<rect x="658" y="547" width="5" height="3.8" fill="#fff"/>
<rect x="664.5" y="548" width="4" height="1.8" fill="#fff"/>
<rect x="656.5" y="551" width="1" height="1" fill="#fff"/>
<rect x="658" y="553" width="5" height="3.8" fill="#fff"/>
<rect x="664.5" y="554" width="4" height="1.8" fill="#fff"/>
<rect x="656.5" y="557" width="1" height="1" fill="#fff"/>
<rect x="658" y="559" width="5" height="3.8" fill="#fff"/>
<rect x="664.5" y="560" width="4" height="1.8" fill="#fff"/>
<rect x="656.5" y="563" width="1" height="1" fill="#fff"/>
<rect x="658" y="565" width="5" height="3.8" fill="#fff"/>
<rect x="664.5" y="566" width="4" height="1.8" fill="#fff"/>
<rect x="656.5" y="569" width="1" height="1" fill="#fff"/>
<rect x="658" y="571" width="5" height="3.8" fill="#fff"/>
<rect x="664.5" y="572" width="4" height="1.8" fill="#fff"/>
<rect x="656.5" y="575" width="1" height="1" fill="#fff"/>
<rect x="658" y="577" width="5" height="3.8" fill="#fff"/>
<rect x="664.5" y="578" width="4" height="1.8" fill="#fff"/>
<rect x="656.5" y="581" width="1" height="1" fill="#fff"/>
<rect x="658" y="582" width="5" height="3.8" fill="#fff"/>
<rect x="664.5" y="583" width="4" height="1.8" fill="#fff"/>
<rect x="656.5" y="586" width="1" height="1" fill="#fff"/>
<rect x="658" y="588" width="5" height="3.8" fill="#fff"/>
<rect x="664.5" y="589" width="4" height="1.8" fill="#fff"/>
<rect x="656.5" y="592" width="1" height="1" fill="#fff"/>
<rect x="658" y="594" width="5" height="3.8" fill="#fff"/>
<rect x="664.5" y="595" width="4" height="1.8" fill="#fff"/>
<rect x="656.5" y="598" width="1" height="1" fill="#fff"/>
<rect x="658" y="600" width="5" height="3.8" fill="#fff"/>
<rect x="664.5" y="601" width="4" height="1.8" fill="#fff"/>
<rect x="656.5" y="604" width="1" height="1" fill="#fff"/>
<rect x="657" y="611" width="1" height="10" fill="#000"/>
<rect x="657" y="611" width="10" height="1" fill="#000"/>
<rect x="666" y="611" width="1" height="4" fill="#000"/>
<rect x="666" y="614" width="6" height="1" fill="#000"/>
<rect x="671" y="614" width="1" height="8" fill="#000"/>
<rect x="664" y="614.5" width="1.5" height="4" fill="#000"/>
<rect x="664" y="617" width="6" height="1.5" fill="#000"/>
<rect x="668.5" y="617" width="1.5" height="4" fill="#000"/>
<rect x="656" y="621" width="16" height="2" fill="#000"/>
<rect x="655" y="623" width="17" height="1" fill="#000"/>
<rect x="658" y="624" width="1" height="8" fill="#000"/>
<rect x="665" y="624" width="1" height="8" fill="#000"/>
<rect x="675" y="407" width="19" height="226" fill="#fff"/>
<rect x="675" y="407" width="1" height="226" fill="#000"/>
<rect x="693" y="407" width="1" height="226" fill="#000"/>
<rect x="675" y="407" width="19" height="1" fill="#000"/>
<rect x="675" y="632" width="19" height="1" fill="#000"/>
<rect x="679" y="407" width="1" height="7" fill="#000"/>
<rect x="686" y="407" width="1" height="7" fill="#000"/>
<rect x="676" y="414" width="17" height="1" fill="#000"/>
<rect x="677" y="415" width="16" height="2.5" fill="#000"/>
<rect x="678" y="417" width="1" height="11" fill="#000"/>
<rect x="678" y="427" width="10" height="1" fill="#000"/>
<rect x="687" y="424" width="1" height="4" fill="#000"/>
<rect x="687" y="424" width="6" height="1" fill="#000"/>
<rect x="692" y="417" width="1" height="8" fill="#000"/>
<rect x="685" y="420" width="1.5" height="4" fill="#000"/>
<rect x="685" y="420" width="6" height="1.5" fill="#000"/>
<rect x="689.5" y="418" width="1.5" height="3.5" fill="#000"/>
<rect x="677.5" y="432" width="13.5" height="174.5" fill="#000"/>
<rect x="679" y="435" width="5" height="3.8" fill="#fff"/>
<rect x="685.5" y="436" width="4" height="1.8" fill="#fff"/>
<rect x="677.5" y="439" width="1" height="1" fill="#fff"/>
<rect x="679" y="441" width="5" height="3.8" fill="#fff"/>
<rect x="685.5" y="442" width="4" height="1.8" fill="#fff"/>
<rect x="677.5" y="445" width="1" height="1" fill="#fff"/>
<rect x="679" y="447" width="5" height="3.8" fill="#fff"/>
<rect x="685.5" y="448" width="4" height="1.8" fill="#fff"/>
<rect x="677.5" y="451" width="1" height="1" fill="#fff"/>
<rect x="679" y="453" width="5" height="3.8" fill="#fff"/>
<rect x="685.5" y="454" width="4" height="1.8" fill="#fff"/>
<rect x="677.5" y="457" width="1" height="1" fill="#fff"/>
<rect x="679" y="459" width="5" height="3.8" fill="#fff"/>
<rect x="685.5" y="460" width="4" height="1.8" fill="#fff"/>
<rect x="677.5" y="463" width="1" height="1" fill="#fff"/>
<rect x="679" y="464" width="5" height="3.8" fill="#fff"/>
<rect x="685.5" y="465" width="4" height="1.8" fill="#fff"/>
<rect x="677.5" y="468" width="1" height="1" fill="#fff"/>
<rect x="678" y="464.5" width="2" height="2.5" fill="#fff"/>
<rect x="684" y="465.5" width="2" height="1" fill="#fff"/>
<rect x="679" y="470" width="5" height="3.8" fill="#fff"/>
<rect x="685.5" y="471" width="4" height="1.8" fill="#fff"/>
<rect x="677.5" y="474" width="1" height="1" fill="#fff"/>
<rect x="678" y="470.5" width="2" height="2.5" fill="#fff"/>
<rect x="684" y="471.5" width="2" height="1" fill="#fff"/>
<rect x="679" y="476" width="5" height="3.8" fill="#fff"/>
<rect x="685.5" y="477" width="4" height="1.8" fill="#fff"/>
<rect x="677.5" y="480" width="1" height="1" fill="#fff"/>
<rect x="679" y="482" width="5" height="3.8" fill="#fff"/>
<rect x="685.5" y="483" width="4" height="1.8" fill="#fff"/>
<rect x="677.5" y="486" width="1" height="1" fill="#fff"/>
<rect x="679" y="488" width="5" height="3.8" fill="#fff"/>
<rect x="685.5" y="489" width="4" height="1.8" fill="#fff"/>
<rect x="677.5" y="492" width="1" height="1" fill="#fff"/>
<rect x="679" y="494" width="5" height="3.8" fill="#fff"/>
<rect x="685.5" y="495" width="4" height="1.8" fill="#fff"/>
<rect x="677.5" y="498" width="1" height="1" fill="#fff"/>
<rect x="679" y="500" width="5" height="3.8" fill="#fff"/>
<rect x="685.5" y="501" width="4" height="1.8" fill="#fff"/>
<rect x="677.5" y="504" width="1" height="1" fill="#fff"/>
<rect x="679" y="506" width="5" height="3.8" fill="#fff"/>
<rect x="685.5" y="507" width="4" height="1.8" fill="#fff"/>
<rect x="677.5" y="510" width="1" height="1" fill="#fff"/>
<rect x="679" y="512" width="5" height="3.8" fill="#fff"/>
<rect x="685.5" y="513" width="4" height="1.8" fill="#fff"/>
<rect x="677.5" y="516" width="1" height="1" fill="#fff"/>
<rect x="679" y="518" width="5" height="3.8" fill="#fff"/>
<rect x="685.5" y="519" width="4" height="1.8" fill="#fff"/>
<rect x="677.5" y="522" width="1" height="1" fill="#fff"/>
<rect x="679" y="524" width="5" height="3.8" fill="#fff"/>
<rect x="685.5" y="525" width="4" height="1.8" fill="#fff"/>
<rect x="677.5" y="528" width="1" height="1" fill="#fff"/>
<rect x="679" y="529" width="5" height="3.8" fill="#fff"/>
<rect x="685.5" y="530" width="4" height="1.8" fill="#fff"/>
<rect x="677.5" y="533" width="1" height="1" fill="#fff"/>
<rect x="679" y="535" width="5" height="3.8" fill="#fff"/>
<rect x="685.5" y="536" width="4" height="1.8" fill="#fff"/>
<rect x="677.5" y="539" width="1" height="1" fill="#fff"/>
<rect x="679" y="541" width="5" height="3.8" fill="#fff"/>
<rect x="685.5" y="542" width="4" height="1.8" fill="#fff"/>
<rect x="677.5" y="545" width="1" height="1" fill="#fff"/>
<rect x="679" y="547" width="5" height="3.8" fill="#fff"/>
<rect x="685.5" y="548" width="4" height="1.8" fill="#fff"/>
<rect x="677.5" y="551" width="1" height="1" fill="#fff"/>
<rect x="679" y="553" width="5" height="3.8" fill="#fff"/>
<rect x="685.5" y="554" width="4" height="1.8" fill="#fff"/>
<rect x="677.5" y="557" width="1" height="1" fill="#fff"/>
<rect x="679" y="559" width="5" height="3.8" fill="#fff"/>
<rect x="685.5" y="560" width="4" height="1.8" fill="#fff"/>
<rect x="677.5" y="563" width="1" height="1" fill="#fff"/>
<rect x="679" y="565" width="5" height="3.8" fill="#fff"/>
<rect x="685.5" y="566" width="4" height="1.8" fill="#fff"/>
<rect x="677.5" y="569" width="1" height="1" fill="#fff"/>
<rect x="679" y="571" width="5" height="3.8" fill="#fff"/>
<rect x="685.5" y="572" width="4" height="1.8" fill="#fff"/>
<rect x="677.5" y="575" width="1" height="1" fill="#fff"/>
<rect x="679" y="577" width="5" height="3.8" fill="#fff"/>
<rect x="685.5" y="578" width="4" height="1.8" fill="#fff"/>
<rect x="677.5" y="581" width="1" height="1" fill="#fff"/>
<rect x="679" y="582" width="5" height="3.8" fill="#fff"/>
<rect x="685.5" y="583" width="4" height="1.8" fill="#fff"/>
<rect x="677.5" y="586" width="1" height="1" fill="#fff"/>
<rect x="679" y="588" width="5" height="3.8" fill="#fff"/>
<rect x="685.5" y="589" width="4" height="1.8" fill="#fff"/>
<rect x="677.5" y="592" width="1" height="1" fill="#fff"/>
<rect x="679" y="594" width="5" height="3.8" fill="#fff"/>
<rect x="685.5" y="595" width="4" height="1.8" fill="#fff"/>
<rect x="677.5" y="598" width="1" height="1" fill="#fff"/>
<rect x="679" y="600" width="5" height="3.8" fill="#fff"/>
<rect x="685.5" y="601" width="4" height="1.8" fill="#fff"/>
<rect x="677.5" y="604" width="1" height="1" fill="#fff"/>
<rect x="678" y="611" width="1" height="10" fill="#000"/>
<rect x="678" y="611" width="10" height="1" fill="#000"/>
<rect x="687" y="611" width="1" height="4" fill="#000"/>
<rect x="687" y="614" width="6" height="1" fill="#000"/>
<rect x="692" y="614" width="1" height="8" fill="#000"/>
<rect x="685" y="614.5" width="1.5" height="4" fill="#000"/>
<rect x="685" y="617" width="6" height="1.5" fill="#000"/>
<rect x="689.5" y="617" width="1.5" height="4" fill="#000"/>
<rect x="677" y="621" width="16" height="2" fill="#000"/>
<rect x="676" y="623" width="17" height="1" fill="#000"/>
<rect x="679" y="624" width="1" height="8" fill="#000"/>
<rect x="686" y="624" width="1" height="8" fill="#000"/>
<rect x="695" y="407" width="19" height="226" fill="#fff"/>
<rect x="695" y="407" width="1" height="226" fill="#000"/>
<rect x="713" y="407" width="1" height="226" fill="#000"/>
<rect x="695" y="407" width="19" height="1" fill="#000"/>
<rect x="695" y="632" width="19" height="1" fill="#000"/>
<rect x="699" y="407" width="1" height="7" fill="#000"/>
<rect x="706" y="407" width="1" height="7" fill="#000"/>
<rect x="696" y="414" width="17" height="1" fill="#000"/>
<rect x="697" y="415" width="16" height="2.5" fill="#000"/>
<rect x="698" y="417" width="1" height="11" fill="#000"/>
<rect x="698" y="427" width="10" height="1" fill="#000"/>
<rect x="707" y="424" width="1" height="4" fill="#000"/>
<rect x="707" y="424" width="6" height="1" fill="#000"/>
<rect x="712" y="417" width="1" height="8" fill="#000"/>
<rect x="705" y="420" width="1.5" height="4" fill="#000"/>
<rect x="705" y="420" width="6" height="1.5" fill="#000"/>
<rect x="709.5" y="418" width="1.5" height="3.5" fill="#000"/>
<rect x="697.5" y="432" width="13.5" height="174.5" fill="#000"/>
<rect x="699" y="435" width="5" height="3.8" fill="#fff"/>
<rect x="705.5" y="436" width="4" height="1.8" fill="#fff"/>
<rect x="697.5" y="439" width="1" height="1" fill="#fff"/>
<rect x="699" y="441" width="5" height="3.8" fill="#fff"/>
<rect x="705.5" y="442" width="4" height="1.8" fill="#fff"/>
<rect x="697.5" y="445" width="1" height="1" fill="#fff"/>
<rect x="699" y="447" width="5" height="3.8" fill="#fff"/>
<rect x="705.5" y="448" width="4" height="1.8" fill="#fff"/>
<rect x="697.5" y="451" width="1" height="1" fill="#fff"/>
<rect x="699" y="453" width="5" height="3.8" fill="#fff"/>
<rect x="705.5" y="454" width="4" height="1.8" fill="#fff"/>
<rect x="697.5" y="457" width="1" height="1" fill="#fff"/>
<rect x="699" y="459" width="5" height="3.8" fill="#fff"/>
<rect x="705.5" y="460" width="4" height="1.8" fill="#fff"/>
<rect x="697.5" y="463" width="1" height="1" fill="#fff"/>
<rect x="699" y="464" width="5" height="3.8" fill="#fff"/>
<rect x="705.5" y="465" width="4" height="1.8" fill="#fff"/>
<rect x="697.5" y="468" width="1" height="1" fill="#fff"/>
<rect x="698" y="464.5" width="2" height="2.5" fill="#fff"/>
<rect x="704" y="465.5" width="2" height="1" fill="#fff"/>
<rect x="699" y="470" width="5" height="3.8" fill="#fff"/>
<rect x="705.5" y="471" width="4" height="1.8" fill="#fff"/>
<rect x="697.5" y="474" width="1" height="1" fill="#fff"/>
<rect x="698" y="470.5" width="2" height="2.5" fill="#fff"/>
<rect x="704" y="471.5" width="2" height="1" fill="#fff"/>
<rect x="699" y="476" width="5" height="3.8" fill="#fff"/>
<rect x="705.5" y="477" width="4" height="1.8" fill="#fff"/>
<rect x="697.5" y="480" width="1" height="1" fill="#fff"/>
<rect x="699" y="482" width="5" height="3.8" fill="#fff"/>
<rect x="705.5" y="483" width="4" height="1.8" fill="#fff"/>
<rect x="697.5" y="486" width="1" height="1" fill="#fff"/>
<rect x="699" y="488" width="5" height="3.8" fill="#fff"/>
<rect x="705.5" y="489" width="4" height="1.8" fill="#fff"/>
<rect x="697.5" y="492" width="1" height="1" fill="#fff"/>
<rect x="699" y="494" width="5" height="3.8" fill="#fff"/>
<rect x="705.5" y="495" width="4" height="1.8" fill="#fff"/>
<rect x="697.5" y="498" width="1" height="1" fill="#fff"/>
<rect x="699" y="500" width="5" height="3.8" fill="#fff"/>
<rect x="705.5" y="501" width="4" height="1.8" fill="#fff"/>
<rect x="697.5" y="504" width="1" height="1" fill="#fff"/>
<rect x="699" y="506" width="5" height="3.8" fill="#fff"/>
<rect x="705.5" y="507" width="4" height="1.8" fill="#fff"/>
<rect x="697.5" y="510" width="1" height="1" fill="#fff"/>
<rect x="699" y="512" width="5" height="3.8" fill="#fff"/>
<rect x="705.5" y="513" width="4" height="1.8" fill="#fff"/>
<rect x="697.5" y="516" width="1" height="1" fill="#fff"/>
<rect x="699" y="518" width="5" height="3.8" fill="#fff"/>
<rect x="705.5" y="519" width="4" height="1.8" fill="#fff"/>
<rect x="697.5" y="522" width="1" height="1" fill="#fff"/>
<rect x="699" y="524" width="5" height="3.8" fill="#fff"/>
<rect x="705.5" y="525" width="4" height="1.8" fill="#fff"/>
<rect x="697.5" y="528" width="1" height="1" fill="#fff"/>
<rect x="699" y="529" width="5" height="3.8" fill="#fff"/>
<rect x="705.5" y="530" width="4" height="1.8" fill="#fff"/>
<rect x="697.5" y="533" width="1" height="1" fill="#fff"/>
<rect x="699" y="535" width="5" height="3.8" fill="#fff"/>
<rect x="705.5" y="536" width="4" height="1.8" fill="#fff"/>
<rect x="697.5" y="539" width="1" height="1" fill="#fff"/>
<rect x="699" y="541" width="5" height="3.8" fill="#fff"/>
<rect x="705.5" y="542" width="4" height="1.8" fill="#fff"/>
<rect x="697.5" y="545" width="1" height="1" fill="#fff"/>
<rect x="699" y="547" width="5" height="3.8" fill="#fff"/>
<rect x="705.5" y="548" width="4" height="1.8" fill="#fff"/>
<rect x="697.5" y="551" width="1" height="1" fill="#fff"/>
<rect x="699" y="553" width="5" height="3.8" fill="#fff"/>
<rect x="705.5" y="554" width="4" height="1.8" fill="#fff"/>
<rect x="697.5" y="557" width="1" height="1" fill="#fff"/>
<rect x="699" y="559" width="5" height="3.8" fill="#fff"/>
<rect x="705.5" y="560" width="4" height="1.8" fill="#fff"/>
<rect x="697.5" y="563" width="1" height="1" fill="#fff"/>
<rect x="699" y="565" width="5" height="3.8" fill="#fff"/>
<rect x="705.5" y="566" width="4" height="1.8" fill="#fff"/>
<rect x="697.5" y="569" width="1" height="1" fill="#fff"/>
<rect x="699" y="571" width="5" height="3.8" fill="#fff"/>
<rect x="705.5" y="572" width="4" height="1.8" fill="#fff"/>
<rect x="697.5" y="575" width="1" height="1" fill="#fff"/>
<rect x="699" y="577" width="5" height="3.8" fill="#fff"/>
<rect x="705.5" y="578" width="4" height="1.8" fill="#fff"/>
<rect x="697.5" y="581" width="1" height="1" fill="#fff"/>
<rect x="699" y="582" width="5" height="3.8" fill="#fff"/>
<rect x="705.5" y="583" width="4" height="1.8" fill="#fff"/>
<rect x="697.5" y="586" width="1" height="1" fill="#fff"/>
<rect x="699" y="588" width="5" height="3.8" fill="#fff"/>
<rect x="705.5" y="589" width="4" height="1.8" fill="#fff"/>
<rect x="697.5" y="592" width="1" height="1" fill="#fff"/>
<rect x="699" y="594" width="5" height="3.8" fill="#fff"/>
<rect x="705.5" y="595" width="4" height="1.8" fill="#fff"/>
<rect x="697.5" y="598" width="1" height="1" fill="#fff"/>
<rect x="699" y="600" width="5" height="3.8" fill="#fff"/>
<rect x="705.5" y="601" width="4" height="1.8" fill="#fff"/>
<rect x="697.5" y="604" width="1" height="1" fill="#fff"/>
<rect x="698" y="611" width="1" height="10" fill="#000"/>
<rect x="698" y="611" width="10" height="1" fill="#000"/>
<rect x="707" y="611" width="1" height="4" fill="#000"/>
<rect x="707" y="614" width="6" height="1" fill="#000"/>
<rect x="712" y="614" width="1" height="8" fill="#000"/>
<rect x="705" y="614.5" width="1.5" height="4" fill="#000"/>
<rect x="705" y="617" width="6" height="1.5" fill="#000"/>
<rect x="709.5" y="617" width="1.5" height="4" fill="#000"/>
<rect x="697" y="621" width="16" height="2" fill="#000"/>
<rect x="696" y="623" width="17" height="1" fill="#000"/>
<rect x="699" y="624" width="1" height="8" fill="#000"/>
<rect x="706" y="624" width="1" height="8" fill="#000"/>
<rect x="715" y="407" width="19" height="226" fill="#fff"/>
<rect x="715" y="407" width="1" height="226" fill="#000"/>
<rect x="733" y="407" width="1" height="226" fill="#000"/>
<rect x="715" y="407" width="19" height="1" fill="#000"/>
<rect x="715" y="632" width="19" height="1" fill="#000"/>
<rect x="719" y="407" width="1" height="7" fill="#000"/>
<rect x="726" y="407" width="1" height="7" fill="#000"/>
<rect x="716" y="414" width="17" height="1" fill="#000"/>
<rect x="717" y="415" width="16" height="2.5" fill="#000"/>
<rect x="718" y="417" width="1" height="11" fill="#000"/>
<rect x="718" y="427" width="10" height="1" fill="#000"/>
<rect x="727" y="424" width="1" height="4" fill="#000"/>
<rect x="727" y="424" width="6" height="1" fill="#000"/>
<rect x="732" y="417" width="1" height="8" fill="#000"/>
<rect x="725" y="420" width="1.5" height="4" fill="#000"/>
<rect x="725" y="420" width="6" height="1.5" fill="#000"/>
<rect x="729.5" y="418" width="1.5" height="3.5" fill="#000"/>
<rect x="717.5" y="432" width="13.5" height="174.5" fill="#000"/>
<rect x="719" y="435" width="5" height="3.8" fill="#fff"/>
<rect x="725.5" y="436" width="4" height="1.8" fill="#fff"/>
<rect x="717.5" y="439" width="1" height="1" fill="#fff"/>
<rect x="719" y="441" width="5" height="3.8" fill="#fff"/>
<rect x="725.5" y="442" width="4" height="1.8" fill="#fff"/>
<rect x="717.5" y="445" width="1" height="1" fill="#fff"/>
<rect x="719" y="447" width="5" height="3.8" fill="#fff"/>
<rect x="725.5" y="448" width="4" height="1.8" fill="#fff"/>
<rect x="717.5" y="451" width="1" height="1" fill="#fff"/>
<rect x="719" y="453" width="5" height="3.8" fill="#fff"/>
<rect x="725.5" y="454" width="4" height="1.8" fill="#fff"/>
<rect x="717.5" y="457" width="1" height="1" fill="#fff"/>
<rect x="719" y="459" width="5" height="3.8" fill="#fff"/>
<rect x="725.5" y="460" width="4" height="1.8" fill="#fff"/>
<rect x="717.5" y="463" width="1" height="1" fill="#fff"/>
<rect x="719" y="464" width="5" height="3.8" fill="#fff"/>
<rect x="725.5" y="465" width="4" height="1.8" fill="#fff"/>
<rect x="717.5" y="468" width="1" height="1" fill="#fff"/>
<rect x="718" y="464.5" width="2" height="2.5" fill="#fff"/>
<rect x="724" y="465.5" width="2" height="1" fill="#fff"/>
<rect x="719" y="470" width="5" height="3.8" fill="#fff"/>
<rect x="725.5" y="471" width="4" height="1.8" fill="#fff"/>
<rect x="717.5" y="474" width="1" height="1" fill="#fff"/>
<rect x="718" y="470.5" width="2" height="2.5" fill="#fff"/>
<rect x="724" y="471.5" width="2" height="1" fill="#fff"/>
<rect x="719" y="476" width="5" height="3.8" fill="#fff"/>
<rect x="725.5" y="477" width="4" height="1.8" fill="#fff"/>
<rect x="717.5" y="480" width="1" height="1" fill="#fff"/>
<rect x="719" y="482" width="5" height="3.8" fill="#fff"/>
<rect x="725.5" y="483" width="4" height="1.8" fill="#fff"/>
<rect x="717.5" y="486" width="1" height="1" fill="#fff"/>
<rect x="719" y="488" width="5" height="3.8" fill="#fff"/>
<rect x="725.5" y="489" width="4" height="1.8" fill="#fff"/>
<rect x="717.5" y="492" width="1" height="1" fill="#fff"/>
<rect x="719" y="494" width="5" height="3.8" fill="#fff"/>
<rect x="725.5" y="495" width="4" height="1.8" fill="#fff"/>
<rect x="717.5" y="498" width="1" height="1" fill="#fff"/>
<rect x="719" y="500" width="5" height="3.8" fill="#fff"/>
<rect x="725.5" y="501" width="4" height="1.8" fill="#fff"/>
<rect x="717.5" y="504" width="1" height="1" fill="#fff"/>
<rect x="719" y="506" width="5" height="3.8" fill="#fff"/>
<rect x="725.5" y="507" width="4" height="1.8" fill="#fff"/>
<rect x="717.5" y="510" width="1" height="1" fill="#fff"/>
<rect x="719" y="512" width="5" height="3.8" fill="#fff"/>
<rect x="725.5" y="513" width="4" height="1.8" fill="#fff"/>
<rect x="717.5" y="516" width="1" height="1" fill="#fff"/>
<rect x="719" y="518" width="5" height="3.8" fill="#fff"/>
<rect x="725.5" y="519" width="4" height="1.8" fill="#fff"/>
<rect x="717.5" y="522" width="1" height="1" fill="#fff"/>
<rect x="719" y="524" width="5" height="3.8" fill="#fff"/>
<rect x="725.5" y="525" width="4" height="1.8" fill="#fff"/>
<rect x="717.5" y="528" width="1" height="1" fill="#fff"/>
<rect x="719" y="529" width="5" height="3.8" fill="#fff"/>
<rect x="725.5" y="530" width="4" height="1.8" fill="#fff"/>
<rect x="717.5" y="533" width="1" height="1" fill="#fff"/>
<rect x="719" y="535" width="5" height="3.8" fill="#fff"/>
<rect x="725.5" y="536" width="4" height="1.8" fill="#fff"/>
<rect x="717.5" y="539" width="1" height="1" fill="#fff"/>
<rect x="719" y="541" width="5" height="3.8" fill="#fff"/>
<rect x="725.5" y="542" width="4" height="1.8" fill="#fff"/>
<rect x="717.5" y="545" width="1" height="1" fill="#fff"/>
<rect x="719" y="547" width="5" height="3.8" fill="#fff"/>
<rect x="725.5" y="548" width="4" height="1.8" fill="#fff"/>
<rect x="717.5" y="551" width="1" height="1" fill="#fff"/>
<rect x="719" y="553" width="5" height="3.8" fill="#fff"/>
<rect x="725.5" y="554" width="4" height="1.8" fill="#fff"/>
<rect x="717.5" y="557" width="1" height="1" fill="#fff"/>
<rect x="719" y="559" width="5" height="3.8" fill="#fff"/>
<rect x="725.5" y="560" width="4" height="1.8" fill="#fff"/>
<rect x="717.5" y="563" width="1" height="1" fill="#fff"/>
<rect x="719" y="565" width="5" height="3.8" fill="#fff"/>
<rect x="725.5" y="566" width="4" height="1.8" fill="#fff"/>
<rect x="717.5" y="569" width="1" height="1" fill="#fff"/>
<rect x="719" y="571" width="5" height="3.8" fill="#fff"/>
<rect x="725.5" y="572" width="4" height="1.8" fill="#fff"/>
<rect x="717.5" y="575" width="1" height="1" fill="#fff"/>
<rect x="719" y="577" width="5" height="3.8" fill="#fff"/>
<rect x="725.5" y="578" width="4" height="1.8" fill="#fff"/>
<rect x="717.5" y="581" width="1" height="1" fill="#fff"/>
<rect x="719" y="582" width="5" height="3.8" fill="#fff"/>
<rect x="725.5" y="583" width="4" height="1.8" fill="#fff"/>
<rect x="717.5" y="586" width="1" height="1" fill="#fff"/>
<rect x="719" y="588" width="5" height="3.8" fill="#fff"/>
<rect x="725.5" y="589" width="4" height="1.8" fill="#fff"/>
<rect x="717.5" y="592" width="1" height="1" fill="#fff"/>
<rect x="719" y="594" width="5" height="3.8" fill="#fff"/>
<rect x="725.5" y="595" width="4" height="1.8" fill="#fff"/>
<rect x="717.5" y="598" width="1" height="1" fill="#fff"/>
<rect x="719" y="600" width="5" height="3.8" fill="#fff"/>
<rect x="725.5" y="601" width="4" height="1.8" fill="#fff"/>
<rect x="717.5" y="604" width="1" height="1" fill="#fff"/>
<rect x="718" y="611" width="1" height="10" fill="#000"/>
<rect x="718" y="611" width="10" height="1" fill="#000"/>
<rect x="727" y="611" width="1" height="4" fill="#000"/>
<rect x="727" y="614" width="6" height="1" fill="#000"/>
<rect x="732" y="614" width="1" height="8" fill="#000"/>
<rect x="725" y="614.5" width="1.5" height="4" fill="#000"/>
<rect x="725" y="617" width="6" height="1.5" fill="#000"/>
<rect x="729.5" y="617" width="1.5" height="4" fill="#000"/>
<rect x="717" y="621" width="16" height="2" fill="#000"/>
<rect x="716" y="623" width="17" height="1" fill="#000"/>
<rect x="719" y="624" width="1" height="8" fill="#000"/>
<rect x="726" y="624" width="1" height="8" fill="#000"/>
<rect x="735" y="407" width="19" height="226" fill="#fff"/>
<rect x="735" y="407" width="1" height="226" fill="#000"/>
<rect x="753" y="407" width="1" height="226" fill="#000"/>
<rect x="735" y="407" width="19" height="1" fill="#000"/>
<rect x="735" y="632" width="19" height="1" fill="#000"/>
<rect x="739" y="407" width="1" height="7" fill="#000"/>
<rect x="746" y="407" width="1" height="7" fill="#000"/>
<rect x="736" y="414" width="17" height="1" fill="#000"/>
<rect x="737" y="415" width="16" height="2.5" fill="#000"/>
<rect x="738" y="417" width="1" height="11" fill="#000"/>
<rect x="738" y="427" width="10" height="1" fill="#000"/>
<rect x="747" y="424" width="1" height="4" fill="#000"/>
<rect x="747" y="424" width="6" height="1" fill="#000"/>
<rect x="752" y="417" width="1" height="8" fill="#000"/>
<rect x="745" y="420" width="1.5" height="4" fill="#000"/>
<rect x="745" y="420" width="6" height="1.5" fill="#000"/>
<rect x="749.5" y="418" width="1.5" height="3.5" fill="#000"/>
<rect x="737.5" y="432" width="13.5" height="174.5" fill="#000"/>
<rect x="739" y="435" width="5" height="3.8" fill="#fff"/>
<rect x="745.5" y="436" width="4" height="1.8" fill="#fff"/>
<rect x="737.5" y="439" width="1" height="1" fill="#fff"/>
<rect x="739" y="441" width="5" height="3.8" fill="#fff"/>
<rect x="745.5" y="442" width="4" height="1.8" fill="#fff"/>
<rect x="737.5" y="445" width="1" height="1" fill="#fff"/>
<rect x="739" y="447" width="5" height="3.8" fill="#fff"/>
<rect x="745.5" y="448" width="4" height="1.8" fill="#fff"/>
<rect x="737.5" y="451" width="1" height="1" fill="#fff"/>
<rect x="739" y="453" width="5" height="3.8" fill="#fff"/>
<rect x="745.5" y="454" width="4" height="1.8" fill="#fff"/>
<rect x="737.5" y="457" width="1" height="1" fill="#fff"/>
<rect x="739" y="459" width="5" height="3.8" fill="#fff"/>
<rect x="745.5" y="460" width="4" height="1.8" fill="#fff"/>
<rect x="737.5" y="463" width="1" height="1" fill="#fff"/>
<rect x="739" y="464" width="5" height="3.8" fill="#fff"/>
<rect x="745.5" y="465" width="4" height="1.8" fill="#fff"/>
<rect x="737.5" y="468" width="1" height="1" fill="#fff"/>
<rect x="738" y="464.5" width="2" height="2.5" fill="#fff"/>
<rect x="744" y="465.5" width="2" height="1" fill="#fff"/>
<rect x="739" y="470" width="5" height="3.8" fill="#fff"/>
<rect x="745.5" y="471" width="4" height="1.8" fill="#fff"/>
<rect x="737.5" y="474" width="1" height="1" fill="#fff"/>
<rect x="738" y="470.5" width="2" height="2.5" fill="#fff"/>
<rect x="744" y="471.5" width="2" height="1" fill="#fff"/>
<rect x="739" y="476" width="5" height="3.8" fill="#fff"/>
<rect x="745.5" y="477" width="4" height="1.8" fill="#fff"/>
<rect x="737.5" y="480" width="1" height="1" fill="#fff"/>
<rect x="739" y="482" width="5" height="3.8" fill="#fff"/>
<rect x="745.5" y="483" width="4" height="1.8" fill="#fff"/>
<rect x="737.5" y="486" width="1" height="1" fill="#fff"/>
<rect x="739" y="488" width="5" height="3.8" fill="#fff"/>
<rect x="745.5" y="489" width="4" height="1.8" fill="#fff"/>
<rect x="737.5" y="492" width="1" height="1" fill="#fff"/>
<rect x="739" y="494" width="5" height="3.8" fill="#fff"/>
<rect x="745.5" y="495" width="4" height="1.8" fill="#fff"/>
<rect x="737.5" y="498" width="1" height="1" fill="#fff"/>
<rect x="739" y="500" width="5" height="3.8" fill="#fff"/>
<rect x="745.5" y="501" width="4" height="1.8" fill="#fff"/>
<rect x="737.5" y="504" width="1" height="1" fill="#fff"/>
<rect x="739" y="506" width="5" height="3.8" fill="#fff"/>
<rect x="745.5" y="507" width="4" height="1.8" fill="#fff"/>
<rect x="737.5" y="510" width="1" height="1" fill="#fff"/>
<rect x="739" y="512" width="5" height="3.8" fill="#fff"/>
<rect x="745.5" y="513" width="4" height="1.8" fill="#fff"/>
<rect x="737.5" y="516" width="1" height="1" fill="#fff"/>
<rect x="739" y="518" width="5" height="3.8" fill="#fff"/>
<rect x="745.5" y="519" width="4" height="1.8" fill="#fff"/>
<rect x="737.5" y="522" width="1" height="1" fill="#fff"/>
<rect x="739" y="524" width="5" height="3.8" fill="#fff"/>
<rect x="745.5" y="525" width="4" height="1.8" fill="#fff"/>
<rect x="737.5" y="528" width="1" height="1" fill="#fff"/>
<rect x="739" y="529" width="5" height="3.8" fill="#fff"/>
<rect x="745.5" y="530" width="4" height="1.8" fill="#fff"/>
<rect x="737.5" y="533" width="1" height="1" fill="#fff"/>
<rect x="739" y="535" width="5" height="3.8" fill="#fff"/>
<rect x="745.5" y="536" width="4" height="1.8" fill="#fff"/>
<rect x="737.5" y="539" width="1" height="1" fill="#fff"/>
<rect x="739" y="541" width="5" height="3.8" fill="#fff"/>
<rect x="745.5" y="542" width="4" height="1.8" fill="#fff"/>
<rect x="737.5" y="545" width="1" height="1" fill="#fff"/>
<rect x="739" y="547" width="5" height="3.8" fill="#fff"/>
<rect x="745.5" y="548" width="4" height="1.8" fill="#fff"/>
<rect x="737.5" y="551" width="1" height="1" fill="#fff"/>
<rect x="739" y="553" width="5" height="3.8" fill="#fff"/>
<rect x="745.5" y="554" width="4" height="1.8" fill="#fff"/>
<rect x="737.5" y="557" width="1" height="1" fill="#fff"/>
<rect x="739" y="559" width="5" height="3.8" fill="#fff"/>
<rect x="745.5" y="560" width="4" height="1.8" fill="#fff"/>
<rect x="737.5" y="563" width="1" height="1" fill="#fff"/>
<rect x="739" y="565" width="5" height="3.8" fill="#fff"/>
<rect x="745.5" y="566" width="4" height="1.8" fill="#fff"/>
<rect x="737.5" y="569" width="1" height="1" fill="#fff"/>
<rect x="739" y="571" width="5" height="3.8" fill="#fff"/>
<rect x="745.5" y="572" width="4" height="1.8" fill="#fff"/>
<rect x="737.5" y="575" width="1" height="1" fill="#fff"/>
<rect x="739" y="577" width="5" height="3.8" fill="#fff"/>
<rect x="745.5" y="578" width="4" height="1.8" fill="#fff"/>
<rect x="737.5" y="581" width="1" height="1" fill="#fff"/>
<rect x="739" y="582" width="5" height="3.8" fill="#fff"/>
<rect x="745.5" y="583" width="4" height="1.8" fill="#fff"/>
<rect x="737.5" y="586" width="1" height="1" fill="#fff"/>
<rect x="739" y="588" width="5" height="3.8" fill="#fff"/>
<rect x="745.5" y="589" width="4" height="1.8" fill="#fff"/>
<rect x="737.5" y="592" width="1" height="1" fill="#fff"/>
<rect x="739" y="594" width="5" height="3.8" fill="#fff"/>
<rect x="745.5" y="595" width="4" height="1.8" fill="#fff"/>
<rect x="737.5" y="598" width="1" height="1" fill="#fff"/>
<rect x="739" y="600" width="5" height="3.8" fill="#fff"/>
<rect x="745.5" y="601" width="4" height="1.8" fill="#fff"/>
<rect x="737.5" y="604" width="1" height="1" fill="#fff"/>
<rect x="738" y="611" width="1" height="10" fill="#000"/>
<rect x="738" y="611" width="10" height="1" fill="#000"/>
<rect x="747" y="611" width="1" height="4" fill="#000"/>
<rect x="747" y="614" width="6" height="1" fill="#000"/>
<rect x="752" y="614" width="1" height="8" fill="#000"/>
<rect x="745" y="614.5" width="1.5" height="4" fill="#000"/>
<rect x="745" y="617" width="6" height="1.5" fill="#000"/>
<rect x="749.5" y="617" width="1.5" height="4" fill="#000"/>
<rect x="737" y="621" width="16" height="2" fill="#000"/>
<rect x="736" y="623" width="17" height="1" fill="#000"/>
<rect x="739" y="624" width="1" height="8" fill="#000"/>
<rect x="746" y="624" width="1" height="8" fill="#000"/>
<rect x="755" y="407" width="19" height="226" fill="#fff"/>
<rect x="755" y="407" width="1" height="226" fill="#000"/>
<rect x="773" y="407" width="1" height="226" fill="#000"/>
<rect x="755" y="407" width="19" height="1" fill="#000"/>
<rect x="755" y="632" width="19" height="1" fill="#000"/>
<rect x="759" y="407" width="1" height="7" fill="#000"/>
<rect x="766" y="407" width="1" height="7" fill="#000"/>
<rect x="756" y="414" width="17" height="1" fill="#000"/>
<rect x="757" y="415" width="16" height="2.5" fill="#000"/>
<rect x="758" y="417" width="1" height="11" fill="#000"/>
<rect x="758" y="427" width="10" height="1" fill="#000"/>
<rect x="767" y="424" width="1" height="4" fill="#000"/>
<rect x="767" y="424" width="6" height="1" fill="#000"/>
<rect x="772" y="417" width="1" height="8" fill="#000"/>
<rect x="765" y="420" width="1.5" height="4" fill="#000"/>
<rect x="765" y="420" width="6" height="1.5" fill="#000"/>
<rect x="769.5" y="418" width="1.5" height="3.5" fill="#000"/>
<rect x="757.5" y="432" width="13.5" height="174.5" fill="#000"/>
<rect x="759" y="435" width="5" height="3.8" fill="#fff"/>
<rect x="765.5" y="436" width="4" height="1.8" fill="#fff"/>
<rect x="757.5" y="439" width="1" height="1" fill="#fff"/>
<rect x="759" y="441" width="5" height="3.8" fill="#fff"/>
<rect x="765.5" y="442" width="4" height="1.8" fill="#fff"/>
<rect x="757.5" y="445" width="1" height="1" fill="#fff"/>
<rect x="759" y="447" width="5" height="3.8" fill="#fff"/>
<rect x="765.5" y="448" width="4" height="1.8" fill="#fff"/>
<rect x="757.5" y="451" width="1" height="1" fill="#fff"/>
<rect x="759" y="453" width="5" height="3.8" fill="#fff"/>
<rect x="765.5" y="454" width="4" height="1.8" fill="#fff"/>
<rect x="757.5" y="457" width="1" height="1" fill="#fff"/>
<rect x="759" y="459" width="5" height="3.8" fill="#fff"/>
<rect x="765.5" y="460" width="4" height="1.8" fill="#fff"/>
<rect x="757.5" y="463" width="1" height="1" fill="#fff"/>
<rect x="759" y="464" width="5" height="3.8" fill="#fff"/>
<rect x="765.5" y="465" width="4" height="1.8" fill="#fff"/>
<rect x="757.5" y="468" width="1" height="1" fill="#fff"/>
<rect x="758" y="464.5" width="2" height="2.5" fill="#fff"/>
<rect x="764" y="465.5" width="2" height="1" fill="#fff"/>
<rect x="759" y="470" width="5" height="3.8" fill="#fff"/>
<rect x="765.5" y="471" width="4" height="1.8" fill="#fff"/>
<rect x="757.5" y="474" width="1" height="1" fill="#fff"/>
<rect x="758" y="470.5" width="2" height="2.5" fill="#fff"/>
<rect x="764" y="471.5" width="2" height="1" fill="#fff"/>
<rect x="759" y="476" width="5" height="3.8" fill="#fff"/>
<rect x="765.5" y="477" width="4" height="1.8" fill="#fff"/>
<rect x="757.5" y="480" width="1" height="1" fill="#fff"/>
<rect x="759" y="482" width="5" height="3.8" fill="#fff"/>
<rect x="765.5" y="483" width="4" height="1.8" fill="#fff"/>
<rect x="757.5" y="486" width="1" height="1" fill="#fff"/>
<rect x="759" y="488" width="5" height="3.8" fill="#fff"/>
<rect x="765.5" y="489" width="4" height="1.8" fill="#fff"/>
<rect x="757.5" y="492" width="1" height="1" fill="#fff"/>
<rect x="759" y="494" width="5" height="3.8" fill="#fff"/>
<rect x="765.5" y="495" width="4" height="1.8" fill="#fff"/>
<rect x="757.5" y="498" width="1" height="1" fill="#fff"/>
<rect x="759" y="500" width="5" height="3.8" fill="#fff"/>
<rect x="765.5" y="501" width="4" height="1.8" fill="#fff"/>
<rect x="757.5" y="504" width="1" height="1" fill="#fff"/>
<rect x="759" y="506" width="5" height="3.8" fill="#fff"/>
<rect x="765.5" y="507" width="4" height="1.8" fill="#fff"/>
<rect x="757.5" y="510" width="1" height="1" fill="#fff"/>
<rect x="759" y="512" width="5" height="3.8" fill="#fff"/>
<rect x="765.5" y="513" width="4" height="1.8" fill="#fff"/>
<rect x="757.5" y="516" width="1" height="1" fill="#fff"/>
<rect x="759" y="518" width="5" height="3.8" fill="#fff"/>
<rect x="765.5" y="519" width="4" height="1.8" fill="#fff"/>
<rect x="757.5" y="522" width="1" height="1" fill="#fff"/>
<rect x="759" y="524" width="5" height="3.8" fill="#fff"/>
<rect x="765.5" y="525" width="4" height="1.8" fill="#fff"/>
<rect x="757.5" y="528" width="1" height="1" fill="#fff"/>
<rect x="759" y="529" width="5" height="3.8" fill="#fff"/>
<rect x="765.5" y="530" width="4" height="1.8" fill="#fff"/>
<rect x="757.5" y="533" width="1" height="1" fill="#fff"/>
<rect x="759" y="535" width="5" height="3.8" fill="#fff"/>
<rect x="765.5" y="536" width="4" height="1.8" fill="#fff"/>
<rect x="757.5" y="539" width="1" height="1" fill="#fff"/>
<rect x="759" y="541" width="5" height="3.8" fill="#fff"/>
<rect x="765.5" y="542" width="4" height="1.8" fill="#fff"/>
<rect x="757.5" y="545" width="1" height="1" fill="#fff"/>
<rect x="759" y="547" width="5" height="3.8" fill="#fff"/>
<rect x="765.5" y="548" width="4" height="1.8" fill="#fff"/>
<rect x="757.5" y="551" width="1" height="1" fill="#fff"/>
<rect x="759" y="553" width="5" height="3.8" fill="#fff"/>
<rect x="765.5" y="554" width="4" height="1.8" fill="#fff"/>
<rect x="757.5" y="557" width="1" height="1" fill="#fff"/>
<rect x="759" y="559" width="5" height="3.8" fill="#fff"/>
<rect x="765.5" y="560" width="4" height="1.8" fill="#fff"/>
<rect x="757.5" y="563" width="1" height="1" fill="#fff"/>
<rect x="759" y="565" width="5" height="3.8" fill="#fff"/>
<rect x="765.5" y="566" width="4" height="1.8" fill="#fff"/>
<rect x="757.5" y="569" width="1" height="1" fill="#fff"/>
<rect x="759" y="571" width="5" height="3.8" fill="#fff"/>
<rect x="765.5" y="572" width="4" height="1.8" fill="#fff"/>
<rect x="757.5" y="575" width="1" height="1" fill="#fff"/>
<rect x="759" y="577" width="5" height="3.8" fill="#fff"/>
<rect x="765.5" y="578" width="4" height="1.8" fill="#fff"/>
<rect x="757.5" y="581" width="1" height="1" fill="#fff"/>
<rect x="759" y="582" width="5" height="3.8" fill="#fff"/>
<rect x="765.5" y="583" width="4" height="1.8" fill="#fff"/>
<rect x="757.5" y="586" width="1" height="1" fill="#fff"/>
<rect x="759" y="588" width="5" height="3.8" fill="#fff"/>
<rect x="765.5" y="589" width="4" height="1.8" fill="#fff"/>
<rect x="757.5" y="592" width="1" height="1" fill="#fff"/>
<rect x="759" y="594" width="5" height="3.8" fill="#fff"/>
<rect x="765.5" y="595" width="4" height="1.8" fill="#fff"/>
<rect x="757.5" y="598" width="1" height="1" fill="#fff"/>
<rect x="759" y="600" width="5" height="3.8" fill="#fff"/>
<rect x="765.5" y="601" width="4" height="1.8" fill="#fff"/>
<rect x="757.5" y="604" width="1" height="1" fill="#fff"/>
<rect x="758" y="611" width="1" height="10" fill="#000"/>
<rect x="758" y="611" width="10" height="1" fill="#000"/>
<rect x="767" y="611" width="1" height="4" fill="#000"/>
<rect x="767" y="614" width="6" height="1" fill="#000"/>
<rect x="772" y="614" width="1" height="8" fill="#000"/>
<rect x="765" y="614.5" width="1.5" height="4" fill="#000"/>
<rect x="765" y="617" width="6" height="1.5" fill="#000"/>
<rect x="769.5" y="617" width="1.5" height="4" fill="#000"/>
<rect x="757" y="621" width="16" height="2" fill="#000"/>
<rect x="756" y="623" width="17" height="1" fill="#000"/>
<rect x="759" y="624" width="1" height="8" fill="#000"/>
<rect x="766" y="624" width="1" height="8" fill="#000"/>
<rect x="479.5" y="473.5" width="20" height="78" fill="#000"/>
<rect x="483" y="477" width="14" height="72" fill="#fff"/>
<text transform="translate(490 486.3) scale(0.78 1)" font-size="12.5" text-anchor="middle" letter-spacing="0">B</text>
<text transform="translate(490 501.3) scale(0.78 1)" font-size="12.5" text-anchor="middle" letter-spacing="0">A</text>
<text transform="translate(490 516.3) scale(0.78 1)" font-size="12.5" text-anchor="middle" letter-spacing="0">N</text>
<text transform="translate(490 531.3) scale(0.78 1)" font-size="12.5" text-anchor="middle" letter-spacing="0">K</text>
<text transform="translate(490 546.3) scale(0.78 1)" font-size="12.5" text-anchor="middle" letter-spacing="0">0</text>
<rect x="559.5" y="473.5" width="20" height="78" fill="#000"/>
<rect x="563" y="477" width="14" height="72" fill="#fff"/>
<text transform="translate(570 486.3) scale(0.78 1)" font-size="12.5" text-anchor="middle" letter-spacing="0">B</text>
<text transform="translate(570 501.3) scale(0.78 1)" font-size="12.5" text-anchor="middle" letter-spacing="0">A</text>
<text transform="translate(570 516.3) scale(0.78 1)" font-size="12.5" text-anchor="middle" letter-spacing="0">N</text>
<text transform="translate(570 531.3) scale(0.78 1)" font-size="12.5" text-anchor="middle" letter-spacing="0">K</text>
<text transform="translate(570 546.3) scale(0.78 1)" font-size="12.5" text-anchor="middle" letter-spacing="0">1</text>
<rect x="642" y="473.5" width="20" height="78" fill="#000"/>
<rect x="645.5" y="477" width="14" height="72" fill="#fff"/>
<text transform="translate(652.5 486.3) scale(0.78 1)" font-size="12.5" text-anchor="middle" letter-spacing="0">B</text>
<text transform="translate(652.5 501.3) scale(0.78 1)" font-size="12.5" text-anchor="middle" letter-spacing="0">A</text>
<text transform="translate(652.5 516.3) scale(0.78 1)" font-size="12.5" text-anchor="middle" letter-spacing="0">N</text>
<text transform="translate(652.5 531.3) scale(0.78 1)" font-size="12.5" text-anchor="middle" letter-spacing="0">K</text>
<text transform="translate(652.5 546.3) scale(0.78 1)" font-size="12.5" text-anchor="middle" letter-spacing="0">2</text>
<rect x="725.5" y="473.5" width="20" height="78" fill="#000"/>
<rect x="729" y="477" width="14" height="72" fill="#fff"/>
<text transform="translate(736 486.3) scale(0.78 1)" font-size="12.5" text-anchor="middle" letter-spacing="0">B</text>
<text transform="translate(736 501.3) scale(0.78 1)" font-size="12.5" text-anchor="middle" letter-spacing="0">A</text>
<text transform="translate(736 516.3) scale(0.78 1)" font-size="12.5" text-anchor="middle" letter-spacing="0">N</text>
<text transform="translate(736 531.3) scale(0.78 1)" font-size="12.5" text-anchor="middle" letter-spacing="0">K</text>
<text transform="translate(736 546.3) scale(0.78 1)" font-size="12.5" text-anchor="middle" letter-spacing="0">3</text>
<rect x="91" y="110" width="33.5" height="19" rx="5" ry="5" fill="#000" shape-rendering="geometricPrecision"/>
<rect x="93" y="111.75" width="29.5" height="15.25" rx="3.5" ry="3.5" fill="#fff" shape-rendering="geometricPrecision"/>
<text transform="translate(108.024 122.3) scale(0.86 1)" font-size="13" text-anchor="middle" letter-spacing="1.8">NPU</text>
</svg>
</body></html>
